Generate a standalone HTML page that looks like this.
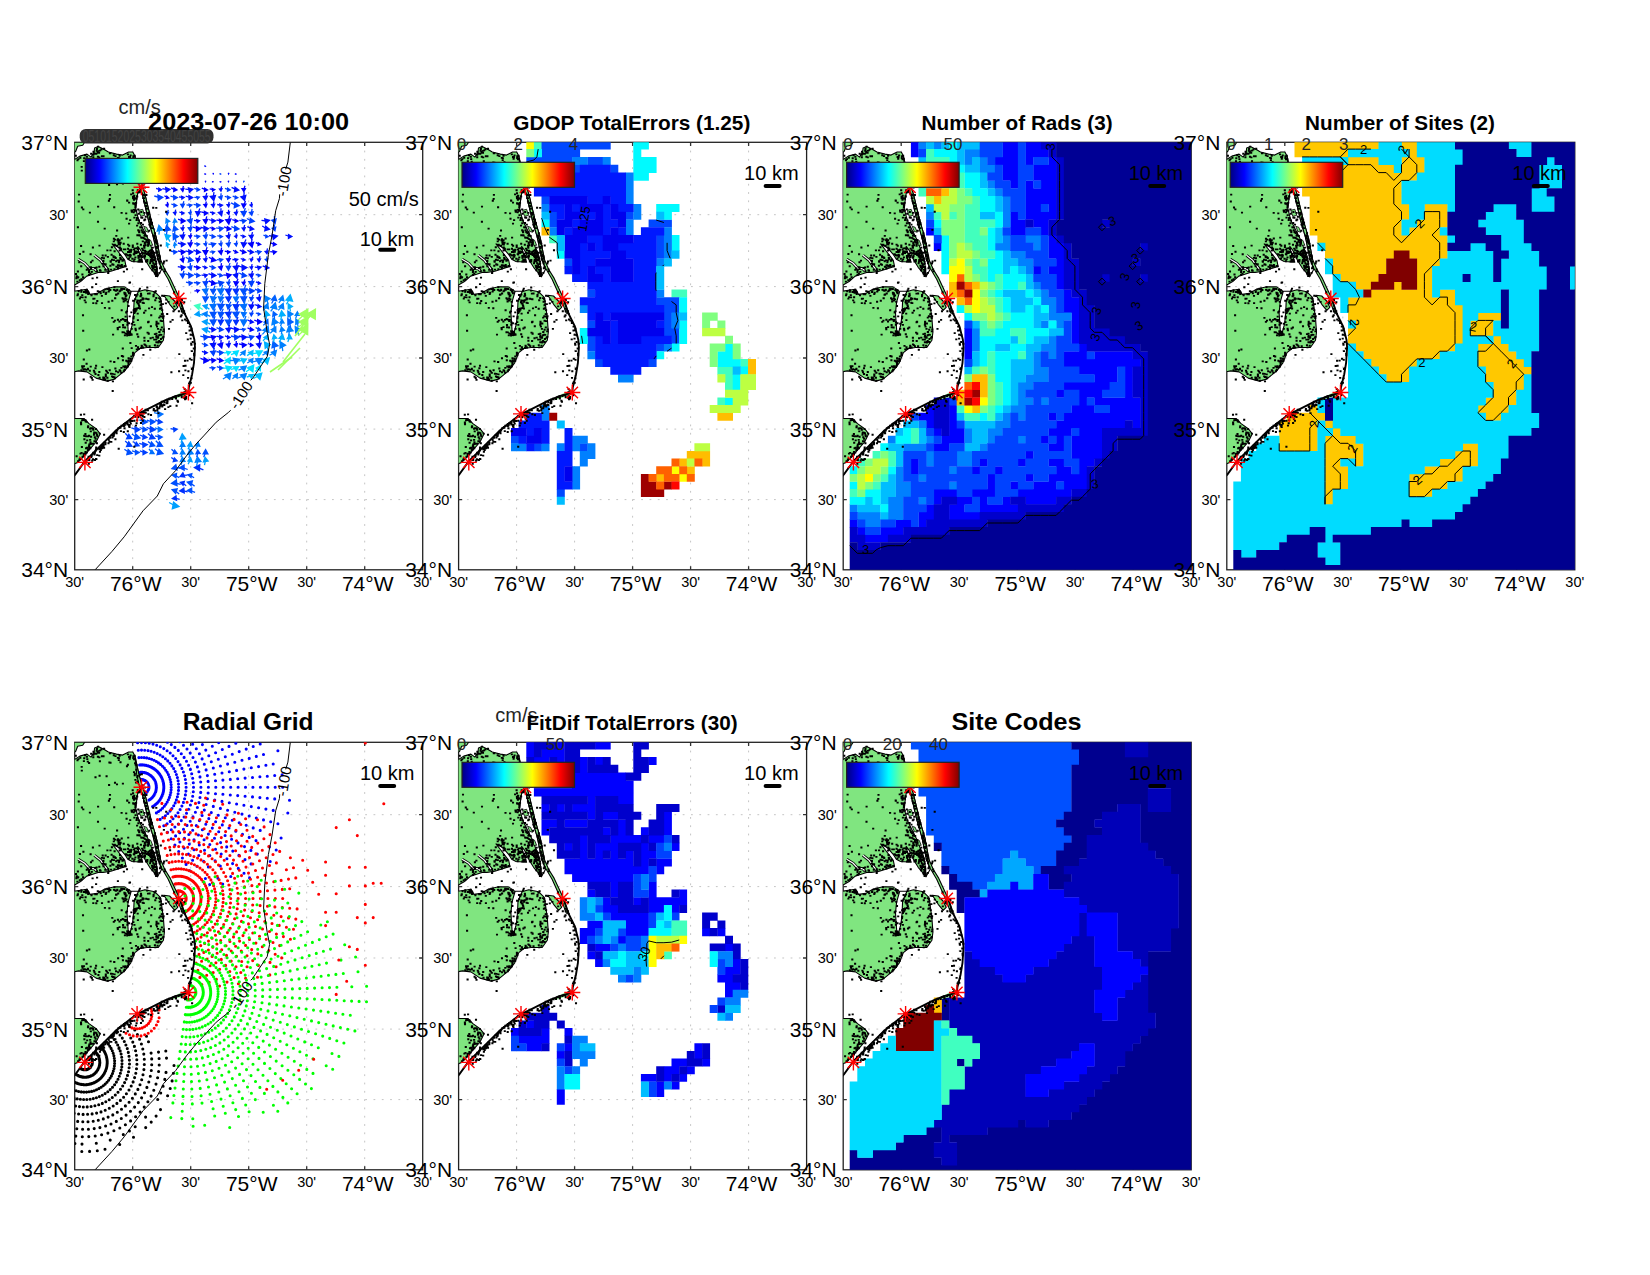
<!DOCTYPE html><html><head><meta charset="utf-8"><style>html,body{margin:0;padding:0;background:#fff;overflow:hidden}svg{display:block;font-family:"Liberation Sans",sans-serif}</style></head><body><svg width="1650" height="1275" viewBox="0 0 1650 1275"><defs><linearGradient id="jetg" x1="0" y1="0" x2="1" y2="0"><stop offset="0.0000" stop-color="#000080"/><stop offset="0.0625" stop-color="#0000bf"/><stop offset="0.1250" stop-color="#0000ff"/><stop offset="0.1875" stop-color="#0040ff"/><stop offset="0.2500" stop-color="#0080ff"/><stop offset="0.3125" stop-color="#00bfff"/><stop offset="0.3750" stop-color="#00ffff"/><stop offset="0.4375" stop-color="#40ffbf"/><stop offset="0.5000" stop-color="#80ff80"/><stop offset="0.5625" stop-color="#bfff40"/><stop offset="0.6250" stop-color="#ffff00"/><stop offset="0.6875" stop-color="#ffbf00"/><stop offset="0.7500" stop-color="#ff8000"/><stop offset="0.8125" stop-color="#ff4000"/><stop offset="0.8750" stop-color="#ff0000"/><stop offset="0.9375" stop-color="#bf0000"/><stop offset="1.0000" stop-color="#800000"/></linearGradient><clipPath id="clip"><rect x="0" y="0" width="348" height="427.5"/></clipPath><clipPath id="ocean"><path d="M58 -5L60.2 13.8L64.2 32.1L66.8 41.3L70.4 52.5L76.5 78L81.6 95.3L85.7 117L90 127L95.6 136.1L104.8 155.9L109.7 170.8L116.3 184.2L119.7 197.5L120.3 205.2L119.3 220.5L117.3 232.7L114.2 244.9L113.7 250.2L101 253.8L90.8 257.9L70.4 268.1L62.4 271.6L50 281.3L39.8 289.5L19.4 309.9L10.2 319L0.5 332.3L-3 336L-5 336L-5 440L360 440L360 -5Z"/></clipPath><g id="land"><g fill="#80e580" stroke="#000" stroke-width="1.1" stroke-linejoin="round"><path d="M-2 18.4L5.1 13.8L12.3 11.8L16.3 14.8L19.4 9.7L19.9 5.6L23.5 4.1L28.6 6.7L33.7 9.7L41.8 11.8L47.9 12.8L54 9.7L58.1 9.7L60.2 13.8L64.2 32.1L66.8 41.3L70.4 52.5L76.5 78L81.6 95.3L85.7 117L82.9 134.3L75 125L70.5 117.7L66 108L63 104L64.2 110L68 120L57.4 119.2L53.1 117L50 112L44.6 105.9L40 102.5L37.4 101.6L42.2 107.7L50.1 118L51.3 124.1L36.2 128.9L28.3 130.1L23.4 130.1L18 132L12 133.8L5.9 139.2L0.7 142.2L-2 142.2Z"/><path d="M-2 149.1L12.3 147L15.3 152.1L22.5 151.1L29.6 147L39.8 144.5L49.7 144.6L55.4 148.1L56.8 155.1L63.1 149.5L70.2 147.4L80.1 149.5L85.7 155.1L86.7 161.3L88.7 175.6L89.7 189.9L88.7 198L83.6 205.2L72.4 205.2L65.3 206.2L60.2 210.3L56.1 220.5L50 228.6L39.8 236.8L32.6 238.8L21.4 235.8L12.3 229.6L4.1 228.6L-2 229.6Z"/><path d="M-2 276.2L5.1 276.2L9.2 276.2L14.3 281.3L21.4 286.4L25.5 291.5L21.4 299.7L14.3 307.8L7.2 316L3.1 320.1L-2 322.1Z"/><path d="M89.2 153L94.9 153.7L99.8 158.7L103 165L100 168L95 162Z"/><path d="M-2 0L10 0L8 3L3 4L1 9L-2 11Z"/><path d="M63 51L62 58L61 66L63 74L65 80L69 88L72 94L75 100L77 106L79 110L81 116L82 124L82.9 134.3L87 127L83.3 117L78.8 95.3L73.8 78L67.8 52.5L66 49.5Z" fill="#fff"/><path d="M64 68L68 67L70 73L66 74Z" stroke-width="0.8"/><path d="M69 84L72 85L74 90L71 89Z" stroke-width="0.8"/><path d="M74 97L76 98L78 103L75 103Z" stroke-width="0.8"/><path d="M60.2 13.8L64.2 32.1L66.8 41.3L70.4 52.5L76.5 78L81.6 95.3L85.7 117L90 127L95.6 136.1L104.8 155.9L109.7 170.8L107.7 170.8L102.5 157L93.5 137L87 126L83.3 117L78.8 95.3L73.8 78L67.8 52.5L64 41.3L62 32.1Z"/><path d="M92 258L104 251.5L112 248L115 249L113 252.5L100 256.5Z" stroke="none"/></g><path d="M56.5 149L53.4 159.7L52.3 170.6L53.4 187.1L54.5 193.7L57.8 181.6L58.9 170.6L59.4 158.6L63.8 149Z" fill="#fff" stroke="#000" stroke-width="1.1"/><path d="M3.5 117L10 121L14.5 125.9L19.8 126.5L22 129" fill="none" stroke="#000" stroke-width="3"/><path d="M3.5 117L10 121L14.5 125.9L19.8 126.5L22 129" fill="none" stroke="#fff" stroke-width="1.2"/><path d="M19.7 113L26 118L29.5 123L33.5 128" fill="none" stroke="#000" stroke-width="3"/><path d="M19.7 113L26 118L29.5 123L33.5 128" fill="none" stroke="#fff" stroke-width="1.2"/><path d="M104.8 155.9L109.7 170.8L116.3 184.2L119.7 197.5L120.3 205.2L119.3 220.5L117.3 232.7L114.2 244.9L113.7 250.2L101 253.8L90.8 257.9L70.4 268.1L62.4 271.6L50 281.3L39.8 289.5L19.4 309.9L10.2 319L0.5 332.3L-3 336" fill="none" stroke="#000" stroke-width="1.9" stroke-linejoin="round"/><path stroke="#000" stroke-width="1.9" stroke-linecap="square" d="M1 13.5h0.2M5.5 15.5h0.2M3.6 16.8h0.2M7 28.3h0.2M2.7 17.9h0.2M13 19.3h0.2M10.3 12.9h0.2M14.3 20.7h0.2M9.1 18.8h0.2M9.4 16h0.2M12.5 16.8h0.2M16.4 11.5h0.2M6.9 24.6h0.2M12.1 14.4h0.2M18.5 15h0.2M19.8 11.6h0.2M18.5 12.4h0.2M24.5 15.1h0.2M23.1 14.5h0.2M19.6 11.2h0.2M25.1 18.9h0.2M34.6 20.2h0.2M18.7 9.4h0.2M24.3 10.6h0.2M23.3 10.6h0.2M23.3 4.3h0.2M21.9 8.5h0.2M22.2 6.5h0.2M24.5 8.6h0.2M25.5 8.1h0.2M22.9 9.5h0.2M26.7 6.9h0.2M29.3 6.5h0.2M28.7 14h0.2M27.2 14h0.2M39 12.9h0.2M35.7 20.4h0.2M40.7 13.8h0.2M35.5 11h0.2M35.1 11.1h0.2M44.8 13.6h0.2M45.7 19.9h0.2M44.1 15.8h0.2M43.1 15.6h0.2M54.3 14.7h0.2M53.1 22.4h0.2M53.1 12.1h0.2M54.9 16.4h0.2M55.2 14.9h0.2M55.8 13.1h0.2M60.8 22.2h0.2M61.5 27.5h0.2M59.9 16.9h0.2M59.8 13.5h0.2M58.6 13.8h0.2M60.9 21h0.2M58.5 15.7h0.2M60.3 16.6h0.2M52.2 23.9h0.2M59.2 29.8h0.2M60 31.4h0.2M67 32h0.2M59.2 17.1h0.2M60.3 20.8h0.2M61.7 22.5h0.2M65.2 32.4h0.2M59.9 33.1h0.2M62.3 39.8h0.2M62.5 35.1h0.2M62.9 39.2h0.2M62.9 33.7h0.2M60.6 37.6h0.2M64.6 49.1h0.2M68.6 43.1h0.2M57.9 47.9h0.2M70.2 45.3h0.2M65.3 45.7h0.2M69.7 53.2h0.2M71.7 63.7h0.2M75 74.8h0.2M69.8 60.5h0.2M75.4 76.7h0.2M78.4 65.4h0.2M60.5 62.3h0.2M74.5 77.2h0.2M76.2 77.7h0.2M73 71.2h0.2M69.5 78h0.2M91.4 69.4h0.2M71.8 66.4h0.2M77.2 85.8h0.2M79.4 96.1h0.2M79.1 94.9h0.2M80 96.2h0.2M80.1 93.3h0.2M80.1 91h0.2M76.5 79.9h0.2M79.4 93.5h0.2M76 81h0.2M79.1 93.9h0.2M76.2 114.8h0.2M81.7 99.8h0.2M78.6 114.7h0.2M81.6 99h0.2M81.2 97.4h0.2M86 103.2h0.2M78.1 113.2h0.2M83.7 117h0.2M76.9 108.5h0.2M84.6 113.4h0.2M83.7 112.2h0.2M83.1 104h0.2M80.3 99.5h0.2M81.1 97.7h0.2M82.5 104.8h0.2M71.7 99.3h0.2M79.1 124.3h0.2M78.8 125h0.2M81.4 129.7h0.2M89.3 119.2h0.2M81.9 130.4h0.2M78.5 121h0.2M84.9 120.9h0.2M77.9 117.4h0.2M81.7 128.8h0.2M78.6 124.8h0.2M90.2 129.1h0.2M80.8 130.4h0.2M82 126.7h0.2M48.5 117.5h0.2M71.2 119.2h0.2M81.8 125.1h0.2M69.8 115.3h0.2M91.8 118.3h0.2M79.4 124.8h0.2M81.4 121.3h0.2M67.4 127h0.2M88.7 121.2h0.2M82.3 131.7h0.2M80.5 130h0.2M78.2 125.7h0.2M89.8 127.1h0.2M78.6 125h0.2M75.3 121.1h0.2M75.7 119.2h0.2M77.2 123.3h0.2M72.5 119.2h0.2M84.8 114.5h0.2M77.7 118.9h0.2M71.8 118.7h0.2M77 116.3h0.2M65.2 112.5h0.2M73.9 112.7h0.2M63.7 115.5h0.2M64.4 114.6h0.2M77.6 110.7h0.2M67.5 110.4h0.2M66.9 113.3h0.2M72 111.7h0.2M64.6 117.6h0.2M70.1 111.5h0.2M69 110.9h0.2M77.4 113.5h0.2M74.8 111.7h0.2M61.7 110.7h0.2M70.2 113.7h0.2M67.3 106.3h0.2M52.8 113h0.2M70.1 100.2h0.2M74.1 100.6h0.2M69.6 105.5h0.2M55.3 112.5h0.2M44.4 118.2h0.2M63.1 106.8h0.2M61.1 109.3h0.2M62.7 109.5h0.2M69.5 104.9h0.2M78 105.3h0.2M68.3 108h0.2M60.3 106.1h0.2M56.6 107.5h0.2M70.2 108.4h0.2M58 104.7h0.2M59.8 110h0.2M65.1 113.4h0.2M75.4 114.1h0.2M66.6 117.7h0.2M71.3 118.1h0.2M63.7 119.2h0.2M67.3 114.9h0.2M74.8 109.1h0.2M64.5 119.3h0.2M76.1 111.7h0.2M63.7 109.7h0.2M72.6 117.6h0.2M66.4 118.2h0.2M73.9 109.3h0.2M57.6 116.4h0.2M59.8 117.1h0.2M58.9 119h0.2M60.6 115.1h0.2M61.8 109.1h0.2M64.8 117.4h0.2M60.3 109.2h0.2M63.6 113.6h0.2M65.6 111.4h0.2M66.1 119.1h0.2M49.9 123.7h0.2M62.5 101.5h0.2M52.2 126.9h0.2M59 111.8h0.2M54.1 116.2h0.2M62.2 105.9h0.2M61.2 110.7h0.2M53.7 113.2h0.2M54.6 109.7h0.2M48.4 118h0.2M51.7 112.2h0.2M51.1 111.9h0.2M59.5 112.2h0.2M55.9 109.6h0.2M49 107.1h0.2M35.6 123.5h0.2M45.1 105.2h0.2M46.1 106.4h0.2M69.8 90h0.2M54.4 103.4h0.2M53.3 102.3h0.2M46.1 107.5h0.2M53.3 106.5h0.2M36 119.4h0.2M50.5 107.1h0.2M43.7 99.9h0.2M41.2 103.3h0.2M43.3 96.8h0.2M44 102h0.2M43.9 100.2h0.2M44.9 105.1h0.2M42.8 97.9h0.2M45.8 100.4h0.2M46.9 96.2h0.2M45.4 100.3h0.2M41.5 93.6h0.2M39 99.1h0.2M40.3 97.3h0.2M42.3 88.2h0.2M36.8 112.5h0.2M45.1 102.2h0.2M39.9 102.4h0.2M48.9 101.4h0.2M32.6 108.1h0.2M39.4 103h0.2M39.8 108.9h0.2M37.1 104.9h0.2M35.7 108.1h0.2M42.3 103.5h0.2M29.1 115.9h0.2M44.8 97.9h0.2M45.5 115.5h0.2M55.9 113.1h0.2M58 103.2h0.2M53.3 109.7h0.2M44.8 108.2h0.2M33.1 114.6h0.2M46.1 116.9h0.2M45.2 112.7h0.2M54.7 107.8h0.2M59.2 107.2h0.2M56.1 109.4h0.2M46 106.3h0.2M44.1 120.1h0.2M41.6 124.3h0.2M38.9 114.9h0.2M41.4 119h0.2M38.7 114h0.2M37.2 117.5h0.2M45.7 115.9h0.2M28.1 121.3h0.2M44.9 123.5h0.2M39.7 126.8h0.2M43.3 125.2h0.2M43.2 122.8h0.2M47.7 118.4h0.2M42.7 118.1h0.2M49.1 129.3h0.2M36.3 127.3h0.2M40.2 114.8h0.2M47 122.7h0.2M30.8 113.2h0.2M50.7 124.1h0.2M41.7 124.4h0.2M39.1 117.8h0.2M38.6 122.5h0.2M40.9 115.7h0.2M43.1 126.3h0.2M45.8 124.4h0.2M37.6 122h0.2M47.5 124.5h0.2M27.9 113.2h0.2M30.5 127.4h0.2M28.7 124.1h0.2M29.5 122h0.2M33.4 127h0.2M30.8 122h0.2M33.4 130.7h0.2M25.2 128h0.2M27.1 115.6h0.2M24.5 124.4h0.2M22.3 135.3h0.2M25.7 128.4h0.2M21.8 125.2h0.2M16.1 125h0.2M17 129.6h0.2M21.3 141.8h0.2M16.3 125.9h0.2M17.7 118.3h0.2M22.1 129h0.2M20.4 125.7h0.2M15.6 131.3h0.2M14.2 130h0.2M15.6 131.4h0.2M14.3 128.2h0.2M12.9 126.2h0.2M15.6 125h0.2M14.2 132.7h0.2M17.8 136.1h0.2M12 127.6h0.2M1.9 134h0.2M7.6 132.2h0.2M3.1 129.2h0.2M6.7 136.9h0.2M8.3 134.9h0.2M3.4 134.9h0.2M1.2 131.7h0.2M2.6 139.3h0.2M3.1 151.9h0.2M10.8 148h0.2M9.9 158.1h0.2M10.9 160.1h0.2M1.6 136h0.2M6.5 149.5h0.2M11 149.9h0.2M11.4 150.4h0.2M3.9 148.9h0.2M2.7 153.1h0.2M9.2 149.7h0.2M6.6 148h0.2M2.9 135.3h0.2M13.3 150h0.2M12 147.4h0.2M7.8 155.1h0.2M7.5 152.8h0.2M12.9 148.9h0.2M17.4 145h0.2M10.8 155h0.2M5.9 154.8h0.2M13.4 151.7h0.2M13.7 150.2h0.2M21.5 160.9h0.2M18.5 160.8h0.2M17.5 144.9h0.2M21.6 151.8h0.2M22.5 158.7h0.2M19.6 156.3h0.2M21.9 152h0.2M20.5 151.9h0.2M18.6 156.4h0.2M16.7 152.9h0.2M25.9 150.9h0.2M28.9 149h0.2M34.6 165.9h0.2M27.1 153.6h0.2M24.8 149.3h0.2M33.8 159.4h0.2M23 148.8h0.2M28.8 149.7h0.2M31 151.7h0.2M33.1 146.8h0.2M34.5 148.1h0.2M34.2 146.2h0.2M33.3 146.4h0.2M30.6 147.1h0.2M41.3 152.5h0.2M40.4 156.1h0.2M32.7 146.3h0.2M39.6 144.9h0.2M33.9 149.3h0.2M35.5 147.7h0.2M39.2 147.6h0.2M34.6 148.1h0.2M31.4 150.5h0.2M42.5 148h0.2M43.1 138.8h0.2M45.6 148.2h0.2M46.5 146.5h0.2M42.5 147.3h0.2M44.9 149.1h0.2M47.8 146.6h0.2M47.8 155.9h0.2M43.4 151.2h0.2M40.3 156h0.2M41.1 148.4h0.2M40.3 148.1h0.2M41.8 152.2h0.2M47 147.6h0.2M53.1 147.9h0.2M49.5 146.7h0.2M54.7 140.5h0.2M55.2 140.1h0.2M52.5 147.7h0.2M49.6 150.4h0.2M72.5 145.2h0.2M54 147.8h0.2M50 151.9h0.2M50.5 150.9h0.2M64.4 148.2h0.2M54.2 151h0.2M51.7 153.1h0.2M52.1 147.7h0.2M67.8 157.2h0.2M62.3 160h0.2M63.8 160.8h0.2M53.7 149.8h0.2M65.7 153.9h0.2M66 157.8h0.2M69 160.8h0.2M66.2 151.4h0.2M65.1 146.3h0.2M67.8 155.9h0.2M71.4 156.5h0.2M68.8 156.4h0.2M78.8 152.7h0.2M74.8 151.2h0.2M79.7 150.5h0.2M72.4 148.3h0.2M73.2 151.3h0.2M73 156.8h0.2M78.7 154.1h0.2M80.9 149h0.2M87.4 153.4h0.2M84.9 159.4h0.2M84.4 155.8h0.2M85.5 156.7h0.2M81.5 155.7h0.2M86.1 158.9h0.2M105.8 158.1h0.2M88.4 174.3h0.2M74.3 166.1h0.2M87.8 171.7h0.2M86.4 162.2h0.2M88.8 174h0.2M92.4 171.7h0.2M87.4 167.8h0.2M77.2 164.8h0.2M87 174.2h0.2M88.4 175.7h0.2M85.6 174h0.2M85.8 163h0.2M76.4 173h0.2M86.2 165.8h0.2M87 171.8h0.2M85.2 166.4h0.2M84.5 189.8h0.2M85.9 178.5h0.2M95.7 179.4h0.2M87.3 178.8h0.2M73.3 179.9h0.2M81.8 180.6h0.2M88.8 189.1h0.2M81.6 182.5h0.2M76.1 183.9h0.2M84.7 189.6h0.2M82.2 184.3h0.2M81.8 179.5h0.2M87.1 185.1h0.2M73.8 179.4h0.2M85.9 187.5h0.2M83.2 186.6h0.2M83.6 181.2h0.2M94.2 186.6h0.2M88.5 189.1h0.2M89 187.1h0.2M88.6 194.6h0.2M86.2 196.7h0.2M87.9 195.5h0.2M80.1 191.8h0.2M86.5 192.6h0.2M81.6 191.5h0.2M85.5 192.3h0.2M84.4 193h0.2M83.3 195.4h0.2M81.6 200h0.2M73.9 191.4h0.2M80.1 202.8h0.2M81.8 193.7h0.2M84.4 198.6h0.2M81.5 197.2h0.2M82.8 203.5h0.2M83.6 200.2h0.2M86 199.7h0.2M83.8 199.6h0.2M81.5 194.5h0.2M83.1 194.8h0.2M73.9 191.2h0.2M74.8 203.9h0.2M79.5 197.3h0.2M73.4 198.7h0.2M80.5 205.1h0.2M78 195.3h0.2M75.8 195.9h0.2M72.8 190.3h0.2M75.5 207.4h0.2M67 203.9h0.2M66.9 203.4h0.2M69.7 198.5h0.2M70.6 202.8h0.2M68.3 205.2h0.2M71.6 203.8h0.2M69.7 202.1h0.2M66.4 205.7h0.2M68.6 212.6h0.2M69.6 195.4h0.2M63.2 205h0.2M62 207.1h0.2M56.9 205.8h0.2M61.2 203.6h0.2M58.2 212.6h0.2M56.6 214.1h0.2M58.2 210.4h0.2M55 218.9h0.2M58.3 211.4h0.2M56 216.4h0.2M56.5 218.5h0.2M53.8 215.8h0.2M58.6 213h0.2M48.3 214.2h0.2M47.1 213.7h0.2M54 217.8h0.2M51.9 225h0.2M43.3 216h0.2M50.1 225.1h0.2M48.6 224.2h0.2M53.1 223.7h0.2M48.1 217.9h0.2M53.8 219.7h0.2M52.6 224.8h0.2M53.7 221.7h0.2M50.7 223.8h0.2M52.7 219.2h0.2M39.5 219.7h0.2M49.8 227.4h0.2M46.4 230.4h0.2M36.5 231.4h0.2M44.9 227.8h0.2M39.4 219.6h0.2M39.8 232.1h0.2M39.6 235h0.2M49 229h0.2M34.9 228h0.2M40.6 226.2h0.2M41.3 228.9h0.2M43.4 230h0.2M45.5 228.6h0.2M46.6 225.6h0.2M35.8 219.1h0.2M38.1 239.1h0.2M37.9 248.7h0.2M38.1 234.7h0.2M31 233.9h0.2M33.1 230.6h0.2M36.2 231.3h0.2M33 238.5h0.2M37.3 234.1h0.2M37.7 231.6h0.2M32.6 235.5h0.2M27.6 224.8h0.2M28.7 237.2h0.2M24.8 235.4h0.2M31.4 228.3h0.2M28.5 235.2h0.2M30.4 237.1h0.2M32.1 229.3h0.2M31 232.1h0.2M29.5 235.6h0.2M19.7 229.9h0.2M19.1 228.3h0.2M15 228.4h0.2M17.8 237.6h0.2M15.9 234.5h0.2M20.7 225.9h0.2M15.9 224.3h0.2M24.5 229.7h0.2M21.3 223.4h0.2M20.7 231.7h0.2M23.6 232.7h0.2M17 235.7h0.2M11.8 221.4h0.2M6.6 228h0.2M10 226.8h0.2M13 227h0.2M9.1 224h0.2M8.9 237.2h0.2M8.9 227.5h0.2M13.1 226.5h0.2M7.7 225.5h0.2M7.4 223.8h0.2M11.5 227.6h0.2M12.1 208.2h0.2M6.2 280.2h0.2M9.4 272.1h0.2M8.4 277.2h0.2M6.1 272.5h0.2M17.3 277.4h0.2M8.9 277.8h0.2M9.2 277.5h0.2M10.7 278h0.2M7.4 277.9h0.2M11.6 279.4h0.2M10.8 278.9h0.2M11.6 279.5h0.2M17.3 285.8h0.2M15.4 286.5h0.2M18.2 286.3h0.2M16.1 285.9h0.2M21.2 286.8h0.2M13.4 283.9h0.2M16 289.1h0.2M13.2 285h0.2M9.6 297h0.2M19.5 290.2h0.2M22.1 292.6h0.2M20.7 290.3h0.2M15.7 300h0.2M19.2 292.4h0.2M12.4 298.1h0.2M10.4 293.8h0.2M20.8 298.9h0.2M20.8 296.4h0.2M11.5 293.9h0.2M22.1 300.9h0.2M20 295h0.2M22.6 294h0.2M29.3 292.4h0.2M24.9 291.3h0.2M19.3 291.3h0.2M13.5 294.1h0.2M14.2 304h0.2M19.7 299h0.2M15.8 301.3h0.2M21.4 305.2h0.2M14.5 302.2h0.2M15 305.2h0.2M13.1 307.8h0.2M14.3 293.5h0.2M12.3 305.5h0.2M10.9 300.4h0.2M16.7 301.4h0.2M15.4 297.6h0.2M15.5 305.9h0.2M14.5 305.9h0.2M10.6 291.7h0.2M15.6 301.8h0.2M9.4 293.4h0.2M18.3 301.4h0.2M8.9 311.9h0.2M11.3 305.9h0.2M13.8 314.3h0.2M7.8 314.5h0.2M10.7 309.7h0.2M11.9 310.2h0.2M13.6 307.4h0.2M6.8 310.6h0.2M9 313.6h0.2M9.3 311.3h0.2M7.1 304.7h0.2M10.6 312.2h0.2M11.4 310.3h0.2M5.7 311.3h0.2M4.6 317.4h0.2M3.2 319.8h0.2M3.3 318.9h0.2M4.7 317.1h0.2M5.6 316.6h0.2M60.4 56.2h0.2M58.3 56.1h0.2M61.6 56.5h0.2M59.4 53.3h0.2M58.3 50.9h0.2M59.1 55.2h0.2M58.2 54.3h0.2M56.4 52.1h0.2M60.7 55.8h0.2M60.6 61.2h0.2M59.2 57.5h0.2M69.3 58.9h0.2M52.4 58.1h0.2M71.1 60.8h0.2M58.7 61.4h0.2M54.3 60.3h0.2M52.5 58.5h0.2M60.8 62.3h0.2M71.2 60.5h0.2M60.8 63.2h0.2M61.3 60.6h0.2M59 67.6h0.2M57.1 68.4h0.2M66.5 69.7h0.2M56.8 68.2h0.2M59 70h0.2M51.4 71.1h0.2M60.2 68.4h0.2M63.9 71.5h0.2M61.4 68.5h0.2M60 67.4h0.2M57.1 69.6h0.2M63.5 67.1h0.2M64.1 78.2h0.2M62.4 75.6h0.2M70.3 77.2h0.2M67.5 75.4h0.2M62.2 76h0.2M59.6 75.3h0.2M61.8 77.8h0.2M54.3 81.3h0.2M63.8 88.3h0.2M65.5 85h0.2M66.9 87.8h0.2M64.4 89.9h0.2M64.5 89.2h0.2M63.5 88h0.2M62.3 83.3h0.2M63.6 81h0.2M68.1 82.3h0.2M70.3 92.5h0.2M62.6 93h0.2M67.9 89.9h0.2M76.6 85.8h0.2M68.5 95.6h0.2M67.1 95.5h0.2M64.5 92.9h0.2M68.8 90.9h0.2M66.5 95.2h0.2M71.9 93.7h0.2M69.2 103.3h0.2M71.7 97.6h0.2M79.3 93.1h0.2M74 99.3h0.2M70 101.3h0.2M69.4 96.1h0.2M74 98.5h0.2M72.4 98.1h0.2M79.2 95.2h0.2M70.5 96.8h0.2M66.1 102.5h0.2M73.3 102.4h0.2M73.3 103.6h0.2M81.9 101.3h0.2M77.9 109.1h0.2M76.5 107.8h0.2M76.8 107.5h0.2M73.2 110.9h0.2M77.3 109.3h0.2M70.6 109.2h0.2M78.3 114.6h0.2M80.5 116.1h0.2M78.1 110.8h0.2M77.9 117h0.2M79.5 114.5h0.2M79.8 116.8h0.2M76.4 113.8h0.2M78.5 112.4h0.2M79.5 123h0.2M80.5 121.8h0.2M84.9 115.5h0.2M79.4 117.2h0.2M76.4 118.4h0.2M76 119.1h0.2M79.8 124.5h0.2M77.1 123.3h0.2M77.5 124.7h0.2M79.9 117.9h0.2M76 117.4h0.2M81.9 127.5h0.2M81.6 129.5h0.2M80.2 127.6h0.2M80.1 130.9h0.2M81.3 133.7h0.2M80.6 131.9h0.2M84.6 130.6h0.2M81.3 124.7h0.2M66 117.8h0.2M85.2 126h0.2M77.7 127.9h0.2M85.9 124.6h0.2M81.2 119.3h0.2M83.3 116.8h0.2M83.8 118.1h0.2M85.2 119.1h0.2M78.7 126.1h0.2M81.7 124.8h0.2M82 105.9h0.2M82.7 113.3h0.2M74.8 111.8h0.2M75.2 108.4h0.2M82.6 101.4h0.2M82.8 109.8h0.2M84.6 116.3h0.2M77.8 117.8h0.2M68 99.1h0.2M80.4 98.8h0.2M71.1 109.5h0.2M77.7 110.6h0.2M80.8 105h0.2M82.2 110.3h0.2M76.3 117.5h0.2M76 113.4h0.2M81.9 108.8h0.2M83.3 113.7h0.2M72.5 100.3h0.2M80 110.4h0.2M76.2 110.6h0.2M77.7 113.3h0.2M83.5 112.1h0.2M81 104.7h0.2M83.2 113.9h0.2M81.3 100.2h0.2M95.3 107.9h0.2M73.6 98h0.2M76 110.7h0.2M79.9 93.8h0.2M77.1 80.6h0.2M75.7 84.8h0.2M69.7 93.6h0.2M64.9 93.3h0.2M75.6 83.4h0.2M79.6 95.4h0.2M79.8 94.1h0.2M89.1 87.6h0.2M76.1 82h0.2M66.3 80.7h0.2M74.4 88.4h0.2M74.6 82.3h0.2M75.6 79.6h0.2M77.1 81.9h0.2M75.2 75.7h0.2M81.5 65.6h0.2M74.3 70.3h0.2M69.8 60.5h0.2M68.5 55.8h0.2M69.7 70.6h0.2M73.3 70.7h0.2M60.8 72.8h0.2M68.4 52.8h0.2M71.6 52.7h0.2M71 74.4h0.2M73.5 72.5h0.2M71.1 63.7h0.2M72.7 66.3h0.2M60.6 65.1h0.2M62.4 54.3h0.2M73.5 71.9h0.2M71.2 61h0.2M71.5 66.1h0.2M74.4 71.3h0.2M69.3 56h0.2M66.5 75.2h0.2M62.2 53.8h0.2M68.9 52.5h0.2M64.3 49.9h0.2M67 51.1h0.2M63.3 49.9h0.2M63 48h0.2M64 49.1h0.2M64.7 48.1h0.2M50.8 158h0.2M50.4 158.2h0.2M53.3 148.8h0.2M48.9 159.2h0.2M51.7 157.1h0.2M48.7 156.9h0.2M50.6 155.8h0.2M51 153.7h0.2M60.3 167.9h0.2M52.2 169.1h0.2M58.9 167.9h0.2M30.1 165.6h0.2M53.7 163.7h0.2M51.4 169.8h0.2M65.2 166.2h0.2M61.7 166.2h0.2M43.1 177.5h0.2M52.6 182.4h0.2M62.9 171.3h0.2M48.3 182.7h0.2M37.5 175.6h0.2M50.3 185.2h0.2M50.9 177.8h0.2M44.8 184.8h0.2M54.2 180.9h0.2M66 185.2h0.2M50.8 174.3h0.2M44.7 179.2h0.2M47.9 176.7h0.2M42.9 185.7h0.2M64.7 186.2h0.2M50.7 191.1h0.2M49.1 190.1h0.2M54.2 192.8h0.2M54.8 192.8h0.2M50.1 193.1h0.2M52.4 193.2h0.2M52.5 188.8h0.2M48.4 184.9h0.2M52.6 192.1h0.2M59.6 182.6h0.2M53.3 190.8h0.2M52.9 189.9h0.2M52.7 179.9h0.2M56.7 192.6h0.2M56.8 192.2h0.2M55.3 190.3h0.2M53.4 189.2h0.2M47.8 189.9h0.2M56.9 186.6h0.2M54.3 189.3h0.2M62.5 192h0.2M52 191.4h0.2M43 186.9h0.2M56.1 191.8h0.2M50.5 178.7h0.2M58.7 176h0.2M56.6 170.1h0.2M57 181.4h0.2M46.3 177.6h0.2M51.2 177.6h0.2M54.9 174.1h0.2M58.6 179.8h0.2M59.6 170.8h0.2M58.9 174.3h0.2M49 177.3h0.2M59.9 169.7h0.2M64.2 158.4h0.2M53 159.6h0.2M61.8 167.3h0.2M63.1 161.3h0.2M69.3 170.4h0.2M64.2 163h0.2M70.7 168.3h0.2M65.5 159.5h0.2M63.8 165.7h0.2M51.4 170.3h0.2M60.9 168.4h0.2M60.5 169h0.2M64.6 164.1h0.2M60 166.7h0.2M60.4 157h0.2M60.3 152.7h0.2M62.7 158.1h0.2M66.4 153.2h0.2M59.3 158.6h0.2M58.4 158.4h0.2M50.7 151.9h0.2M62.6 152.3h0.2M61.6 154.1h0.2M102.7 258.4h0.2M103.8 253.7h0.2M106.7 253h0.2M107 255h0.2M114.1 251.2h0.2M110.3 257h0.2M101 254h0.2M111.3 254.7h0.2M109.9 253.3h0.2M109.8 255.7h0.2M109.4 255.2h0.2M104.9 252.8h0.2M114.3 252.6h0.2M113.4 251.1h0.2M110.7 255.9h0.2M117.3 260.9h0.2M114.5 253.1h0.2M111.3 256.2h0.2M98.6 254.8h0.2M95.5 263.8h0.2M103.2 259.4h0.2M92.5 258h0.2M94.8 257.1h0.2M100 254.5h0.2M94.3 256.5h0.2M92.4 257.3h0.2M92.7 259h0.2M101.8 263.5h0.2M92.4 258.5h0.2M101.2 255.3h0.2M97.4 256.7h0.2M92.5 260.7h0.2M101.1 256.3h0.2M82.8 266.2h0.2M86.2 260.8h0.2M76.2 272.7h0.2M91.8 260.9h0.2M73.1 268.1h0.2M81.9 264.7h0.2M86.1 262.7h0.2M90.3 266.8h0.2M85.5 263.2h0.2M93.6 264.8h0.2M82.5 268.2h0.2M70.7 268.1h0.2M82.1 264.7h0.2M83.6 270.8h0.2M73.6 271.9h0.2M70.9 270.5h0.2M89.5 262.7h0.2M89.6 259.7h0.2M87.5 264.2h0.2M92.4 259.6h0.2M84.5 266h0.2M80.3 268.5h0.2M85.4 261.2h0.2M87.7 262.9h0.2M88.9 262.1h0.2M81.8 263.8h0.2M79 266.6h0.2M70.9 267.5h0.2M78.9 268.1h0.2M85 264.3h0.2M87 259.4h0.2M65.9 272.7h0.2M66 271.2h0.2M65 271.8h0.2M64.8 273.8h0.2M67.8 269.7h0.2M68.5 270.8h0.2M69.6 274.7h0.2M67.9 273.2h0.2M67.8 273.9h0.2M68 278.4h0.2M67.4 273h0.2M69.6 270.2h0.2M59.5 278.6h0.2M54.3 284.1h0.2M52.8 280.3h0.2M59.2 273.8h0.2M66.2 280.7h0.2M67 276.5h0.2M62.5 271.8h0.2M62.4 277.8h0.2M61.1 283.3h0.2M56 281.3h0.2M52.7 282.2h0.2M55.2 277.4h0.2M57.3 278.7h0.2M63.6 274.9h0.2M63.8 273.5h0.2M51.2 281.1h0.2M55.4 279.5h0.2M59.6 278.5h0.2M54.8 284.8h0.2M61.8 281h0.2M60.6 274.5h0.2M54.8 282.7h0.2M49 289.7h0.2M45.6 285.4h0.2M53 288.9h0.2M41.2 288.4h0.2M46.1 288.8h0.2M59.5 304.4h0.2M50.3 281.2h0.2M49.7 285.9h0.2M49.2 281.7h0.2M43.6 285.9h0.2M46.7 283.4h0.2M49.9 283h0.2M41.4 289.6h0.2M49.1 283.7h0.2M49.5 283.1h0.2M45.5 284.7h0.2M44.8 285.5h0.2M42.4 288.2h0.2M25.2 309.6h0.2M37.8 295.2h0.2M29.9 300.2h0.2M21.3 307.4h0.2M28.4 302.5h0.2M27.9 304.7h0.2M27.3 302.7h0.2M38.4 291.7h0.2M24.2 306.1h0.2M26 307.8h0.2M26.6 305.3h0.2M28.5 303.7h0.2M26.6 304.1h0.2M39.3 291.2h0.2M26.1 305.5h0.2M21.4 306.9h0.2M25.1 306.2h0.2M34.7 299.5h0.2M40.6 297h0.2M33.7 300.9h0.2M24.5 313.3h0.2M36.5 299.6h0.2M39 292.7h0.2M30.7 300.4h0.2M35.4 295.4h0.2M26.9 303.1h0.2M28.8 303.1h0.2M24.6 307.1h0.2M22.4 312.8h0.2M37 292.9h0.2M38.8 293.8h0.2M43.9 306.4h0.2M27.3 305.9h0.2M30.6 300.3h0.2M29.3 305.5h0.2M30.6 301.9h0.2M20.8 308.5h0.2M40.3 290h0.2M33.9 297.5h0.2M41.8 290.9h0.2M14.8 315.6h0.2M21.2 316.6h0.2M14.5 317.7h0.2M14.1 317.4h0.2M18.5 311.3h0.2M18.1 316.8h0.2M19.8 317.7h0.2M19.7 312.3h0.2M11.9 318.2h0.2M16.4 314.8h0.2M18.4 310.8h0.2M18.6 310.5h0.2M20.1 310.5h0.2M16.9 313.5h0.2M21.6 316.8h0.2M17.4 318.4h0.2M14 321.6h0.2M20.2 317.7h0.2M107 168.9h0.2M91.1 161.1h0.2M103.7 161.6h0.2M102.1 160.5h0.2M109.3 168.9h0.2M106.7 166.6h0.2M102.1 159h0.2M102.9 160.9h0.2M110 171.3h0.2M113.2 180.8h0.2M110.3 177.2h0.2M111.7 178.3h0.2M113.2 178.9h0.2M97.8 177.6h0.2M107.5 178.1h0.2M106.8 173h0.2M114.9 184.3h0.2M115.9 192.4h0.2M115.9 188.1h0.2M111.4 190.8h0.2M115.8 196.3h0.2M116.7 186.5h0.2M114.8 188.2h0.2M113 197.1h0.2M118 193h0.2M117.9 199.7h0.2M116.4 201.3h0.2M116.6 202.5h0.2M120.1 201.4h0.2M115.1 216.5h0.2M104.5 211.8h0.2M110.2 218.4h0.2M117.1 208.8h0.2M119.3 211.4h0.2M116.8 217.6h0.2M119 206.2h0.2M112.7 218.3h0.2M119.4 213h0.2M110.7 223.4h0.2M113.6 229h0.2M117.7 226h0.2M108.8 223.7h0.2M117.1 226.7h0.2M110.6 228.1h0.2M104.3 229h0.2M108.5 232.8h0.2M115.1 239.8h0.2M113.3 235.6h0.2M116.7 236.1h0.2M96.6 229.9h0.2M114.3 241.1h0.2M116 240.6h0.2M109.9 246.8h0.2M111 248.2h0.2M109.8 249.8h0.2M89.2 153.8h0.2M91.5 157.3h0.2M99.3 150h0.2M109.4 159.9h0.2M107.1 157.7h0.2M106 174.2h0.2M104.1 169h0.2M99.5 164.1h0.2M98.7 169h0.2M93.7 159.6h0.2M88.1 161.8h0.2M8.2 173h0.2M1.8 313.9h0.2M63.4 194.5h0.2M70.8 103h0.2M5.1 156.3h0.2M4.3 52.3h0.2M8.4 188.4h0.2M58.4 60.8h0.2M23.2 79.5h0.2M4.5 120h0.2M3.1 85h0.2M6.3 281.9h0.2M84.5 175.3h0.2M37.5 158.4h0.2M40.1 178.3h0.2M55.6 200.7h0.2M24.7 103.3h0.2M46.9 167.9h0.2M35 56.6h0.2M16.2 120h0.2M63.1 177.8h0.2M51.5 218.5h0.2M35.8 119h0.2M80.5 157.9h0.2M27.2 160.8h0.2M18.5 287.5h0.2M67 45.5h0.2M61 188h0.2M38.3 192.3h0.2M5.1 111.7h0.2M67.5 89.4h0.2M80 166.4h0.2M51.8 76.4h0.2M61.2 40.3h0.2M55.5 114.4h0.2M8.6 109.4h0.2M14.5 207.2h0.2M55.4 77.8h0.2M60.7 186.4h0.2M81 98.6h0.2M82.5 195h0.2M6.3 103.7h0.2M8.5 67.1h0.2M40.2 236.1h0.2M33.9 129h0.2M5 137.9h0.2M21.5 11.5h0.2M24.8 33.5h0.2M9 217.2h0.2M28.6 118.7h0.2M73.5 109.7h0.2M48.1 41.3h0.2M15.1 70.3h0.2M7.1 65.2h0.2M31.8 33.9h0.2M44 17.8h0.2M21.7 290.8h0.2M48 206.2h0.2M39.1 96.5h0.2M16.3 294.4h0.2M42.2 42.1h0.2M68 160.5h0.2M40.2 40.5h0.2M34.3 42.7h0.2M15.8 111.9h0.2M34.1 58.4h0.2M3.9 59.2h0.2M65.9 45.1h0.2M53.4 95.3h0.2M29.9 86.3h0.2M6.4 124h0.2M35.2 52.6h0.2M46.8 70.6h0.2M63.9 206.6h0.2M43.8 122.9h0.2M66.8 85.2h0.2M39 179.6h0.2M18.1 105.2h0.2M73.7 156.9h0.2M23.3 64.3h0.2M20.7 34.9h0.2M39.4 65h0.2"/></g><path id="sites" d="M58.8 44.9L74.8 44.9M61.1 39.2L72.5 50.6M66.8 36.9L66.8 52.9M72.5 39.2L61.1 50.6M96 156.2L112 156.2M98.3 150.5L109.7 161.9M104 148.2L104 164.2M109.7 150.5L98.3 161.9M105.7 250.2L121.7 250.2M108 244.5L119.4 255.9M113.7 242.2L113.7 258.2M119.4 244.5L108 255.9M54.4 271.6L70.4 271.6M56.7 265.9L68.1 277.3M62.4 263.6L62.4 279.6M68.1 265.9L56.7 277.3M2.2 320.1L18.2 320.1M4.5 314.4L15.9 325.8M10.2 312.1L10.2 328.1M15.9 314.4L4.5 325.8" stroke="#ff0000" stroke-width="1.4" fill="none"/><g id="iso"><g fill="none" stroke="#000" stroke-width="1"><path d="M215.6 0L213.2 19.8L211 27"/><path d="M205 52L204.7 56.3L201 68.4L197.4 92.7L193.7 112.2L190.1 141.3L188.9 165.7L192.5 190L194.9 202.1L192.5 214.3L177.9 236.1L176 238"/><path d="M156 268L153.6 270.2L141.5 279.9L129 293.6L121.4 301.7L112.2 312.9L101 328.2L88.7 341.5L82.6 353.7L68.3 368.5L49.5 394.5L37.4 409L20.5 427.4"/></g><text x="0" y="5" font-size="15" text-anchor="middle" transform="translate(209.5,39) rotate(-80)">-100</text><text x="0" y="5" font-size="15" text-anchor="middle" transform="translate(166.5,253) rotate(-57)">-100</text></g></defs><rect width="1650" height="1275" fill="#fff"/><g transform="translate(74.7,142.3)"><g stroke="#c4c4c4" stroke-width="1" stroke-dasharray="1.8 6.5"><line x1="58" y1="0" x2="58" y2="427.5"/><line x1="116" y1="0" x2="116" y2="427.5"/><line x1="174" y1="0" x2="174" y2="427.5"/><line x1="232" y1="0" x2="232" y2="427.5"/><line x1="290" y1="0" x2="290" y2="427.5"/><line x1="0" y1="72.4" x2="348" y2="72.4"/><line x1="0" y1="144.3" x2="348" y2="144.3"/><line x1="0" y1="215.7" x2="348" y2="215.7"/><line x1="0" y1="286.8" x2="348" y2="286.8"/><line x1="0" y1="357.3" x2="348" y2="357.3"/></g><rect x="0" y="0" width="348" height="427.5" fill="none" stroke="#222" stroke-width="1.3"/><path d="M58 427.5v-3.6M58 0v3.6M0 72.4h3.6M348 72.4h-3.6M116 427.5v-3.6M116 0v3.6M0 144.3h3.6M348 144.3h-3.6M174 427.5v-3.6M174 0v3.6M0 215.7h3.6M348 215.7h-3.6M232 427.5v-3.6M232 0v3.6M0 286.8h3.6M348 286.8h-3.6M290 427.5v-3.6M290 0v3.6M0 357.3h3.6M348 357.3h-3.6" stroke="#333" stroke-width="1.3" fill="none"/><g clip-path="url(#clip)"><path fill="#0010ff" d="M131.9 23.9L130.3 24.9L130.2 23.1ZM153.7 32.9L152.9 31.2L154.7 31.3ZM161.5 40.7L160.4 39.2L162.2 39ZM88.1 47.5L83.3 50L83.5 44.8ZM96.6 46.9L91 51L90.2 44.3ZM119.4 46.6L114.3 51.1L112.9 44.6ZM146.4 50.2L143.6 46.3L148.3 45.8ZM165.4 48L158.9 50.5L159.8 43.8ZM110.8 54.9L106.7 57.9L106.1 53ZM119.3 55.1L113.8 58.5L113.5 52.2ZM131.1 59L127.5 53.6L133.8 53.1ZM139.3 59.6L134.4 53.8L141.7 52.4ZM170.2 59.5L164.9 54.1L172 52.2ZM138.9 66.2L135.6 61.8L140.9 61.1ZM149.1 62.7L144.9 65.7L144.3 60.7ZM154.2 66L151.1 62L155.9 61.2ZM177.5 65.7L174.1 62.4L178.4 61.1ZM100.6 73.7L97.7 69.7L102.4 69.2ZM110.7 70.8L106.5 73.2L106.4 68.5ZM122.9 75L119.9 68.6L126.7 69ZM141.2 70.7L137.2 73.2L137 68.6ZM147.3 74.6L142.4 70L148.6 68ZM161.7 74L158.6 69.6L163.8 69ZM126.3 78.1L122.1 81.5L121.2 76.4ZM142.2 78.5L136.7 81.8L136.5 75.6ZM196.1 77.7L190.7 82.5L189.2 75.7ZM108.3 89.5L105.1 85.2L110.2 84.6ZM135.1 86.3L128.8 90.1L128.6 82.9ZM169.4 89.6L166.3 85.2L171.5 84.6ZM180.3 86.9L174.5 89.2L175.3 83.2ZM196.1 87.3L189.2 89.5L190.6 82.6ZM108.2 98.2L104.4 92.5L111 92ZM154.6 97.7L150.4 93.2L156.2 91.8ZM162.1 96.8L158.8 93.6L163.2 92.3ZM171.8 94.3L167.6 96.5L167.7 91.9ZM177 97.9L173.4 92.7L179.6 92.1ZM204 93.4L198.2 98.3L196.7 91.1ZM218.5 94.3L213.1 97.2L213.2 91.2ZM111.8 101.7L106.2 105.4L105.7 98.9ZM168.7 106.3L165.6 99.6L172.8 100.2ZM119.4 109.5L113.8 113.2L113.3 106.7ZM127 110L121.1 112.9L121.4 106.5ZM180.1 110L174.8 112.6L175.1 106.8ZM192.4 112.8L189.2 108.6L194.3 108ZM131.3 120.8L127.8 116.3L133.3 115.5ZM164.3 116.8L160.6 120.4L159.3 115.5ZM171.8 117.8L167.5 119.7L167.9 115.2ZM176.4 120.3L174.5 115.9L179.2 116.4ZM184.5 120.7L181.7 116.2L186.8 115.9ZM111.8 124.8L106.4 128.9L105.5 122.3ZM133.5 125.5L129.4 127.5L129.6 123ZM162 129.7L157.5 123.6L164.8 122.7ZM173.5 125.2L166.9 129.1L166.7 121.7ZM177.1 128.1L174.2 124.3L178.8 123.6ZM187.7 124.5L183.3 128.5L182 123ZM195.5 125.7L189.9 128.1L190.5 122.2ZM133.9 132.1L130.1 136.2L128.5 131ZM142.5 133.2L136.4 136.4L136.5 129.7ZM162.6 137.1L157.5 132.1L164.1 130.1ZM177.1 136.9L173.3 131.5L179.6 130.9ZM187 141L182.9 143.1L183.1 138.5ZM185.2 159.9L180.9 155.3L186.9 153.9ZM176.6 168.3L173.2 162L180.2 162.1ZM187.7 164.4L182.4 166.8L182.9 161.1ZM180 180L174.7 182.1L175.4 176.6ZM142.2 187.1L136.7 190.5L136.4 184.2ZM154.2 191.3L150.2 185.6L156.9 184.9ZM165.6 186.9L159.6 191L159 183.9ZM149.6 194.8L144.5 198L144.2 192.2ZM156.7 195.1L152.2 197.4L152.4 192.5ZM173.2 194.6L167.2 198.7L166.6 191.7ZM139 207.2L134.5 200.9L141.9 200.1ZM154.3 206.3L150.5 201.4L156.5 200.4ZM185.1 206.7L180.6 201.3L187.3 200.1ZM133.9 210.5L129.2 213L129.3 207.8Z"/><path fill="#0000ff" d="M131.9 31.6L130.4 32.8L130.1 31ZM138.7 32.8L137.5 31.4L139.2 31.1ZM162.5 31.6L161 32.7L160.7 31ZM131.1 40.6L129.8 39.4L131.5 38.8ZM139.5 39.5L138 40.5L137.8 38.8ZM147.2 39.4L145.8 40.6L145.4 38.8ZM154 40.6L152.7 39.3L154.5 38.9ZM103.6 47.8L98.3 50.1L98.8 44.4ZM108.3 50.5L105.1 46.3L110.2 45.5ZM134.1 47.6L129.1 50.1L129.3 44.6ZM141.4 47.1L137.3 50L136.8 45.2ZM169.2 50.8L166.1 45.8L171.8 45.6ZM95.3 55.9L90.7 57.2L91.8 52.7ZM93.4 65.7L90 62.4L94.4 61ZM131.3 66.2L127.9 61.8L133.2 61.1ZM168.8 66.8L166 61L172.3 61.3ZM134.4 70.8L129.1 73.9L129 67.9ZM154.6 73.5L151.1 70.2L155.6 68.8ZM111.8 78.8L105.8 81.9L106 75.3ZM131.1 82.5L127.5 77L133.9 76.5ZM149.7 78.3L144.6 81.8L144 75.9ZM154.3 83.1L149.8 76.9L157.2 76ZM164.6 78.6L159.8 81.3L159.8 76ZM127.3 86.3L121.2 89.9L121 83.1ZM141.5 86.4L137 89L136.9 83.9ZM157.6 86.7L151.6 89.5L152.1 83.1ZM115.7 97.1L113.1 92.9L117.8 92.7ZM115.7 105.8L112.3 100.2L118.6 100ZM177.7 106.3L172.7 100.7L179.7 99.1ZM187.3 102.3L182.6 104.3L183.1 99.4ZM202.8 102.2L197.9 104.6L198.2 99.3ZM111.7 109.5L106.2 113.1L105.7 106.8ZM131 114L127.2 107.8L134.2 107.6ZM146.7 113.5L142.7 108.5L148.8 107.4ZM156.8 109.5L152.4 112.5L152 107.4ZM164.2 110.4L159.5 111.8L160.5 107.2ZM172.5 110.2L166.9 112.5L167.7 106.7ZM202.9 109.1L198.6 112.9L197.4 107.4ZM108.8 121.1L104.5 116.6L110.3 115ZM122.7 121.3L120.3 115.3L126.5 116.1ZM142.4 118.4L135.8 120.5L137.2 113.9ZM153.9 121L150.8 115.9L156.6 115.7ZM126.6 125.1L121.7 128.3L121.3 122.6ZM146.8 128.9L142.8 124.2L148.7 123ZM157.7 132.1L152.6 136.9L151 130.3ZM142.4 141.4L136 143.9L136.9 137.3ZM161.1 144.8L158.2 138.7L164.8 139.1ZM169.2 144L166.3 139.5L171.5 139.1ZM125.8 147.8L122.5 151.2L121.2 146.8ZM188.3 179.5L182.4 182.9L182.3 176.2ZM180.1 187.6L174.7 190L175.2 184.2ZM142.3 193.9L137.5 198.7L135.7 192.4ZM185.3 198.7L180.7 194L186.9 192.3ZM147.4 206.9L142 201.7L148.9 199.6ZM162.3 205.8L158.4 201.9L163.5 200.4ZM173 202.4L167.3 206.2L166.7 199.6ZM179.6 203L175 205.1L175.4 200.1ZM135.2 218.4L128.4 221.7L128.8 214.3ZM142.2 217.7L136.9 221.5L136.3 215.2ZM149.7 218.4L144.1 221L144.5 215Z"/><path fill="#0040ff" d="M147.2 31.8L145.6 32.7L145.6 30.9ZM169.1 40.7L168.1 39.1L169.9 39ZM126.2 47.5L121.6 49.9L121.7 44.8ZM156.8 47.6L152.1 49.9L152.4 44.8ZM89.4 55L83 59.1L82.5 51.7ZM104 55.1L98.5 58.5L98.2 52.2ZM125.9 54.4L122.5 57.9L121.1 53.4ZM147 58.5L142.9 54.4L148.4 52.8ZM156.9 55.1L152.3 57.9L152.1 52.7ZM164.4 55.4L159.7 57.6L160.1 52.7ZM103.4 63.1L98.6 65.7L98.7 60.4ZM108 66.5L104.9 61.4L110.7 61.2ZM118.5 62.4L114.6 65.8L113.5 61ZM126.7 62.7L121.7 66.2L121.1 60.3ZM165.8 63.5L158.8 66.5L159.6 59.1ZM92.7 73.6L90.2 69.6L94.8 69.4ZM116.1 73.6L113 70L117.5 69ZM169.2 75.2L165.3 68.8L172.6 68.5ZM177.3 74.3L173.5 69.7L179.3 68.6ZM116.7 82.8L111.5 77.5L118.4 75.6ZM172.6 77.9L167.9 82L166.6 76.1ZM180.9 79.3L174.1 81.8L175.1 74.9ZM200.8 82.4L195.9 77.7L202.2 75.8ZM116 90.1L112.3 85L118.3 84.3ZM149.9 85.8L144.7 89.9L143.7 83.6ZM165.6 86.7L159.1 89.8L159.5 82.8ZM200.6 89.8L196.3 85.6L201.9 83.9ZM126.3 93.7L122 97.2L121.1 91.9ZM131.3 97.8L127.6 92.8L133.6 92ZM141.8 94.4L136.7 97L136.9 91.4ZM149.1 94.1L144.8 96.8L144.5 91.9ZM194.8 94.4L190.4 96.5L190.7 91.8ZM126.1 101.7L122 104.6L121.5 99.8ZM131.6 105L128 101.2L132.9 99.9ZM142.1 100.9L137.6 105.7L135.7 99.6ZM146.9 105L143.2 101.2L148.2 99.9ZM154.2 105.6L150.5 100.6L156.5 99.8ZM161.8 104.9L158.7 100.9L163.6 100.2ZM103.7 109.5L98.7 112.8L98.3 107.1ZM141.1 109L137.8 112.4L136.5 108ZM187.6 108.9L183.4 112.9L182 107.5ZM119.6 118.4L112.8 120.6L114.2 113.8ZM149.3 116.7L145.3 120.7L143.8 115.4ZM192.7 120.3L189.3 116.8L193.9 115.6ZM116.7 129L111.9 124.5L118 122.6ZM141.8 125.4L136.7 128.1L136.9 122.5ZM153.8 129.2L150.5 123.5L156.9 123.4ZM108.1 137L104.5 131.3L111 131ZM119.6 132.9L113.6 136.6L113.3 129.8ZM126.6 133.2L121.3 135.9L121.6 130.2ZM149.2 133.4L144.3 135.5L144.8 130.4ZM173.2 133.7L166.5 136.3L167.4 129.4ZM187.1 132.9L183.1 135.5L182.7 130.9ZM119 140.5L114.1 143.9L113.5 138.1ZM126.3 140.3L122.1 143.7L121.1 138.6ZM130.9 145L127.4 138.9L134.2 138.7ZM150.2 139.7L145 144.9L143 138ZM154 144L151 139.5L156.3 139.1ZM176.9 145.2L173 138.8L180.2 138.5ZM181 148.4L174.7 152.3L174.3 145.1ZM187.9 148.8L182.4 151.5L182.7 145.5ZM176.4 159.8L174 154.4L179.7 154.9ZM176.5 175L174.2 170.1L179.4 170.4ZM187 171.8L183 174.1L182.9 169.6ZM149.9 187.5L144 190.3L144.4 184ZM171.8 186.5L168.3 190L167 185.4ZM187.5 187.9L182.2 189.6L183.3 184.3ZM135.1 194.5L129.1 198.8L128.2 191.7ZM165.6 194.7L159.6 198.7L159 191.7ZM180.3 193.8L175.8 198.6L173.9 192.5ZM134 202.9L129.1 205.3L129.3 200ZM138.9 214.5L134.8 208.7L141.7 208ZM149.8 210.2L144.5 213.6L144.1 207.5ZM141.4 225.2L137.5 228.6L136.4 223.7ZM149.5 225.8L144.4 228.7L144.4 223ZM88.9 279.9L82.6 282.7L83.3 276.1ZM66.5 287.1L59.9 291.1L59.6 283.5ZM82 287.4L74.8 291L75.1 283.2ZM103.8 286.8L98.8 290.5L98.1 284.4ZM58.3 296.8L50.8 297.2L54 290.7ZM73.6 295.3L67.3 297.9L68.1 291.4ZM81.4 296.6L73.9 297.5L76.6 290.6ZM58.4 304.4L50.8 304.9L53.9 298.2ZM65.6 304L59 304.8L61.4 298.8ZM74 302.3L67.7 306.3L67.3 299.1ZM73.6 310.2L67.7 313.4L67.7 306.9ZM103.7 318.9L97.6 320.2L99.4 314.4Z"/><path fill="#0080ff" d="M91 75.1L96.3 79.1L90.4 81.7ZM99.9 75.2L103.3 80.1L97.5 80.6ZM75.9 83L80.9 87L75.1 89.3ZM83.9 81.8L89.3 87.9L81.6 89.6ZM99.5 99.1L103.1 102.9L98.1 104.1ZM189.3 152.4L196.6 156.1L190 160.5ZM208.5 152.3L210 159.4L203.3 157.4ZM193.5 160L194.6 167.4L187.8 164.9ZM201 159.3L203 167.6L194.9 165.4ZM209 160L209.8 167.6L203 164.7ZM126.6 171.5L133.2 168.5L132.6 175.5ZM212.5 167.8L219.5 171.8L212.7 175.9ZM222.7 168.1L225.6 173.8L219.4 173.6ZM197.9 174.7L204.6 180.5L196.4 183.5ZM207.2 175.8L210.4 181.3L204.2 181.5ZM220.5 175.8L226.8 179.7L220.4 183.2ZM193.9 182.5L195 191.3L187 188.1ZM201.7 183.4L201.8 191L195.3 187.5ZM206.4 183.4L211 188.5L204.4 190ZM214 182.3L219.5 189L211.2 190.5ZM219.8 183.1L227.4 187.1L220.4 191.7ZM204.9 198.3L212.1 203L204.7 206.9ZM171.3 207.2L170.6 213.9L165.2 210.2ZM194.5 207.5L193.2 214L188.2 209.8ZM202.6 207.2L200.8 214.6L195.4 209.6ZM166.1 216.4L160.5 222.9L157.6 215.1ZM179.1 215.1L178 221.7L172.9 217.6ZM188.7 215.4L184.4 223.1L179.9 215.9ZM172.6 222.9L169.7 230.3L164.8 224.3ZM157.1 229.6L155.4 238.3L148.8 232.7ZM163.4 230.2L163.1 236.9L157.6 233.5ZM172.7 230.4L169.8 238.2L164.6 232.1ZM107.9 298.4L111.3 304.6L104.4 304.6ZM123.6 298.7L126.1 304.8L119.8 304ZM107.7 306.1L111.3 312.1L104.6 312.3ZM115 305.6L119.6 312L111.9 312.9ZM107.7 313.7L111.4 319.7L104.5 320ZM122.5 313.1L127.4 319.6L119.6 320.7Z"/><path fill="#0050ff" d="M91.6 81.8L96.9 88L89.2 89.6ZM98.9 82.3L104.3 87.5L97.4 89.6ZM97.7 90.2L104.9 94.2L98.1 98.4ZM138.5 153L134.8 146.4L142.1 146.4ZM169.1 153.8L164.7 146.1L173.3 146ZM130.6 160.9L127.1 153.9L134.8 154.3ZM169 161.2L165 153.9L173.1 154ZM145.8 169.2L142 161.3L150.5 161.8ZM153.1 168.3L150.6 161.5L157.6 162.5ZM138.4 176.6L134.5 169.4L142.5 169.5ZM145.6 176.5L142.4 169.1L150.3 169.9ZM161.6 176.8L157.1 169.5L165.5 169.1ZM138.6 184.4L134.4 177.2L142.5 177ZM153.7 184.4L149.7 177.1L157.8 177.1ZM74.1 279.7L67.3 283.2L67.6 275.8ZM81.7 279.5L75.2 283.2L75.1 276ZM73.8 287.5L67.4 290.5L67.8 283.7ZM66.6 296L58.8 298.2L60.6 290.5ZM88.8 294.6L83.3 298.2L82.8 291.8ZM81.3 304L74.1 305.1L76.5 298.5ZM89 304.5L81.3 304.9L84.6 298.2ZM58.8 311.4L51.2 313.3L53.1 305.9ZM65.8 310.1L60.1 313.4L60.1 307ZM89.5 311.8L81.4 313.2L84 305.6ZM103.7 311.7L97.2 312.3L99.8 306.5ZM122.9 306.4L126.5 311.8L120.2 312.3ZM130.9 306L134.3 312.3L127.3 312.2ZM95.9 326.6L101.5 321.3L103.3 328.5ZM103.5 325.5L110 321.8L110.1 329ZM96.3 332.6L102.6 330.1L101.8 336.6ZM111.9 332.3L118 330.4L116.7 336.5ZM95.5 341.2L102.2 336.5L103.1 344.4ZM111.3 339.5L118.6 337.8L116.7 344.8ZM96.1 346.9L103.4 345.6L101.2 352.4ZM111.4 348.3L117.6 344.8L117.6 351.8Z"/><path fill="#00b0ff" d="M89.3 91.1L96.9 93L91.7 98.6ZM91.1 99.2L95.7 102.2L91 104.7ZM215.8 151.2L218.8 159.7L210.2 158.2ZM212.9 160.4L219 164.2L212.9 167.6ZM190.9 167.4L196.2 173.1L188.8 175ZM206.7 167.1L211.5 173.7L203.6 174.7ZM193.9 191.4L194.1 198.4L188 195.3ZM198.9 191.2L203.2 196.3L196.8 197.5ZM208.1 190.6L210.5 197.9L203.2 196.5ZM215 191L218.2 197.1L211.5 196.9ZM189.1 198.6L196.8 202.3L190 207.2Z"/><path fill="#0070ff" d="M131.3 153.1L126.8 146.8L134.3 145.9ZM146.2 153.7L141.8 146.1L150.3 146ZM137.8 161L134.9 153.4L142.7 154.6ZM145.5 160.8L142.7 153.6L150.1 154.6ZM161.3 160.8L157.8 154.1L165.1 154.2ZM138.6 168.9L134.3 161.8L142.4 161.5ZM169.6 169.2L164.5 162L173 161.1ZM168.8 176L165.6 169.5L172.7 169.9ZM168.9 184.6L164.9 176.9L173.3 177.2ZM89.5 271.6L82.9 275.9L82.3 268.3ZM89 287.3L82.9 290.6L83 283.8ZM80.5 312L74.2 311.9L77.2 306.6Z"/><path fill="#0030ff" d="M154 153.5L149.6 146.4L157.6 145.9ZM161.5 153.2L157.5 146.4L165.2 146.3ZM153.9 160.8L150 154.3L157.4 154ZM161.2 168.9L157.5 161.6L165.4 161.9ZM154.1 176.5L149.7 169.7L157.5 169.2ZM145.9 183.9L142.5 177.2L149.8 177.5ZM161.3 183.8L157.9 177.4L165 177.5ZM118.4 325.3L125.7 321.5L125.4 329.5ZM104.2 334.6L108.4 329.2L111 335.4ZM104.4 339.6L110.6 338.3L108.7 344.2ZM103.7 348.7L109.7 344.7L110.3 351.6ZM96.3 356.4L101.8 352.4L102.6 359Z"/><path fill="#0060ff" d="M200.4 151.9L202.9 159.2L195.6 157.9ZM198.1 168.2L203.4 172.4L197.3 174.9ZM193.6 176L194.1 182.7L188.2 180ZM212.4 175.3L219.7 179.6L212.6 183.8ZM197.9 197.9L204.5 203.7L196.5 206.5Z"/><path fill="#40ffc0" d="M118.6 163L126.3 160.8L124.5 168.4Z"/><path fill="#00a0ff" d="M127.1 163L133.6 161.5L131.8 167.8ZM119 172.5L124.7 168L125.8 175ZM126.5 179.1L133.4 176.2L132.6 183.4ZM126.4 186.4L133.7 184.1L132.3 191.4ZM107.4 290.1L112.1 296.9L104.1 297.6ZM115.9 298.5L118.7 304.9L111.9 304.2ZM116 314L118.4 320.1L112.1 319.3ZM130.2 313.7L134.6 319.3L127.7 320.4ZM105.6 364.5L96.8 367.5L98.4 358.6Z"/><path fill="#a0ff60" d="M233.8 165.6L233.6 177.9L223.2 171.9ZM241.4 165.6L241.2 177.9L230.8 171.9ZM233.8 173.3L233.6 185.7L223.2 179.7ZM233.8 181L233.6 193.4L223.2 187.4Z"/><path fill="#00e0ff" d="M157.2 209.1L153.1 214L150.9 208.2ZM164.7 207.6L162.1 214.6L157.4 209ZM188.7 208L184.1 215.3L180.2 208ZM156.3 214.3L155.7 222.2L149.3 217.9ZM158.3 224.2L152.9 230.4L150.1 222.9ZM165 223.6L161.5 230L157.7 224ZM179.8 221.6L178.7 230.6L171.6 225.4ZM186.5 222.2L186.3 229.4L180.3 225.8Z"/><path fill="#00c0ff" d="M179.1 207.1L178.3 214.1L172.7 210.1ZM173 216.2L168.7 222.3L165.5 215.8ZM195.5 214.6L193.1 222.9L187.3 216.9ZM179.9 231.4L176.8 237.3L173.3 231.9ZM188 229.9L185.5 238.4L179.5 232.3Z"/><path stroke="#0010ff" stroke-width="1.3" d="M130.8 23.9L129.5 23.6M153.7 31.8L154.2 30.5M161.4 39.6L161.7 38.3M84.9 47.4L81.4 46M92.6 47.4L87.7 46.3M115.5 47.4L110.6 46.8M146.1 47.4L146.9 44M161.4 47.4L156.9 45.1M107.9 55.2L104.3 54.5M115.5 55.2L111 53.9M130.8 55.2L132.1 50.7M138.5 55.2L139.3 49.8M169 55.2L169.5 49.8M138.5 63.1L139.3 59.2M146.1 63.1L142.5 62.2M153.7 63.1L154.4 59.5M176.7 63.1L176.8 59.7M100.2 70.9L101 67.4M107.9 70.9L104.6 69.7M123.2 70.9L125.2 66.1M138.5 70.9L135.2 69.9M146.1 70.9L146.3 66M161.4 70.9L162.3 67M123.2 78.7L119.3 78M138.5 78.7L134 77.2M192 78.7L186.8 78M107.9 86.4L108.7 82.7M130.8 86.4L125.7 84.8M169 86.4L170 82.7M176.7 86.4L172.6 84.4M192 86.4L187.5 83.7M107.9 94.2L109.2 89.5M153.7 94.2L154.2 89.8M161.4 94.2L161.6 90.9M169 94.2L165.8 93M176.7 94.2L177.8 89.8M199.6 94.2L194.2 93.4M214.9 94.2L210.7 92.7M107.9 102L103.2 100.7M169 102L171.3 97.2M115.5 109.8L110.8 108.5M123.2 109.8L118.8 107.9M176.7 109.8L172.7 108.1M192 109.8L192.8 106.1M130.8 117.6L131.6 113.5M161.4 117.6L157.7 117.2M169 117.6L166 116.2M176.7 117.6L178.2 114.5M184.3 117.6L185.4 113.9M107.9 125.3L103.1 124.3M130.8 125.3L127.7 124.1M161.4 125.3L162.6 120M169 125.3L163.8 123.7M176.7 125.3L177.4 121.9M184.3 125.3L180.1 124.9M192 125.3L188 123.5M130.8 133.1L126.8 132.9M138.5 133.1L133.8 131.3M161.4 133.1L161.7 128M176.7 133.1L177.8 128.5M184.3 140.9L181.2 139.6M184.3 156.4L184.8 151.8M176.7 164.1L178.5 159.3M184.3 164.1L180.5 162.3M176.7 179.6L173 177.7M138.5 187.3L134 185.9M153.7 187.3L154.9 182.4M161.4 187.3L156.3 185.9M146.1 195L141.9 193.8M153.7 195L150.3 193.6M169 195L164 193.7M138.5 202.7L139.7 197.3M153.7 202.7L154.6 198.3M184.3 202.7L185.1 197.8M130.8 210.4L127.2 209"/><path stroke="#0000ff" stroke-width="1.3" d="M130.8 31.8L129.5 31.5M138.5 31.8L138.7 30.5M161.4 31.8L160.1 31.5M130.8 39.6L130.9 38.3M138.5 39.6L137.2 39.3M146.1 39.6L144.8 39.4M153.7 39.6L153.9 38.3M100.2 47.4L96.4 45.6M107.9 47.4L108.7 43.7M130.8 47.4L127.1 45.9M138.5 47.4L135 46.6M169 47.4L170.3 43.4M92.6 55.2L89.7 53.4M92.6 63.1L92.8 59.6M130.8 63.1L131.6 59.2M169 63.1L170.8 58.8M130.8 70.9L126.6 69.5M153.7 70.9L153.9 67.4M107.9 78.7L103.4 76.9M130.8 78.7L132.1 74.1M146.1 78.7L141.8 77.6M153.7 78.7L155 73.3M161.4 78.7L157.6 77.4M123.2 86.4L118.3 84.9M138.5 86.4L134.9 85.2M153.7 86.4L149.4 84.5M115.5 94.2L116.5 90.9M115.5 102L116.9 97.5M176.7 102L177.3 96.7M184.3 102L181.1 100.4M199.6 102L196 100.5M107.9 109.8L103.3 108.6M130.8 109.8L132.4 104.8M146.1 109.8L146.9 105.3M153.7 109.8L150.1 108.8M161.4 109.8L158.4 107.9M169 109.8L165.1 107.8M199.6 109.8L195.5 109.3M107.9 117.6L108.2 113.1M123.2 117.6L125.2 113.4M138.5 117.6L134.2 115M153.7 117.6L155.1 113.5M123.2 125.3L119.1 124.2M146.1 125.3L146.8 120.9M153.7 133.1L148.7 132.6M138.5 140.9L134 138.6M161.4 140.9L163.3 136.4M169 140.9L170.1 137.1M123.2 148.6L119.7 148.5M184.3 179.6L179.6 177.9M176.7 187.3L172.8 185.5M138.5 195L133.6 194.7M184.3 195L184.7 190.3M146.1 202.7L146.4 197.4M161.4 202.7L161.6 198.7M169 202.7L164.2 201.5M176.7 202.7L173.3 201.2M130.8 218.1L125.8 216M138.5 218.1L133.9 217M146.1 218.1L142 216.3"/><path stroke="#0040ff" stroke-width="1.3" d="M146.1 31.8L144.8 31.3M169 39.6L169.4 38.3M123.2 47.4L119.6 46.1M153.7 47.4L150.3 46M84.9 55.2L79.6 53.7M100.2 55.2L95.8 53.8M123.2 55.2L119.6 55.1M146.1 55.2L146.4 51M153.7 55.2L150.1 54.1M161.4 55.2L158 53.8M100.2 63.1L96.6 61.7M107.9 63.1L109.2 59M115.5 63.1L111.8 62.6M123.2 63.1L118.9 62M161.4 63.1L156.4 60.6M92.6 70.9L93.6 67.6M115.5 70.9L116 67.4M169 70.9L170.6 65.7M176.7 70.9L177.4 66.5M115.5 78.7L115.9 73.3M169 78.7L164.6 78M176.7 78.7L172.1 76.2M199.6 78.7L199.8 73.7M115.5 86.4L116.5 82.1M146.1 86.4L141.4 85.6M161.4 86.4L156.6 84.4M199.6 86.4L199.8 82.1M123.2 94.2L119.2 93.5M130.8 94.2L131.7 89.8M138.5 94.2L134.6 92.7M146.1 94.2L142.6 93.2M192 94.2L188.8 92.9M123.2 102L119.6 101.2M130.8 102L131.2 98.3M138.5 102L133.7 101.9M146.1 102L146.4 98.2M153.7 102L154.7 97.6M161.4 102L162.1 98.4M100.2 109.8L96.1 108.7M138.5 109.8L135 109.6M184.3 109.8L180.2 109.4M115.5 117.6L111.1 114.9M146.1 117.6L142 117.3M192 117.6L192.3 114.1M115.5 125.3L115.7 120.6M138.5 125.3L134.6 123.9M153.7 125.3L155.3 120.8M107.9 133.1L109.3 128.5M115.5 133.1L110.7 131.6M123.2 133.1L119.2 131.5M146.1 133.1L142.6 131.5M169 133.1L164.5 130.7M184.3 133.1L181 132.2M115.5 140.9L111.3 139.8M123.2 140.9L119.3 140.2M130.8 140.9L132.4 136M146.1 140.9L140.8 140.5M153.7 140.9L154.8 137M176.7 140.9L178.3 135.7M176.7 148.6L171.5 147.1M184.3 148.6L180.2 146.9M176.7 156.4L178.5 152.5M176.7 171.8L178.2 168.3M184.3 171.8L181.1 170.7M146.1 187.3L141.8 185.4M169 187.3L165.4 187.1M184.3 187.3L180.9 185.2M130.8 195L125.6 193.8M161.4 195L156.3 193.7M176.7 195L171.9 194.8M130.8 202.7L127.1 201.2M138.5 210.4L139.7 205.5M146.1 210.4L141.7 209.2M138.5 225.8L134.7 225.4M146.1 225.8L142.1 224.4M84.9 279.6L80.5 277.5M62 287.2L56.7 285.5M77.3 287.2L71.9 285.1M100.2 287.2L95.8 286.3M54.4 294.9L50.5 291M69.7 294.9L65.3 292.7M77.3 294.9L73.2 291.2M54.4 302.5L50.5 298.7M62 302.5L58.5 299.3M69.7 302.5L64.5 301M69.7 310.2L65.1 308.5M100.2 317.8L96.6 315.2"/><path stroke="#0080ff" stroke-width="1.3" d="M92.6 78.7L92.9 83.4M100.2 78.7L99.1 82.8M77.3 86.4L77.5 91.1M84.9 86.4L84.2 92.3M100.2 102L99.8 105.8M192 156.4L193.4 162M207.3 156.4L204.2 160.6M192 164.1L188.5 168.2M199.6 164.1L196 169.1M207.3 164.1L203.5 168.1M130.8 171.8L135.6 174M214.9 171.8L216 177.6M222.6 171.8L220.9 176.2M199.6 179.6L199.6 186M207.3 179.6L205.8 184M222.6 179.6L223.4 184.9M192 187.3L187.7 192.1M199.6 187.3L195.5 191M207.3 187.3L206.6 192.2M214.9 187.3L213.9 193.5M222.6 187.3L224 193.3M207.3 202.7L208.1 208.9M169 210.4L165.1 213.3M192 210.4L187.8 212.8M199.6 210.4L194.8 213M161.4 218.1L155.2 218.2M176.7 218.1L172.6 220.7M184.3 218.1L178.1 219.5M169 225.8L163.7 227.8M153.7 233.5L148.2 236.7M161.4 233.5L157.7 236.5M169 233.5L163.4 235.7M107.9 302.5L106.2 307.4M123.2 302.5L121.1 306.8M107.9 310.2L106.3 315M115.5 310.2L114.2 315.8M107.9 317.8L106.3 322.7M123.2 317.8L121.9 323.5"/><path stroke="#0050ff" stroke-width="1.3" d="M92.6 86.4L91.8 92.2M100.2 86.4L100 91.8M100.2 94.2L101.5 100.1M138.5 148.6L140.3 143.5M169 148.6L171.1 142.5M130.8 156.4L133 151.1M169 156.4L171.2 150.7M146.1 164.1L148.5 158.2M153.7 164.1L156.2 159.4M138.5 171.8L140.5 166.3M146.1 171.8L148.6 166.5M161.4 171.8L163.2 165.9M138.5 179.6L140.4 173.8M153.7 179.6L155.8 173.9M69.7 279.6L64.6 277.6M77.3 279.6L72.2 277.8M69.7 287.2L65 285.2M62 294.9L57.1 291.7M84.9 294.9L80.4 293.6M77.3 302.5L73.3 299.2M84.9 302.5L81.1 298.5M54.4 310.2L49.7 306.9M62 310.2L57.5 308.6M84.9 310.2L80.3 306.4M100.2 310.2L96.8 306.9M123.2 310.2L122 314.7M130.8 310.2L129 315M100.2 325.4L105.8 325.9M107.9 325.4L113 327.2M100.2 333.1L104.6 335.3M115.5 333.1L119.4 335.5M100.2 340.7L106 342.1M115.5 340.7L119.9 343.8M100.2 348.3L104.5 351.6M115.5 348.3L120.4 350"/><path stroke="#00b0ff" stroke-width="1.3" d="M92.6 94.2L95.2 99.3M92.6 102L93.2 105.9M214.9 156.4L211.7 162M214.9 164.1L215.8 169.2M192 171.8L191.4 177.5M207.3 171.8L206 177.6M192 195L188.3 198.5M199.6 195L198.9 199.8M207.3 195L204.5 199.8M214.9 195L213.1 199.6M192 202.7L193.7 208.7"/><path stroke="#0070ff" stroke-width="1.3" d="M130.8 148.6L132.1 143.2M146.1 148.6L148.1 142.6M138.5 156.4L141.2 151.2M146.1 156.4L148.7 151.4M161.4 156.4L163.3 151.2M138.5 164.1L140.3 158.4M169 164.1L170.5 157.9M169 171.8L171.1 167M169 179.6L171.3 173.7M84.9 271.9L79.4 270.4M84.9 287.2L80.2 285.5M77.3 310.2L74.3 306.7"/><path stroke="#0030ff" stroke-width="1.3" d="M153.7 148.6L155.4 142.8M161.4 148.6L163.2 143.2M153.7 156.4L155.4 151.1M161.4 164.1L163.6 158.6M153.7 171.8L155.3 166.2M146.1 179.6L148.1 174.5M161.4 179.6L163.3 174.7M123.2 325.4L128.7 327.6M107.9 333.1L112.8 332.8M107.9 340.7L111.5 343.4M107.9 348.3L112.9 349.6M100.2 355.9L105 357"/><path stroke="#0060ff" stroke-width="1.3" d="M199.6 156.4L196.9 161.2M199.6 171.8L199.8 176.7M192 179.6L188.6 183.1M214.9 179.6L216 185.6M199.6 202.7L199.6 209"/><path stroke="#40ffc0" stroke-width="1.3" d="M123.2 164.1L128 167.2"/><path stroke="#00a0ff" stroke-width="1.3" d="M130.8 164.1L134.7 166.9M123.2 171.8L128.3 172.8M130.8 179.6L135.6 181.9M130.8 187.3L135.6 190.1M107.9 294.9L106.4 300.6M115.5 302.5L113.3 307.1M115.5 317.8L113.4 322M130.8 317.8L129.8 322.9M100.2 363.5L94.4 360.2"/><path stroke="#a0ff60" stroke-width="1.3" d="M230.2 171.8L223.4 177.6M237.8 171.8L231 177.6M230.2 179.6L223.4 185.3M230.2 187.3L223.4 193.1"/><path stroke="#00e0ff" stroke-width="1.3" d="M153.7 210.4L149.2 210.5M161.4 210.4L156.3 212.3M184.3 210.4L178.2 211.4M153.7 218.1L149.2 221.5M153.7 225.8L147.8 225.9M161.4 225.8L156.3 227M176.7 225.8L171.3 229.5M184.3 225.8L180.3 229.1"/><path stroke="#00c0ff" stroke-width="1.3" d="M176.7 210.4L172.4 213.3M169 218.1L163.7 218.7M192 218.1L186.4 220.8M176.7 233.5L172 234.7M184.3 233.5L178.5 236.2"/><path d="M203.3 227.7L225.3 205.7" stroke="#a0ff60" stroke-width="1.6"/><path d="M208.3 219.7L230.3 191.7" stroke="#a0ff60" stroke-width="1.6"/><path d="M195.3 229.7L217.3 214.7" stroke="#a0ff60" stroke-width="1.6"/><path d="M220.3 193.7L237.3 170.7" stroke="#a0ff60" stroke-width="1.6"/><use href="#land"/><use href="#iso"/><use href="#sites"/></g><rect x="10.6" y="16.1" width="112.5" height="25" fill="url(#jetg)" stroke="#222" stroke-width="1.2"/><text x="285" y="103.5" font-size="20" >10 km</text><path d="M305.5 107.5h14" stroke="#000" stroke-width="4" stroke-linecap="round"/><text x="274" y="64" font-size="20">50 cm/s</text><rect x="5" y="-13.3" width="133.8" height="14.5" rx="6" fill="#303030"/><text x="8" y="-0.5" font-size="17" fill="#555" textLength="128" lengthAdjust="spacingAndGlyphs" opacity="0.5">0510152025303540455055</text><text x="43.8" y="-27.9" font-size="20" text-anchor="start" fill="#262626">cm/s</text></g><text x="68.2" y="149.8" font-size="21" text-anchor="end">37°N</text><text x="68.2" y="219.9" font-size="14.5" text-anchor="end">30'</text><text x="68.2" y="294.1" font-size="21" text-anchor="end">36°N</text><text x="68.2" y="363.2" font-size="14.5" text-anchor="end">30'</text><text x="68.2" y="436.6" font-size="21" text-anchor="end">35°N</text><text x="68.2" y="504.8" font-size="14.5" text-anchor="end">30'</text><text x="68.2" y="577.3" font-size="21" text-anchor="end">34°N</text><text x="74.7" y="586.8" font-size="14.5" text-anchor="middle">30'</text><text x="135.7" y="590.8" font-size="21" text-anchor="middle">76°W</text><text x="190.7" y="586.8" font-size="14.5" text-anchor="middle">30'</text><text x="251.7" y="590.8" font-size="21" text-anchor="middle">75°W</text><text x="306.7" y="586.8" font-size="14.5" text-anchor="middle">30'</text><text x="367.7" y="590.8" font-size="21" text-anchor="middle">74°W</text><text x="422.7" y="586.8" font-size="14.5" text-anchor="middle">30'</text><g transform="translate(458.6,142.3)"><g stroke="#c4c4c4" stroke-width="1" stroke-dasharray="1.8 6.5"><line x1="58" y1="0" x2="58" y2="427.5"/><line x1="116" y1="0" x2="116" y2="427.5"/><line x1="174" y1="0" x2="174" y2="427.5"/><line x1="232" y1="0" x2="232" y2="427.5"/><line x1="290" y1="0" x2="290" y2="427.5"/><line x1="0" y1="72.4" x2="348" y2="72.4"/><line x1="0" y1="144.3" x2="348" y2="144.3"/><line x1="0" y1="215.7" x2="348" y2="215.7"/><line x1="0" y1="286.8" x2="348" y2="286.8"/><line x1="0" y1="357.3" x2="348" y2="357.3"/></g><rect x="0" y="0" width="348" height="427.5" fill="none" stroke="#222" stroke-width="1.3"/><path d="M58 427.5v-3.6M58 0v3.6M0 72.4h3.6M348 72.4h-3.6M116 427.5v-3.6M116 0v3.6M0 144.3h3.6M348 144.3h-3.6M174 427.5v-3.6M174 0v3.6M0 215.7h3.6M348 215.7h-3.6M232 427.5v-3.6M232 0v3.6M0 286.8h3.6M348 286.8h-3.6M290 427.5v-3.6M290 0v3.6M0 357.3h3.6M348 357.3h-3.6" stroke="#333" stroke-width="1.3" fill="none"/><g clip-path="url(#clip)"><path fill="#ffff00" d="M67.7 -1.1H75.6V7.1H67.7ZM212.9 323.9H220.9V331.9H212.9ZM220.6 331.6H228.5V339.5H220.6Z"/><path fill="#42ffbd" d="M75.3 -1.1H83.3V7.1H75.3ZM90.6 92.7H98.6V100.9H90.6ZM212.9 147.1H228.5V155.2H212.9ZM281.7 216.6H289.7V224.7H281.7ZM258.8 224.3H274.4V232.4H258.8ZM266.4 232H274.4V240.1H266.4ZM266.4 239.7H274.4V247.7H266.4ZM258.8 255.1H266.8V263.1H258.8Z"/><path fill="#0048ff" d="M82.9 -1.1H152.1V7.1H82.9ZM82.9 6.8H121.5V15H82.9ZM67.7 14.6H113.9V22.8H67.7ZM128.8 14.6H144.5V22.8H128.8ZM75.3 22.4H121.5V30.6H75.3ZM151.7 22.4H159.7V30.6H151.7ZM75.3 30.3H113.9V38.5H75.3ZM82.9 53.7H90.9V61.9H82.9ZM90.6 69.4H98.6V77.5H90.6ZM167 69.4H175V77.5H167ZM90.6 77.2H98.6V85.3H90.6ZM190 77.2H213.3V85.3H190ZM197.6 92.7H205.6V100.9H197.6ZM197.6 100.5H205.6V108.6H197.6ZM197.6 108.3H205.6V116.4H197.6ZM105.9 116.1H113.9V124.2H105.9ZM128.8 147.1H136.8V155.2H128.8ZM197.6 154.9H220.9V162.9H197.6ZM205.3 162.6H220.9V170.7H205.3ZM205.3 170.3H213.3V178.4H205.3ZM128.8 178.1H136.8V186.1H128.8ZM205.3 178.1H213.3V186.1H205.3ZM205.3 185.8H220.9V193.9H205.3ZM128.8 193.5H136.8V201.6H128.8ZM212.9 193.5H220.9V201.6H212.9ZM128.8 201.2H136.8V209.3H128.8ZM197.6 201.2H205.6V209.3H197.6ZM136.5 216.6H144.5V224.7H136.5ZM190 216.6H198V224.7H190ZM52.4 293.4H60.4V301.4H52.4ZM75.3 301H83.3V309H75.3ZM121.2 301H129.2V309H121.2ZM98.2 346.8H106.2V354.8H98.2Z"/><path fill="#00faff" d="M174.7 -1.1H190.3V7.1H174.7ZM75.3 6.8H83.3V15H75.3ZM174.7 6.8H182.7V15H174.7ZM174.7 14.6H198V22.8H174.7ZM174.7 22.4H198V30.6H174.7ZM174.7 30.3H190.3V38.5H174.7ZM197.6 61.6H220.9V69.7H197.6ZM205.3 69.4H213.3V77.5H205.3ZM82.9 77.2H90.9V85.3H82.9ZM212.9 92.7H220.9V100.9H212.9ZM212.9 100.5H220.9V108.6H212.9ZM98.2 108.3H106.2V116.4H98.2ZM220.6 154.9H228.5V162.9H220.6ZM220.6 162.6H228.5V170.7H220.6ZM220.6 178.1H228.5V186.1H220.6ZM121.2 185.8H129.2V193.9H121.2ZM220.6 185.8H228.5V193.9H220.6ZM121.2 193.5H129.2V201.6H121.2ZM220.6 193.5H228.5V201.6H220.6ZM212.9 201.2H220.9V209.3H212.9ZM266.4 201.2H274.4V209.3H266.4ZM197.6 208.9H205.6V217H197.6ZM258.8 208.9H274.4V217H258.8ZM258.8 216.6H282.1V224.7H258.8ZM281.7 224.3H289.7V232.4H281.7ZM274.1 232H282.1V240.1H274.1ZM274.1 239.7H282.1V247.7H274.1ZM266.4 255.1H274.4V263.1H266.4Z"/><path fill="#80ff80" d="M67.7 6.8H75.6V15H67.7ZM243.5 170.3H259.1V178.4H243.5ZM243.5 178.1H251.5V186.1H243.5ZM258.8 178.1H266.8V186.1H258.8ZM266.4 193.5H274.4V201.6H266.4ZM251.1 201.2H266.8V209.3H251.1ZM274.1 201.2H282.1V209.3H274.1ZM251.1 208.9H259.1V217H251.1ZM274.1 208.9H282.1V217H274.1ZM251.1 216.6H259.1V224.7H251.1Z"/><path fill="#0080ff" d="M113.5 14.6H129.2V22.8H113.5ZM144.1 14.6H152.1V22.8H144.1ZM167 30.3H175V38.5H167ZM167 38.1H175V46.3H167ZM167 45.9H175V54.1H167ZM167 53.7H175V61.9H167ZM82.9 61.6H90.9V69.7H82.9ZM174.7 61.6H182.7V69.7H174.7ZM174.7 69.4H182.7V77.5H174.7ZM167 77.2H175V85.3H167ZM90.6 84.9H98.6V93.1H90.6ZM167 84.9H175V93.1H167ZM205.3 84.9H213.3V93.1H205.3ZM205.3 92.7H213.3V100.9H205.3ZM205.3 100.5H213.3V108.6H205.3ZM205.3 108.3H213.3V116.4H205.3ZM197.6 116.1H205.6V124.2H197.6ZM197.6 147.1H205.6V155.2H197.6ZM121.2 162.6H129.2V170.7H121.2ZM212.9 170.3H220.9V178.4H212.9ZM212.9 178.1H220.9V186.1H212.9ZM205.3 201.2H213.3V209.3H205.3ZM128.8 208.9H136.8V217H128.8ZM159.4 232H175V240.1H159.4ZM82.9 262.7H90.9V270.8H82.9ZM82.9 270.4H90.9V278.4H82.9ZM113.5 293.4H129.2V301.4H113.5ZM52.4 301H68V309H52.4ZM82.9 301H90.9V309H82.9ZM98.2 301H106.2V309H98.2ZM113.5 301H121.5V309H113.5ZM128.8 301H136.8V309H128.8ZM121.2 308.7H136.8V316.7H121.2ZM121.2 316.3H129.2V324.3H121.2ZM113.5 323.9H121.5V331.9H113.5ZM113.5 331.6H121.5V339.5H113.5ZM113.5 339.2H121.5V347.2H113.5Z"/><path fill="#0018ff" d="M121.2 22.4H152.1V30.6H121.2ZM113.5 30.3H167.4V38.5H113.5ZM75.3 38.1H167.4V46.3H75.3ZM75.3 45.9H167.4V54.1H75.3ZM128.8 53.7H144.5V61.9H128.8ZM151.7 53.7H167.4V61.9H151.7ZM90.6 61.6H106.2V69.7H90.6ZM113.5 61.6H121.5V69.7H113.5ZM144.1 61.6H152.1V69.7H144.1ZM159.4 61.6H175V69.7H159.4ZM98.2 69.4H106.2V77.5H98.2ZM121.2 69.4H136.8V77.5H121.2ZM144.1 69.4H152.1V77.5H144.1ZM113.5 77.2H121.5V85.3H113.5ZM144.1 77.2H159.7V85.3H144.1ZM105.9 84.9H113.9V93.1H105.9ZM144.1 84.9H152.1V93.1H144.1ZM159.4 84.9H167.4V93.1H159.4ZM182.3 84.9H205.6V93.1H182.3ZM128.8 92.7H144.5V100.9H128.8ZM174.7 92.7H198V100.9H174.7ZM121.2 100.5H129.2V108.6H121.2ZM136.5 100.5H144.5V108.6H136.5ZM159.4 100.5H198V108.6H159.4ZM121.2 108.3H152.1V116.4H121.2ZM167 108.3H198V116.4H167ZM121.2 116.1H136.8V124.2H121.2ZM174.7 116.1H198V124.2H174.7ZM105.9 123.8H113.9V132H105.9ZM121.2 123.8H129.2V132H121.2ZM136.5 123.8H152.1V132H136.5ZM174.7 123.8H198V132H174.7ZM113.5 131.6H129.2V139.7H113.5ZM144.1 131.6H152.1V139.7H144.1ZM174.7 131.6H198V139.7H174.7ZM128.8 139.4H198V147.5H128.8ZM136.5 147.1H198V155.2H136.5ZM121.2 154.9H198V162.9H121.2ZM128.8 162.6H205.6V170.7H128.8ZM128.8 170.3H136.8V178.4H128.8ZM144.1 170.3H152.1V178.4H144.1ZM151.7 178.1H159.7V186.1H151.7ZM197.6 178.1H205.6V186.1H197.6ZM151.7 185.8H159.7V193.9H151.7ZM136.5 193.5H144.5V201.6H136.5ZM151.7 193.5H159.7V201.6H151.7ZM182.3 193.5H213.3V201.6H182.3ZM136.5 201.2H198V209.3H136.5ZM136.5 208.9H198V217H136.5ZM144.1 216.6H190.3V224.7H144.1ZM151.7 224.3H182.7V232.4H151.7ZM67.7 270.4H83.3V278.4H67.7ZM60 278.1H90.9V286.1H60ZM67.7 285.7H75.6V293.7H67.7ZM82.9 285.7H90.9V293.7H82.9ZM105.9 285.7H113.9V293.7H105.9ZM60 293.4H68V301.4H60ZM82.9 293.4H90.9V301.4H82.9ZM105.9 293.4H113.9V301.4H105.9ZM67.7 301H75.6V309H67.7ZM105.9 301H113.9V309H105.9ZM98.2 308.7H113.9V316.7H98.2ZM98.2 316.3H113.9V324.3H98.2ZM98.2 323.9H106.2V331.9H98.2ZM98.2 331.6H106.2V339.5H98.2ZM98.2 339.2H113.9V347.2H98.2Z"/><path fill="#0000ee" d="M90.6 53.7H129.2V61.9H90.6ZM144.1 53.7H152.1V61.9H144.1ZM105.9 61.6H113.9V69.7H105.9ZM121.2 61.6H144.5V69.7H121.2ZM151.7 61.6H159.7V69.7H151.7ZM105.9 69.4H121.5V77.5H105.9ZM136.5 69.4H144.5V77.5H136.5ZM151.7 69.4H167.4V77.5H151.7ZM98.2 77.2H113.9V85.3H98.2ZM121.2 77.2H144.5V85.3H121.2ZM159.4 77.2H167.4V85.3H159.4ZM98.2 84.9H106.2V93.1H98.2ZM113.5 84.9H144.5V93.1H113.5ZM151.7 84.9H159.7V93.1H151.7ZM105.9 92.7H129.2V100.9H105.9ZM144.1 92.7H175V100.9H144.1ZM105.9 100.5H121.5V108.6H105.9ZM128.8 100.5H136.8V108.6H128.8ZM144.1 100.5H159.7V108.6H144.1ZM105.9 108.3H121.5V116.4H105.9ZM151.7 108.3H167.4V116.4H151.7ZM113.5 116.1H121.5V124.2H113.5ZM136.5 116.1H175V124.2H136.5ZM113.5 123.8H121.5V132H113.5ZM128.8 123.8H136.8V132H128.8ZM151.7 123.8H175V132H151.7ZM128.8 131.6H144.5V139.7H128.8ZM151.7 131.6H175V139.7H151.7ZM136.5 170.3H144.5V178.4H136.5ZM151.7 170.3H205.6V178.4H151.7ZM136.5 178.1H152.1V186.1H136.5ZM159.4 178.1H198V186.1H159.4ZM128.8 185.8H152.1V193.9H128.8ZM159.4 185.8H205.6V193.9H159.4ZM144.1 193.5H152.1V201.6H144.1ZM159.4 193.5H182.7V201.6H159.4ZM52.4 285.7H68V293.7H52.4ZM75.3 285.7H83.3V293.7H75.3ZM67.7 293.4H83.3V301.4H67.7ZM105.9 323.9H113.9V331.9H105.9ZM105.9 331.6H113.9V339.5H105.9Z"/><path fill="#00bdff" d="M82.9 69.4H90.9V77.5H82.9ZM197.6 69.4H205.6V77.5H197.6ZM98.2 92.7H106.2V100.9H98.2ZM98.2 100.5H106.2V108.6H98.2ZM212.9 108.3H220.9V116.4H212.9ZM205.3 116.1H213.3V124.2H205.3ZM197.6 123.8H205.6V132H197.6ZM197.6 131.6H205.6V139.7H197.6ZM197.6 139.4H205.6V147.5H197.6ZM220.6 170.3H228.5V178.4H220.6ZM274.1 224.3H282.1V232.4H274.1ZM98.2 278.1H106.2V286.1H98.2ZM98.2 354.4H106.2V362.4H98.2Z"/><path fill="#ffbd00" d="M82.9 84.9H90.9V93.1H82.9ZM289.4 216.6H297.4V224.7H289.4ZM289.4 224.3H297.4V232.4H289.4ZM258.8 270.4H274.4V278.4H258.8ZM228.2 308.7H251.5V316.7H228.2ZM220.6 316.3H228.5V324.3H220.6ZM243.5 316.3H251.5V324.3H243.5ZM228.2 323.9H236.2V331.9H228.2ZM197.6 331.6H205.6V339.5H197.6Z"/><path fill="#bdff42" d="M243.5 185.8H266.8V193.9H243.5ZM258.8 232H266.8V240.1H258.8ZM281.7 232H297.4V240.1H281.7ZM281.7 239.7H297.4V247.7H281.7ZM266.4 247.4H289.7V255.4H266.4ZM274.1 255.1H289.7V263.1H274.1ZM251.1 262.7H282.1V270.8H251.1ZM235.8 301H251.5V309H235.8ZM228.2 316.3H236.2V324.3H228.2Z"/><path fill="#9e0000" d="M90.6 270.4H98.6V278.4H90.6ZM182.3 331.6H190.3V339.5H182.3ZM182.3 339.2H198V347.2H182.3ZM205.3 339.2H213.3V347.2H205.3ZM182.3 346.8H205.6V354.8H182.3Z"/><path fill="#ff6100" d="M212.9 316.3H220.9V324.3H212.9ZM235.8 316.3H243.8V324.3H235.8ZM197.6 323.9H213.3V331.9H197.6ZM220.6 323.9H228.5V331.9H220.6ZM190 331.6H198V339.5H190ZM205.3 331.6H220.9V339.5H205.3ZM228.2 331.6H236.2V339.5H228.2ZM197.6 339.2H205.6V347.2H197.6Z"/><path fill="#ff0500" d="M212.9 339.2H220.9V347.2H212.9Z"/><use href="#land"/><path d="M79.6 6.8L78.3 14.6M67.7 19.7L75.3 17.7M75.3 17.7L78.3 14.6M82.9 75.9L83.6 77.2M83.6 77.2L85.9 84.9M197.6 77.8L205.3 80.2M85.9 84.9L89.7 92.7M90.6 94.8L98.2 100.2M98.2 100.2L98.6 100.5M98.6 100.5L98.6 108.3M208.5 100.5L208.5 108.3M98.6 108.3L100 116.1M208.5 108.3L211.6 116.1M204 123.8L205.3 122.5M197.2 131.6L197.6 130.3M197.2 131.6L197.2 139.4M197.2 139.4L197.2 147.1M197.2 147.1L197.6 148.4M212.9 159.2L217.6 162.6M217.6 162.6L217.6 170.3M217.6 170.3L219.3 178.1M219.3 178.1L216.1 185.8M216.1 185.8L217.6 193.5M123 193.5L124.1 201.2M217.6 193.5L217.6 201.2M208.5 208.9L212.9 205.9M195.4 216.6L197.6 213.6" stroke="#000" stroke-width="1" fill="none"/><text x="0" y="4.5" font-size="13" text-anchor="middle" transform="translate(125.4,76.6) rotate(-80)">1.25</text><use href="#sites"/></g><rect x="3.4" y="20" width="112.5" height="25" fill="url(#jetg)" stroke="#222" stroke-width="1.2"/><text x="285.5" y="37.5" font-size="20" >10 km</text><path d="M307 43.7h14" stroke="#000" stroke-width="4" stroke-linecap="round"/><text x="2.8" y="7.2" font-size="17" text-anchor="middle" fill="#262626">0</text><text x="59.6" y="7.2" font-size="17" text-anchor="middle" fill="#262626">2</text><text x="115" y="7.2" font-size="17" text-anchor="middle" fill="#262626">4</text></g><text x="452.1" y="149.8" font-size="21" text-anchor="end">37°N</text><text x="452.1" y="219.9" font-size="14.5" text-anchor="end">30'</text><text x="452.1" y="294.1" font-size="21" text-anchor="end">36°N</text><text x="452.1" y="363.2" font-size="14.5" text-anchor="end">30'</text><text x="452.1" y="436.6" font-size="21" text-anchor="end">35°N</text><text x="452.1" y="504.8" font-size="14.5" text-anchor="end">30'</text><text x="452.1" y="577.3" font-size="21" text-anchor="end">34°N</text><text x="458.6" y="586.8" font-size="14.5" text-anchor="middle">30'</text><text x="519.6" y="590.8" font-size="21" text-anchor="middle">76°W</text><text x="574.6" y="586.8" font-size="14.5" text-anchor="middle">30'</text><text x="635.6" y="590.8" font-size="21" text-anchor="middle">75°W</text><text x="690.6" y="586.8" font-size="14.5" text-anchor="middle">30'</text><text x="751.6" y="590.8" font-size="21" text-anchor="middle">74°W</text><text x="806.6" y="586.8" font-size="14.5" text-anchor="middle">30'</text><g transform="translate(843.2,142.3)"><g stroke="#c4c4c4" stroke-width="1" stroke-dasharray="1.8 6.5"><line x1="58" y1="0" x2="58" y2="427.5"/><line x1="116" y1="0" x2="116" y2="427.5"/><line x1="174" y1="0" x2="174" y2="427.5"/><line x1="232" y1="0" x2="232" y2="427.5"/><line x1="290" y1="0" x2="290" y2="427.5"/><line x1="0" y1="72.4" x2="348" y2="72.4"/><line x1="0" y1="144.3" x2="348" y2="144.3"/><line x1="0" y1="215.7" x2="348" y2="215.7"/><line x1="0" y1="286.8" x2="348" y2="286.8"/><line x1="0" y1="357.3" x2="348" y2="357.3"/></g><rect x="0" y="0" width="348" height="427.5" fill="none" stroke="#222" stroke-width="1.3"/><path d="M58 427.5v-3.6M58 0v3.6M0 72.4h3.6M348 72.4h-3.6M116 427.5v-3.6M116 0v3.6M0 144.3h3.6M348 144.3h-3.6M174 427.5v-3.6M174 0v3.6M0 215.7h3.6M348 215.7h-3.6M232 427.5v-3.6M232 0v3.6M0 286.8h3.6M348 286.8h-3.6M290 427.5v-3.6M290 0v3.6M0 357.3h3.6M348 357.3h-3.6" stroke="#333" stroke-width="1.3" fill="none"/><g clip-path="url(#clip)"><path fill="#0000ff" d="M67.7 -1.1H75.6V7.1H67.7ZM159.4 -1.1H175V7.1H159.4ZM182.3 -1.1H198V7.1H182.3ZM67.7 6.8H75.6V15H67.7ZM159.4 6.8H175V15H159.4ZM182.3 6.8H205.6V15H182.3ZM151.7 14.6H175V22.8H151.7ZM182.3 14.6H190.3V22.8H182.3ZM205.3 14.6H213.3V22.8H205.3ZM159.4 22.4H175V30.6H159.4ZM190 22.4H213.3V30.6H190ZM159.4 30.3H175V38.5H159.4ZM190 30.3H213.3V38.5H190ZM167 38.1H175V46.3H167ZM182.3 38.1H190.3V46.3H182.3ZM197.6 38.1H213.3V46.3H197.6ZM182.3 45.9H213.3V54.1H182.3ZM182.3 53.7H213.3V61.9H182.3ZM182.3 61.6H198V69.7H182.3ZM205.3 61.6H213.3V69.7H205.3ZM167 69.4H175V77.5H167ZM182.3 69.4H213.3V77.5H182.3ZM167 77.2H182.7V85.3H167ZM190 77.2H205.6V85.3H190ZM82.9 84.9H90.9V93.1H82.9ZM167 84.9H182.7V93.1H167ZM197.6 84.9H205.6V93.1H197.6ZM205.3 92.7H213.3V100.9H205.3ZM90.6 100.5H98.6V108.6H90.6ZM205.3 100.5H220.9V108.6H205.3ZM205.3 108.3H220.9V116.4H205.3ZM212.9 116.1H220.9V124.2H212.9ZM190 123.8H198V132H190ZM205.3 123.8H220.9V132H205.3ZM212.9 131.6H220.9V139.7H212.9ZM212.9 139.4H220.9V147.5H212.9ZM220.6 147.1H228.5V155.2H220.6ZM220.6 154.9H236.2V162.9H220.6ZM220.6 162.6H236.2V170.7H220.6ZM228.2 170.3H236.2V178.4H228.2ZM228.2 178.1H236.2V186.1H228.2ZM121.2 185.8H129.2V193.9H121.2ZM228.2 185.8H236.2V193.9H228.2ZM121.2 193.5H129.2V201.6H121.2ZM228.2 193.5H236.2V201.6H228.2ZM121.2 201.2H129.2V209.3H121.2ZM235.8 201.2H243.8V209.3H235.8ZM121.2 208.9H129.2V217H121.2ZM220.6 208.9H243.8V217H220.6ZM251.1 208.9H289.7V217H251.1ZM220.6 216.6H297.4V224.7H220.6ZM235.8 224.3H274.4V232.4H235.8ZM281.7 224.3H289.7V232.4H281.7ZM251.1 232H274.4V240.1H251.1ZM281.7 232H289.7V240.1H281.7ZM220.6 239.7H266.8V247.7H220.6ZM281.7 239.7H289.7V247.7H281.7ZM212.9 247.4H220.9V255.4H212.9ZM235.8 247.4H259.1V255.4H235.8ZM281.7 247.4H289.7V255.4H281.7ZM235.8 255.1H243.8V263.1H235.8ZM251.1 255.1H297.4V263.1H251.1ZM82.9 262.7H90.9V270.8H82.9ZM105.9 262.7H113.9V270.8H105.9ZM228.2 262.7H251.5V270.8H228.2ZM266.4 262.7H297.4V270.8H266.4ZM75.3 270.4H90.9V278.4H75.3ZM105.9 270.4H113.9V278.4H105.9ZM205.3 270.4H213.3V278.4H205.3ZM220.6 270.4H297.4V278.4H220.6ZM82.9 278.1H90.9V286.1H82.9ZM105.9 278.1H113.9V286.1H105.9ZM212.9 278.1H282.1V286.1H212.9ZM289.4 278.1H297.4V286.1H289.4ZM90.6 285.7H98.6V293.7H90.6ZM105.9 285.7H121.5V293.7H105.9ZM205.3 285.7H228.5V293.7H205.3ZM235.8 285.7H259.1V293.7H235.8ZM98.2 293.4H121.5V301.4H98.2ZM197.6 293.4H205.6V301.4H197.6ZM212.9 293.4H220.9V301.4H212.9ZM228.2 293.4H259.1V301.4H228.2ZM90.6 301H106.2V309H90.6ZM205.3 301H220.9V309H205.3ZM228.2 301H259.1V309H228.2ZM182.3 308.7H190.3V316.7H182.3ZM228.2 308.7H259.1V316.7H228.2ZM67.7 316.3H75.6V324.3H67.7ZM136.5 316.3H144.5V324.3H136.5ZM174.7 316.3H182.7V324.3H174.7ZM205.3 316.3H220.9V324.3H205.3ZM235.8 316.3H251.5V324.3H235.8ZM67.7 323.9H75.6V331.9H67.7ZM128.8 323.9H136.8V331.9H128.8ZM151.7 323.9H159.7V331.9H151.7ZM212.9 323.9H228.5V331.9H212.9ZM235.8 323.9H243.8V331.9H235.8ZM144.1 331.6H152.1V339.5H144.1ZM182.3 331.6H190.3V339.5H182.3ZM205.3 331.6H243.8V339.5H205.3ZM144.1 339.2H152.1V347.2H144.1ZM167 339.2H175V347.2H167ZM190 339.2H213.3V347.2H190ZM220.6 339.2H243.8V347.2H220.6ZM90.6 346.8H113.9V354.8H90.6ZM128.8 346.8H152.1V354.8H128.8ZM174.7 346.8H228.5V354.8H174.7ZM90.6 354.4H98.6V362.4H90.6ZM113.5 354.4H129.2V362.4H113.5ZM136.5 354.4H144.5V362.4H136.5ZM159.4 354.4H167.4V362.4H159.4ZM182.3 354.4H213.3V362.4H182.3ZM82.9 362H90.9V370H82.9ZM105.9 362H121.5V370H105.9ZM136.5 362H175V370H136.5ZM75.3 369.6H90.9V377.6H75.3ZM105.9 369.6H136.8V377.6H105.9ZM6.5 377.2H14.5V385.2H6.5ZM52.4 377.2H68V385.2H52.4ZM75.3 377.2H83.3V385.2H75.3ZM14.1 384.8H22.1V392.8H14.1ZM37.1 384.8H60.4V392.8H37.1ZM21.8 392.4H45.1V400.3H21.8Z"/><path fill="#0080ff" d="M75.3 -1.1H83.3V7.1H75.3ZM90.6 -1.1H98.6V7.1H90.6ZM121.2 6.8H136.8V15H121.2ZM121.2 14.6H129.2V22.8H121.2ZM136.5 14.6H144.5V22.8H136.5ZM136.5 22.4H152.1V30.6H136.5ZM144.1 38.1H152.1V46.3H144.1ZM151.7 45.9H159.7V54.1H151.7ZM159.4 53.7H167.4V61.9H159.4ZM159.4 61.6H167.4V69.7H159.4ZM82.9 69.4H90.9V77.5H82.9ZM159.4 69.4H167.4V77.5H159.4ZM159.4 77.2H167.4V85.3H159.4ZM159.4 92.7H167.4V100.9H159.4ZM182.3 92.7H198V100.9H182.3ZM151.7 100.5H167.4V108.6H151.7ZM190 100.5H198V108.6H190ZM167 108.3H182.7V116.4H167ZM174.7 116.1H190.3V124.2H174.7ZM182.3 123.8H190.3V132H182.3ZM190 139.4H198V147.5H190ZM197.6 147.1H205.6V155.2H197.6ZM197.6 154.9H213.3V162.9H197.6ZM205.3 162.6H213.3V170.7H205.3ZM205.3 170.3H228.5V178.4H205.3ZM197.6 178.1H205.6V186.1H197.6ZM212.9 178.1H220.9V186.1H212.9ZM128.8 185.8H136.8V193.9H128.8ZM128.8 193.5H136.8V201.6H128.8ZM205.3 193.5H213.3V201.6H205.3ZM128.8 201.2H136.8V209.3H128.8ZM197.6 201.2H213.3V209.3H197.6ZM190 208.9H198V217H190ZM205.3 208.9H213.3V217H205.3ZM190 216.6H198V224.7H190ZM190 224.3H205.6V232.4H190ZM182.3 232H205.6V240.1H182.3ZM174.7 239.7H190.3V247.7H174.7ZM174.7 247.4H182.7V255.4H174.7ZM174.7 255.1H190.3V263.1H174.7ZM197.6 255.1H205.6V263.1H197.6ZM167 262.7H182.7V270.8H167ZM159.4 270.4H167.4V278.4H159.4ZM174.7 270.4H182.7V278.4H174.7ZM75.3 278.1H83.3V286.1H75.3ZM151.7 278.1H167.4V286.1H151.7ZM121.2 285.7H129.2V293.7H121.2ZM144.1 285.7H159.7V293.7H144.1ZM44.7 293.4H52.7V301.4H44.7ZM82.9 293.4H90.9V301.4H82.9ZM121.2 293.4H129.2V301.4H121.2ZM144.1 293.4H152.1V301.4H144.1ZM174.7 293.4H182.7V301.4H174.7ZM60 301H83.3V309H60ZM136.5 301H144.5V309H136.5ZM82.9 308.7H90.9V316.7H82.9ZM113.5 308.7H129.2V316.7H113.5ZM82.9 316.3H90.9V324.3H82.9ZM113.5 316.3H129.2V324.3H113.5ZM52.4 323.9H60.4V331.9H52.4ZM105.9 323.9H113.9V331.9H105.9ZM52.4 331.6H60.4V339.5H52.4ZM75.3 331.6H83.3V339.5H75.3ZM52.4 339.2H68V347.2H52.4ZM105.9 339.2H113.9V347.2H105.9ZM52.4 346.8H68V354.8H52.4ZM44.7 354.4H60.4V362.4H44.7ZM75.3 354.4H83.3V362.4H75.3ZM6.5 362H14.5V370H6.5ZM44.7 362H60.4V370H44.7ZM14.1 369.6H37.4V377.6H14.1ZM44.7 369.6H60.4V377.6H44.7ZM21.8 377.2H37.4V385.2H21.8Z"/><path fill="#00bdff" d="M82.9 -1.1H90.9V7.1H82.9ZM98.2 -1.1H106.2V7.1H98.2ZM113.5 -1.1H136.8V7.1H113.5ZM113.5 6.8H121.5V15H113.5ZM75.3 14.6H83.3V22.8H75.3ZM113.5 14.6H121.5V22.8H113.5ZM128.8 14.6H136.8V22.8H128.8ZM121.2 22.4H136.8V30.6H121.2ZM136.5 30.3H144.5V38.5H136.5ZM136.5 38.1H144.5V46.3H136.5ZM144.1 45.9H152.1V54.1H144.1ZM151.7 53.7H159.7V61.9H151.7ZM82.9 61.6H90.9V69.7H82.9ZM151.7 61.6H159.7V69.7H151.7ZM136.5 69.4H152.1V77.5H136.5ZM90.6 84.9H98.6V93.1H90.6ZM151.7 84.9H159.7V93.1H151.7ZM151.7 92.7H159.7V100.9H151.7ZM159.4 108.3H167.4V116.4H159.4ZM159.4 116.1H175V124.2H159.4ZM159.4 123.8H167.4V132H159.4ZM174.7 123.8H182.7V132H174.7ZM182.3 131.6H190.3V139.7H182.3ZM182.3 139.4H190.3V147.5H182.3ZM159.4 147.1H182.7V155.2H159.4ZM190 147.1H198V155.2H190ZM167 154.9H190.3V162.9H167ZM167 162.6H182.7V170.7H167ZM190 162.6H198V170.7H190ZM190 170.3H205.6V178.4H190ZM128.8 178.1H136.8V186.1H128.8ZM190 178.1H198V186.1H190ZM205.3 185.8H220.9V193.9H205.3ZM167 193.5H175V201.6H167ZM190 193.5H205.6V201.6H190ZM151.7 201.2H167.4V209.3H151.7ZM182.3 201.2H198V209.3H182.3ZM128.8 208.9H136.8V217H128.8ZM182.3 208.9H190.3V217H182.3ZM128.8 216.6H136.8V224.7H128.8ZM167 216.6H190.3V224.7H167ZM121.2 224.3H129.2V232.4H121.2ZM167 224.3H190.3V232.4H167ZM167 232H182.7V240.1H167ZM167 239.7H175V247.7H167ZM167 247.4H175V255.4H167ZM167 255.1H175V263.1H167ZM159.4 262.7H167.4V270.8H159.4ZM113.5 270.4H121.5V278.4H113.5ZM151.7 270.4H159.7V278.4H151.7ZM60 278.1H75.6V286.1H60ZM121.2 278.1H152.1V286.1H121.2ZM52.4 285.7H60.4V293.7H52.4ZM75.3 285.7H83.3V293.7H75.3ZM128.8 285.7H144.5V293.7H128.8ZM75.3 293.4H83.3V301.4H75.3ZM128.8 293.4H144.5V301.4H128.8ZM44.7 301H60.4V309H44.7ZM121.2 301H136.8V309H121.2ZM52.4 308.7H60.4V316.7H52.4ZM52.4 316.3H60.4V324.3H52.4ZM44.7 331.6H52.7V339.5H44.7ZM37.1 339.2H52.7V347.2H37.1ZM37.1 346.8H52.7V354.8H37.1ZM21.8 354.4H29.8V362.4H21.8ZM37.1 354.4H45.1V362.4H37.1ZM14.1 362H37.4V370H14.1ZM37.1 369.6H45.1V377.6H37.1Z"/><path fill="#00faff" d="M105.9 -1.1H113.9V7.1H105.9ZM90.6 6.8H113.9V15H90.6ZM105.9 14.6H113.9V22.8H105.9ZM75.3 22.4H83.3V30.6H75.3ZM113.5 22.4H121.5V30.6H113.5ZM75.3 30.3H83.3V38.5H75.3ZM121.2 30.3H136.8V38.5H121.2ZM121.2 38.1H136.8V46.3H121.2ZM128.8 45.9H144.5V54.1H128.8ZM136.5 53.7H152.1V61.9H136.5ZM136.5 61.6H152.1V69.7H136.5ZM151.7 69.4H159.7V77.5H151.7ZM90.6 77.2H98.6V85.3H90.6ZM151.7 77.2H159.7V85.3H151.7ZM144.1 84.9H152.1V93.1H144.1ZM98.2 92.7H106.2V100.9H98.2ZM144.1 92.7H152.1V100.9H144.1ZM98.2 100.5H106.2V108.6H98.2ZM144.1 100.5H152.1V108.6H144.1ZM98.2 108.3H106.2V116.4H98.2ZM151.7 108.3H159.7V116.4H151.7ZM98.2 116.1H106.2V124.2H98.2ZM144.1 116.1H159.7V124.2H144.1ZM98.2 123.8H106.2V132H98.2ZM144.1 123.8H159.7V132H144.1ZM167 123.8H175V132H167ZM144.1 131.6H152.1V139.7H144.1ZM159.4 131.6H182.7V139.7H159.4ZM159.4 139.4H175V147.5H159.4ZM151.7 147.1H159.7V155.2H151.7ZM182.3 147.1H190.3V155.2H182.3ZM159.4 154.9H167.4V162.9H159.4ZM190 154.9H198V162.9H190ZM113.5 162.6H121.5V170.7H113.5ZM159.4 162.6H167.4V170.7H159.4ZM182.3 162.6H190.3V170.7H182.3ZM197.6 162.6H205.6V170.7H197.6ZM121.2 170.3H129.2V178.4H121.2ZM167 170.3H190.3V178.4H167ZM159.4 178.1H190.3V186.1H159.4ZM205.3 178.1H213.3V186.1H205.3ZM151.7 185.8H167.4V193.9H151.7ZM182.3 185.8H205.6V193.9H182.3ZM136.5 193.5H167.4V201.6H136.5ZM182.3 193.5H190.3V201.6H182.3ZM136.5 201.2H152.1V209.3H136.5ZM167 201.2H182.7V209.3H167ZM136.5 208.9H144.5V217H136.5ZM151.7 208.9H175V217H151.7ZM136.5 216.6H144.5V224.7H136.5ZM151.7 216.6H167.4V224.7H151.7ZM151.7 224.3H167.4V232.4H151.7ZM151.7 232H167.4V240.1H151.7ZM159.4 239.7H167.4V247.7H159.4ZM159.4 247.4H167.4V255.4H159.4ZM159.4 255.1H167.4V263.1H159.4ZM151.7 262.7H159.7V270.8H151.7ZM136.5 270.4H144.5V278.4H136.5ZM60 285.7H68V293.7H60ZM52.4 293.4H68V301.4H52.4ZM37.1 301H45.1V309H37.1ZM6.5 323.9H14.5V331.9H6.5ZM44.7 323.9H52.7V331.9H44.7ZM6.5 339.2H14.5V347.2H6.5ZM21.8 346.8H37.4V354.8H21.8ZM6.5 354.4H22.1V362.4H6.5ZM29.4 354.4H37.4V362.4H29.4ZM37.1 362H45.1V370H37.1Z"/><path fill="#0042ff" d="M136.5 -1.1H159.7V7.1H136.5ZM174.7 -1.1H182.7V7.1H174.7ZM75.3 6.8H83.3V15H75.3ZM136.5 6.8H159.7V15H136.5ZM174.7 6.8H182.7V15H174.7ZM144.1 14.6H152.1V22.8H144.1ZM174.7 14.6H182.7V22.8H174.7ZM190 14.6H205.6V22.8H190ZM151.7 22.4H159.7V30.6H151.7ZM174.7 22.4H190.3V30.6H174.7ZM144.1 30.3H159.7V38.5H144.1ZM174.7 30.3H190.3V38.5H174.7ZM151.7 38.1H167.4V46.3H151.7ZM174.7 38.1H182.7V46.3H174.7ZM190 38.1H198V46.3H190ZM159.4 45.9H182.7V54.1H159.4ZM167 53.7H182.7V61.9H167ZM167 61.6H182.7V69.7H167ZM197.6 61.6H205.6V69.7H197.6ZM174.7 69.4H182.7V77.5H174.7ZM82.9 77.2H90.9V85.3H82.9ZM159.4 84.9H167.4V93.1H159.4ZM182.3 84.9H198V93.1H182.3ZM90.6 92.7H98.6V100.9H90.6ZM167 92.7H182.7V100.9H167ZM197.6 92.7H205.6V100.9H197.6ZM167 100.5H190.3V108.6H167ZM197.6 100.5H205.6V108.6H197.6ZM182.3 108.3H205.6V116.4H182.3ZM190 116.1H213.3V124.2H190ZM197.6 123.8H205.6V132H197.6ZM190 131.6H213.3V139.7H190ZM197.6 139.4H213.3V147.5H197.6ZM205.3 147.1H220.9V155.2H205.3ZM212.9 154.9H220.9V162.9H212.9ZM212.9 162.6H220.9V170.7H212.9ZM121.2 178.1H129.2V186.1H121.2ZM220.6 178.1H228.5V186.1H220.6ZM220.6 185.8H228.5V193.9H220.6ZM212.9 193.5H228.5V201.6H212.9ZM212.9 201.2H236.2V209.3H212.9ZM197.6 208.9H205.6V217H197.6ZM212.9 208.9H220.9V217H212.9ZM243.5 208.9H251.5V217H243.5ZM121.2 216.6H129.2V224.7H121.2ZM197.6 216.6H220.9V224.7H197.6ZM205.3 224.3H236.2V232.4H205.3ZM274.1 224.3H282.1V232.4H274.1ZM205.3 232H251.5V240.1H205.3ZM274.1 232H282.1V240.1H274.1ZM190 239.7H220.9V247.7H190ZM266.4 239.7H282.1V247.7H266.4ZM182.3 247.4H213.3V255.4H182.3ZM220.6 247.4H236.2V255.4H220.6ZM258.8 247.4H282.1V255.4H258.8ZM105.9 255.1H113.9V263.1H105.9ZM190 255.1H198V263.1H190ZM205.3 255.1H236.2V263.1H205.3ZM243.5 255.1H251.5V263.1H243.5ZM182.3 262.7H228.5V270.8H182.3ZM251.1 262.7H266.8V270.8H251.1ZM67.7 270.4H75.6V278.4H67.7ZM167 270.4H175V278.4H167ZM182.3 270.4H205.6V278.4H182.3ZM212.9 270.4H220.9V278.4H212.9ZM113.5 278.1H121.5V286.1H113.5ZM167 278.1H213.3V286.1H167ZM82.9 285.7H90.9V293.7H82.9ZM159.4 285.7H205.6V293.7H159.4ZM228.2 285.7H236.2V293.7H228.2ZM90.6 293.4H98.6V301.4H90.6ZM151.7 293.4H175V301.4H151.7ZM182.3 293.4H198V301.4H182.3ZM205.3 293.4H213.3V301.4H205.3ZM220.6 293.4H228.5V301.4H220.6ZM82.9 301H90.9V309H82.9ZM105.9 301H121.5V309H105.9ZM144.1 301H205.6V309H144.1ZM220.6 301H228.5V309H220.6ZM60 308.7H83.3V316.7H60ZM90.6 308.7H113.9V316.7H90.6ZM128.8 308.7H182.7V316.7H128.8ZM190 308.7H228.5V316.7H190ZM60 316.3H68V324.3H60ZM75.3 316.3H83.3V324.3H75.3ZM90.6 316.3H113.9V324.3H90.6ZM128.8 316.3H136.8V324.3H128.8ZM144.1 316.3H175V324.3H144.1ZM182.3 316.3H205.6V324.3H182.3ZM220.6 316.3H236.2V324.3H220.6ZM60 323.9H68V331.9H60ZM75.3 323.9H106.2V331.9H75.3ZM113.5 323.9H129.2V331.9H113.5ZM136.5 323.9H152.1V331.9H136.5ZM159.4 323.9H213.3V331.9H159.4ZM228.2 323.9H236.2V331.9H228.2ZM60 331.6H75.6V339.5H60ZM82.9 331.6H144.5V339.5H82.9ZM151.7 331.6H182.7V339.5H151.7ZM190 331.6H205.6V339.5H190ZM67.7 339.2H106.2V347.2H67.7ZM113.5 339.2H144.5V347.2H113.5ZM151.7 339.2H167.4V347.2H151.7ZM174.7 339.2H190.3V347.2H174.7ZM212.9 339.2H220.9V347.2H212.9ZM67.7 346.8H90.9V354.8H67.7ZM113.5 346.8H129.2V354.8H113.5ZM151.7 346.8H175V354.8H151.7ZM60 354.4H75.6V362.4H60ZM82.9 354.4H90.9V362.4H82.9ZM128.8 354.4H136.8V362.4H128.8ZM144.1 354.4H159.7V362.4H144.1ZM60 362H83.3V370H60ZM121.2 362H136.8V370H121.2ZM6.5 369.6H14.5V377.6H6.5ZM60 369.6H75.6V377.6H60ZM14.1 377.2H22.1V385.2H14.1ZM37.1 377.2H52.7V385.2H37.1ZM67.7 377.2H75.6V385.2H67.7ZM21.8 384.8H37.4V392.8H21.8Z"/><path fill="#0000cc" d="M197.6 -1.1H213.3V7.1H197.6ZM205.3 6.8H213.3V15H205.3ZM212.9 14.6H220.9V22.8H212.9ZM212.9 22.4H220.9V30.6H212.9ZM212.9 30.3H220.9V38.5H212.9ZM212.9 38.1H220.9V46.3H212.9ZM212.9 45.9H220.9V54.1H212.9ZM212.9 53.7H220.9V61.9H212.9ZM212.9 61.6H220.9V69.7H212.9ZM212.9 69.4H220.9V77.5H212.9ZM182.3 77.2H190.3V85.3H182.3ZM205.3 77.2H213.3V85.3H205.3ZM258.8 77.2H266.8V85.3H258.8ZM205.3 84.9H213.3V93.1H205.3ZM212.9 92.7H220.9V100.9H212.9ZM220.6 100.5H228.5V108.6H220.6ZM297 100.5H305V108.6H297ZM220.6 108.3H228.5V116.4H220.6ZM220.6 116.1H236.2V124.2H220.6ZM289.4 116.1H297.4V124.2H289.4ZM220.6 123.8H236.2V132H220.6ZM220.6 131.6H236.2V139.7H220.6ZM258.8 131.6H266.8V139.7H258.8ZM297 131.6H305V139.7H297ZM220.6 139.4H236.2V147.5H220.6ZM228.2 147.1H243.8V155.2H228.2ZM235.8 154.9H243.8V162.9H235.8ZM235.8 162.6H251.5V170.7H235.8ZM235.8 170.3H251.5V178.4H235.8ZM235.8 178.1H251.5V186.1H235.8ZM235.8 185.8H266.8V193.9H235.8ZM235.8 193.5H282.1V201.6H235.8ZM243.5 201.2H297.4V209.3H243.5ZM289.4 208.9H305V217H289.4ZM297 216.6H305V224.7H297ZM289.4 224.3H305V232.4H289.4ZM289.4 232H305V240.1H289.4ZM289.4 239.7H305V247.7H289.4ZM289.4 247.4H305V255.4H289.4ZM90.6 255.1H106.2V263.1H90.6ZM297 255.1H305V263.1H297ZM90.6 262.7H106.2V270.8H90.6ZM297 262.7H305V270.8H297ZM90.6 270.4H106.2V278.4H90.6ZM297 270.4H305V278.4H297ZM90.6 278.1H106.2V286.1H90.6ZM281.7 278.1H289.7V286.1H281.7ZM297 278.1H305V286.1H297ZM98.2 285.7H106.2V293.7H98.2ZM258.8 285.7H305V293.7H258.8ZM258.8 293.4H274.4V301.4H258.8ZM258.8 301H274.4V309H258.8ZM258.8 308.7H266.8V316.7H258.8ZM251.1 316.3H259.1V324.3H251.1ZM243.5 323.9H251.5V331.9H243.5ZM243.5 331.6H251.5V339.5H243.5ZM243.5 339.2H251.5V347.2H243.5ZM228.2 346.8H243.8V354.8H228.2ZM98.2 354.4H113.9V362.4H98.2ZM167 354.4H182.7V362.4H167ZM212.9 354.4H228.5V362.4H212.9ZM90.6 362H106.2V370H90.6ZM174.7 362H220.9V370H174.7ZM90.6 369.6H106.2V377.6H90.6ZM136.5 369.6H182.7V377.6H136.5ZM82.9 377.2H144.5V385.2H82.9ZM6.5 384.8H14.5V392.8H6.5ZM60 384.8H106.2V392.8H60ZM6.5 392.4H22.1V400.3H6.5ZM44.7 392.4H68V400.3H44.7ZM14.1 400H37.4V407.9H14.1Z"/><path fill="#000094" d="M212.9 -1.1H350.9V7.1H212.9ZM212.9 6.8H350.9V15H212.9ZM220.6 14.6H350.9V22.8H220.6ZM220.6 22.4H350.9V30.6H220.6ZM220.6 30.3H350.9V38.5H220.6ZM220.6 38.1H350.9V46.3H220.6ZM220.6 45.9H350.9V54.1H220.6ZM220.6 53.7H350.9V61.9H220.6ZM220.6 61.6H350.9V69.7H220.6ZM220.6 69.4H350.9V77.5H220.6ZM212.9 77.2H259.1V85.3H212.9ZM266.4 77.2H350.9V85.3H266.4ZM212.9 84.9H350.9V93.1H212.9ZM220.6 92.7H350.9V100.9H220.6ZM228.2 100.5H297.4V108.6H228.2ZM304.6 100.5H350.9V108.6H304.6ZM228.2 108.3H350.9V116.4H228.2ZM235.8 116.1H289.7V124.2H235.8ZM297 116.1H350.9V124.2H297ZM235.8 123.8H350.9V132H235.8ZM235.8 131.6H259.1V139.7H235.8ZM266.4 131.6H297.4V139.7H266.4ZM304.6 131.6H350.9V139.7H304.6ZM235.8 139.4H350.9V147.5H235.8ZM243.5 147.1H350.9V155.2H243.5ZM243.5 154.9H350.9V162.9H243.5ZM251.1 162.6H350.9V170.7H251.1ZM251.1 170.3H350.9V178.4H251.1ZM251.1 178.1H350.9V186.1H251.1ZM266.4 185.8H350.9V193.9H266.4ZM281.7 193.5H350.9V201.6H281.7ZM297 201.2H350.9V209.3H297ZM304.6 208.9H350.9V217H304.6ZM304.6 216.6H350.9V224.7H304.6ZM304.6 224.3H350.9V232.4H304.6ZM304.6 232H350.9V240.1H304.6ZM304.6 239.7H350.9V247.7H304.6ZM304.6 247.4H350.9V255.4H304.6ZM304.6 255.1H350.9V263.1H304.6ZM304.6 262.7H350.9V270.8H304.6ZM304.6 270.4H350.9V278.4H304.6ZM304.6 278.1H350.9V286.1H304.6ZM304.6 285.7H350.9V293.7H304.6ZM274.1 293.4H350.9V301.4H274.1ZM274.1 301H350.9V309H274.1ZM266.4 308.7H350.9V316.7H266.4ZM258.8 316.3H350.9V324.3H258.8ZM251.1 323.9H350.9V331.9H251.1ZM251.1 331.6H350.9V339.5H251.1ZM251.1 339.2H350.9V347.2H251.1ZM243.5 346.8H350.9V354.8H243.5ZM228.2 354.4H350.9V362.4H228.2ZM220.6 362H350.9V370H220.6ZM182.3 369.6H350.9V377.6H182.3ZM144.1 377.2H350.9V385.2H144.1ZM105.9 384.8H350.9V392.8H105.9ZM67.7 392.4H350.9V400.3H67.7ZM6.5 400H14.5V407.9H6.5ZM37.1 400H350.9V407.9H37.1ZM6.5 407.6H350.9V415.5H6.5ZM6.5 415.2H350.9V423.1H6.5ZM6.5 422.7H350.9V430.6H6.5Z"/><path fill="#42ffbd" d="M82.9 6.8H90.9V15H82.9ZM82.9 14.6H106.2V22.8H82.9ZM82.9 22.4H113.9V30.6H82.9ZM82.9 30.3H98.6V38.5H82.9ZM113.5 30.3H121.5V38.5H113.5ZM75.3 38.1H83.3V46.3H75.3ZM113.5 38.1H121.5V46.3H113.5ZM75.3 45.9H83.3V54.1H75.3ZM121.2 45.9H129.2V54.1H121.2ZM128.8 53.7H136.8V61.9H128.8ZM121.2 61.6H136.8V69.7H121.2ZM90.6 69.4H98.6V77.5H90.6ZM105.9 69.4H113.9V77.5H105.9ZM121.2 69.4H136.8V77.5H121.2ZM121.2 77.2H152.1V85.3H121.2ZM121.2 84.9H136.8V93.1H121.2ZM121.2 92.7H144.5V100.9H121.2ZM128.8 100.5H144.5V108.6H128.8ZM136.5 108.3H152.1V116.4H136.5ZM128.8 116.1H136.8V124.2H128.8ZM128.8 123.8H144.5V132H128.8ZM136.5 131.6H144.5V139.7H136.5ZM151.7 131.6H159.7V139.7H151.7ZM151.7 139.4H159.7V147.5H151.7ZM174.7 139.4H182.7V147.5H174.7ZM144.1 147.1H152.1V155.2H144.1ZM151.7 154.9H159.7V162.9H151.7ZM151.7 162.6H159.7V170.7H151.7ZM159.4 170.3H167.4V178.4H159.4ZM136.5 178.1H144.5V186.1H136.5ZM151.7 178.1H159.7V186.1H151.7ZM136.5 185.8H152.1V193.9H136.5ZM167 185.8H182.7V193.9H167ZM174.7 193.5H182.7V201.6H174.7ZM144.1 208.9H152.1V217H144.1ZM174.7 208.9H182.7V217H174.7ZM144.1 216.6H152.1V224.7H144.1ZM128.8 224.3H136.8V232.4H128.8ZM144.1 224.3H152.1V232.4H144.1ZM151.7 239.7H159.7V247.7H151.7ZM151.7 247.4H159.7V255.4H151.7ZM151.7 255.1H159.7V263.1H151.7ZM113.5 262.7H121.5V270.8H113.5ZM144.1 262.7H152.1V270.8H144.1ZM121.2 270.4H136.8V278.4H121.2ZM144.1 270.4H152.1V278.4H144.1ZM67.7 285.7H75.6V293.7H67.7ZM67.7 293.4H75.6V301.4H67.7ZM29.4 308.7H37.4V316.7H29.4ZM44.7 308.7H52.7V316.7H44.7ZM14.1 316.3H22.1V324.3H14.1ZM44.7 316.3H52.7V324.3H44.7ZM37.1 331.6H45.1V339.5H37.1ZM29.4 339.2H37.4V347.2H29.4ZM6.5 346.8H14.5V354.8H6.5Z"/><path fill="#80ff80" d="M98.2 30.3H113.9V38.5H98.2ZM82.9 38.1H113.9V46.3H82.9ZM113.5 45.9H121.5V54.1H113.5ZM113.5 53.7H129.2V61.9H113.5ZM105.9 61.6H121.5V69.7H105.9ZM113.5 69.4H121.5V77.5H113.5ZM98.2 77.2H121.5V85.3H98.2ZM98.2 84.9H121.5V93.1H98.2ZM136.5 84.9H144.5V93.1H136.5ZM105.9 92.7H121.5V100.9H105.9ZM105.9 100.5H113.9V108.6H105.9ZM121.2 100.5H129.2V108.6H121.2ZM105.9 108.3H113.9V116.4H105.9ZM128.8 108.3H136.8V116.4H128.8ZM121.2 116.1H129.2V124.2H121.2ZM136.5 116.1H144.5V124.2H136.5ZM128.8 131.6H136.8V139.7H128.8ZM144.1 139.4H152.1V147.5H144.1ZM136.5 147.1H144.5V155.2H136.5ZM144.1 154.9H152.1V162.9H144.1ZM128.8 170.3H144.5V178.4H128.8ZM151.7 170.3H159.7V178.4H151.7ZM144.1 178.1H152.1V186.1H144.1ZM136.5 224.3H144.5V232.4H136.5ZM121.2 232H129.2V240.1H121.2ZM144.1 232H152.1V240.1H144.1ZM144.1 239.7H152.1V247.7H144.1ZM144.1 247.4H152.1V255.4H144.1ZM144.1 255.1H152.1V263.1H144.1ZM136.5 262.7H144.5V270.8H136.5ZM37.1 308.7H45.1V316.7H37.1ZM21.8 316.3H29.8V324.3H21.8ZM14.1 323.9H22.1V331.9H14.1ZM37.1 323.9H45.1V331.9H37.1ZM6.5 331.6H14.5V339.5H6.5ZM29.4 331.6H37.4V339.5H29.4ZM21.8 339.2H29.8V347.2H21.8ZM14.1 346.8H22.1V354.8H14.1Z"/><path fill="#ff6100" d="M82.9 45.9H98.6V54.1H82.9ZM113.5 131.6H121.5V139.7H113.5ZM121.2 139.4H129.2V147.5H121.2ZM113.5 147.1H121.5V155.2H113.5ZM121.2 154.9H129.2V162.9H121.2ZM121.2 239.7H129.2V247.7H121.2Z"/><path fill="#ffbd00" d="M98.2 45.9H106.2V54.1H98.2ZM90.6 53.7H98.6V61.9H90.6ZM105.9 139.4H113.9V147.5H105.9ZM128.8 139.4H136.8V147.5H128.8ZM105.9 147.1H113.9V155.2H105.9ZM113.5 154.9H121.5V162.9H113.5ZM128.8 232H144.5V240.1H128.8ZM136.5 239.7H144.5V247.7H136.5ZM113.5 247.4H121.5V255.4H113.5ZM136.5 247.4H144.5V255.4H136.5ZM113.5 255.1H121.5V263.1H113.5ZM128.8 262.7H136.8V270.8H128.8Z"/><path fill="#bdff42" d="M105.9 45.9H113.9V54.1H105.9ZM82.9 53.7H90.9V61.9H82.9ZM98.2 53.7H113.9V61.9H98.2ZM90.6 61.6H106.2V69.7H90.6ZM98.2 69.4H106.2V77.5H98.2ZM113.5 100.5H121.5V108.6H113.5ZM113.5 108.3H129.2V116.4H113.5ZM105.9 116.1H113.9V124.2H105.9ZM121.2 123.8H129.2V132H121.2ZM121.2 131.6H129.2V139.7H121.2ZM136.5 139.4H144.5V147.5H136.5ZM136.5 154.9H144.5V162.9H136.5ZM121.2 162.6H129.2V170.7H121.2ZM136.5 162.6H152.1V170.7H136.5ZM144.1 170.3H152.1V178.4H144.1ZM29.4 316.3H45.1V324.3H29.4ZM21.8 323.9H37.4V331.9H21.8ZM14.1 331.6H22.1V339.5H14.1ZM14.1 339.2H22.1V347.2H14.1Z"/><path fill="#ffff00" d="M113.5 116.1H121.5V124.2H113.5ZM105.9 123.8H121.5V132H105.9ZM105.9 131.6H113.9V139.7H105.9ZM128.8 147.1H136.8V155.2H128.8ZM128.8 154.9H136.8V162.9H128.8ZM128.8 162.6H136.8V170.7H128.8ZM136.5 255.1H144.5V263.1H136.5ZM121.2 262.7H129.2V270.8H121.2ZM21.8 331.6H29.8V339.5H21.8Z"/><path fill="#9e0000" d="M113.5 139.4H121.5V147.5H113.5ZM121.2 147.1H129.2V155.2H121.2ZM128.8 247.4H136.8V255.4H128.8ZM121.2 255.1H129.2V263.1H121.2Z"/><path fill="#ff0500" d="M128.8 239.7H136.8V247.7H128.8ZM121.2 247.4H129.2V255.4H121.2ZM128.8 255.1H136.8V263.1H128.8Z"/><use href="#land"/><path d="M208.7 6.8L208.7 14.6M208.7 14.6L212.9 18.9M212.9 18.9L216.4 22.4M216.4 22.4L216.4 30.3M216.4 30.3L216.4 38.1M216.4 38.1L216.4 45.9M216.4 45.9L216.4 53.7M216.4 53.7L216.4 61.6M216.4 61.6L216.4 69.4M216.4 69.4L216.4 77.2M208.7 84.9L212.9 80.7M212.9 80.7L216.4 77.2M255.3 84.9L258.8 81.4M258.8 81.4L262.3 84.9M208.7 84.9L208.7 92.7M255.3 84.9L258.8 88.5M258.8 88.5L262.3 84.9M208.7 92.7L212.9 97M212.9 97L216.4 100.5M216.4 100.5L220.6 104.8M220.6 104.8L224 108.3M293.5 108.3L297 104.8M297 104.8L300.5 108.3M224 108.3L224 116.1M293.5 108.3L297 111.8M297 111.8L300.5 108.3M224 116.1L228.2 120.3M228.2 120.3L231.7 123.8M285.9 123.8L289.4 120.3M289.4 120.3L292.8 123.8M231.7 123.8L231.7 131.6M285.9 123.8L289.4 127.4M289.4 127.4L292.8 123.8M231.7 131.6L231.7 139.4M255.3 139.4L258.8 135.8M258.8 135.8L262.3 139.4M293.5 139.4L297 135.8M297 135.8L300.5 139.4M231.7 139.4L231.7 147.1M255.3 139.4L258.8 142.9M258.8 142.9L262.3 139.4M293.5 139.4L297 142.9M297 142.9L300.5 139.4M231.7 147.1L235.8 151.3M235.8 151.3L239.3 154.9M239.3 154.9L239.3 162.6M239.3 162.6L243.5 166.8M243.5 166.8L247 170.3M247 170.3L247 178.1M247 178.1L247 185.8M247 185.8L251.1 190M251.1 190L258.8 190M258.8 190L262.3 193.5M262.3 193.5L266.4 197.7M266.4 197.7L274.1 197.7M274.1 197.7L277.5 201.2M277.5 201.2L281.7 205.4M281.7 205.4L289.4 205.4M289.4 205.4L292.8 208.9M292.8 208.9L297 213.1M297 213.1L300.5 216.6M300.5 216.6L300.5 224.3M300.5 224.3L300.5 232M300.5 232L300.5 239.7M300.5 239.7L300.5 247.4M300.5 247.4L300.5 255.1M300.5 255.1L300.5 262.7M300.5 262.7L300.5 270.4M300.5 270.4L300.5 278.1M300.5 278.1L300.5 285.7M300.5 285.7L300.5 293.4M269.9 301L274.1 296.9M274.1 296.9L281.7 296.9M281.7 296.9L289.4 296.9M289.4 296.9L297 296.9M297 296.9L300.5 293.4M269.9 301L269.9 308.7M262.3 316.3L266.4 312.1M266.4 312.1L269.9 308.7M254.6 323.9L258.8 319.8M258.8 319.8L262.3 316.3M247 331.6L251.1 327.4M251.1 327.4L254.6 323.9M247 331.6L247 339.2M247 339.2L247 346.8M239.3 354.4L243.5 350.3M243.5 350.3L247 346.8M224 362L228.2 357.9M228.2 357.9L235.8 357.9M235.8 357.9L239.3 354.4M216.4 369.6L220.6 365.5M220.6 365.5L224 362M178.2 377.2L182.3 373.1M182.3 373.1L190 373.1M190 373.1L197.6 373.1M197.6 373.1L205.3 373.1M205.3 373.1L212.9 373.1M212.9 373.1L216.4 369.6M139.9 384.8L144.1 380.7M144.1 380.7L151.7 380.7M151.7 380.7L159.4 380.7M159.4 380.7L167 380.7M167 380.7L174.7 380.7M174.7 380.7L178.2 377.2M101.7 392.4L105.9 388.3M105.9 388.3L113.5 388.3M113.5 388.3L121.2 388.3M121.2 388.3L128.8 388.3M128.8 388.3L136.5 388.3M136.5 388.3L139.9 384.8M63.5 400L67.7 395.9M67.7 395.9L75.3 395.9M75.3 395.9L82.9 395.9M82.9 395.9L90.6 395.9M90.6 395.9L98.2 395.9M98.2 395.9L101.7 392.4M6.5 403.4L10.7 407.6M32.9 407.6L37.1 405.4M37.1 405.4L44.7 403.4M44.7 403.4L52.4 403.4M52.4 403.4L60 403.4M60 403.4L63.5 400M10.7 407.6L14.1 411M14.1 411L21.8 411M21.8 411L29.4 411M29.4 411L32.9 407.6" stroke="#000" stroke-width="1" fill="none"/><text x="0" y="4.5" font-size="13" text-anchor="middle" transform="translate(207.3,4.5) rotate(-90)">3</text><text x="0" y="4.5" font-size="13" text-anchor="middle" transform="translate(268.8,78.8) rotate(-20)">3</text><text x="0" y="4.5" font-size="13" text-anchor="middle" transform="translate(292,116) rotate(-20)">3</text><text x="0" y="4.5" font-size="13" text-anchor="middle" transform="translate(281.6,134.5) rotate(-70)">3</text><text x="0" y="4.5" font-size="13" text-anchor="middle" transform="translate(253.2,168.6) rotate(-70)">3</text><text x="0" y="4.5" font-size="13" text-anchor="middle" transform="translate(252,195.1) rotate(-70)">3</text><text x="0" y="4.5" font-size="13" text-anchor="middle" transform="translate(292.4,162.8) rotate(-80)">3</text><text x="0" y="4.5" font-size="13" text-anchor="middle" transform="translate(295.8,183.6) rotate(-30)">3</text><text x="0" y="4.5" font-size="13" text-anchor="middle" transform="translate(251.6,341.7) rotate(-10)">3</text><text x="0" y="4.5" font-size="13" text-anchor="middle" transform="translate(22.3,406.8) rotate(0)">3</text><use href="#sites"/></g><rect x="3.4" y="20" width="112.5" height="25" fill="url(#jetg)" stroke="#222" stroke-width="1.2"/><text x="285.5" y="37.5" font-size="20" >10 km</text><path d="M307 43.7h14" stroke="#000" stroke-width="4" stroke-linecap="round"/><text x="4.7" y="7.2" font-size="17" text-anchor="middle" fill="#262626">0</text><text x="109.8" y="7.2" font-size="17" text-anchor="middle" fill="#262626">50</text></g><text x="836.7" y="149.8" font-size="21" text-anchor="end">37°N</text><text x="836.7" y="219.9" font-size="14.5" text-anchor="end">30'</text><text x="836.7" y="294.1" font-size="21" text-anchor="end">36°N</text><text x="836.7" y="363.2" font-size="14.5" text-anchor="end">30'</text><text x="836.7" y="436.6" font-size="21" text-anchor="end">35°N</text><text x="836.7" y="504.8" font-size="14.5" text-anchor="end">30'</text><text x="836.7" y="577.3" font-size="21" text-anchor="end">34°N</text><text x="843.2" y="586.8" font-size="14.5" text-anchor="middle">30'</text><text x="904.2" y="590.8" font-size="21" text-anchor="middle">76°W</text><text x="959.2" y="586.8" font-size="14.5" text-anchor="middle">30'</text><text x="1020.2" y="590.8" font-size="21" text-anchor="middle">75°W</text><text x="1075.2" y="586.8" font-size="14.5" text-anchor="middle">30'</text><text x="1136.2" y="590.8" font-size="21" text-anchor="middle">74°W</text><text x="1191.2" y="586.8" font-size="14.5" text-anchor="middle">30'</text><g transform="translate(1226.8,142.3)"><g stroke="#c4c4c4" stroke-width="1" stroke-dasharray="1.8 6.5"><line x1="58" y1="0" x2="58" y2="427.5"/><line x1="116" y1="0" x2="116" y2="427.5"/><line x1="174" y1="0" x2="174" y2="427.5"/><line x1="232" y1="0" x2="232" y2="427.5"/><line x1="290" y1="0" x2="290" y2="427.5"/><line x1="0" y1="72.4" x2="348" y2="72.4"/><line x1="0" y1="144.3" x2="348" y2="144.3"/><line x1="0" y1="215.7" x2="348" y2="215.7"/><line x1="0" y1="286.8" x2="348" y2="286.8"/><line x1="0" y1="357.3" x2="348" y2="357.3"/></g><rect x="0" y="0" width="348" height="427.5" fill="none" stroke="#222" stroke-width="1.3"/><path d="M58 427.5v-3.6M58 0v3.6M0 72.4h3.6M348 72.4h-3.6M116 427.5v-3.6M116 0v3.6M0 144.3h3.6M348 144.3h-3.6M174 427.5v-3.6M174 0v3.6M0 215.7h3.6M348 215.7h-3.6M232 427.5v-3.6M232 0v3.6M0 286.8h3.6M348 286.8h-3.6M290 427.5v-3.6M290 0v3.6M0 357.3h3.6M348 357.3h-3.6" stroke="#333" stroke-width="1.3" fill="none"/><g clip-path="url(#clip)"><path fill="#ffc800" d="M67.7 -1.1H152.1V7.1H67.7ZM174.7 -1.1H190.3V7.1H174.7ZM67.7 6.8H121.5V15H67.7ZM182.3 6.8H190.3V15H182.3ZM121.2 14.6H152.1V22.8H121.2ZM174.7 14.6H198V22.8H174.7ZM75.3 22.4H167.4V30.6H75.3ZM174.7 22.4H198V30.6H174.7ZM75.3 30.3H190.3V38.5H75.3ZM75.3 38.1H175V46.3H75.3ZM75.3 45.9H175V54.1H75.3ZM82.9 53.7H175V61.9H82.9ZM82.9 61.6H182.7V69.7H82.9ZM197.6 61.6H220.9V69.7H197.6ZM82.9 69.4H182.7V77.5H82.9ZM197.6 69.4H220.9V77.5H197.6ZM82.9 77.2H175V85.3H82.9ZM190 77.2H220.9V85.3H190ZM82.9 84.9H175V93.1H82.9ZM182.3 84.9H213.3V93.1H182.3ZM90.6 92.7H220.9V100.9H90.6ZM98.2 100.5H220.9V108.6H98.2ZM98.2 108.3H167.4V116.4H98.2ZM182.3 108.3H220.9V116.4H182.3ZM105.9 116.1H159.7V124.2H105.9ZM190 116.1H213.3V124.2H190ZM105.9 123.8H159.7V132H105.9ZM190 123.8H205.6V132H190ZM113.5 131.6H152.1V139.7H113.5ZM190 131.6H205.6V139.7H190ZM128.8 139.4H144.5V147.5H128.8ZM167 139.4H175V147.5H167ZM190 139.4H205.6V147.5H190ZM144.1 147.1H205.6V155.2H144.1ZM212.9 147.1H228.5V155.2H212.9ZM121.2 154.9H228.5V162.9H121.2ZM121.2 162.6H236.2V170.7H121.2ZM121.2 170.3H236.2V178.4H121.2ZM251.1 170.3H274.4V178.4H251.1ZM128.8 178.1H236.2V186.1H128.8ZM243.5 178.1H266.8V186.1H243.5ZM121.2 185.8H236.2V193.9H121.2ZM243.5 185.8H266.8V193.9H243.5ZM121.2 193.5H236.2V201.6H121.2ZM266.4 193.5H274.4V201.6H266.4ZM128.8 201.2H228.5V209.3H128.8ZM251.1 201.2H282.1V209.3H251.1ZM136.5 208.9H213.3V217H136.5ZM251.1 208.9H289.7V217H251.1ZM144.1 216.6H190.3V224.7H144.1ZM251.1 216.6H297.4V224.7H251.1ZM151.7 224.3H182.7V232.4H151.7ZM258.8 224.3H305V232.4H258.8ZM159.4 232H182.7V240.1H159.4ZM258.8 232H297.4V240.1H258.8ZM266.4 239.7H297.4V247.7H266.4ZM266.4 247.4H289.7V255.4H266.4ZM258.8 255.1H289.7V263.1H258.8ZM82.9 262.7H90.9V270.8H82.9ZM251.1 262.7H282.1V270.8H251.1ZM60 270.4H98.6V278.4H60ZM258.8 270.4H274.4V278.4H258.8ZM52.4 278.1H90.9V286.1H52.4ZM98.2 278.1H106.2V286.1H98.2ZM52.4 285.7H90.9V293.7H52.4ZM105.9 285.7H113.9V293.7H105.9ZM52.4 293.4H90.9V301.4H52.4ZM98.2 293.4H129.2V301.4H98.2ZM52.4 301H90.9V309H52.4ZM98.2 301H136.8V309H98.2ZM235.8 301H251.5V309H235.8ZM98.2 308.7H136.8V316.7H98.2ZM228.2 308.7H251.5V316.7H228.2ZM98.2 316.3H113.9V324.3H98.2ZM128.8 316.3H136.8V324.3H128.8ZM212.9 316.3H251.5V324.3H212.9ZM98.2 323.9H121.5V331.9H98.2ZM197.6 323.9H236.2V331.9H197.6ZM98.2 331.6H121.5V339.5H98.2ZM182.3 331.6H236.2V339.5H182.3ZM98.2 339.2H121.5V347.2H98.2ZM182.3 339.2H220.9V347.2H182.3ZM98.2 346.8H106.2V354.8H98.2ZM182.3 346.8H205.6V354.8H182.3ZM98.2 354.4H106.2V362.4H98.2Z"/><path fill="#00dcff" d="M151.7 -1.1H175V7.1H151.7ZM190 -1.1H228.5V7.1H190ZM281.7 -1.1H305V7.1H281.7ZM121.2 6.8H182.7V15H121.2ZM190 6.8H236.2V15H190ZM289.4 6.8H305V15H289.4ZM75.3 14.6H121.5V22.8H75.3ZM151.7 14.6H175V22.8H151.7ZM197.6 14.6H236.2V22.8H197.6ZM319.9 14.6H327.9V22.8H319.9ZM167 22.4H175V30.6H167ZM197.6 22.4H228.5V30.6H197.6ZM312.3 22.4H335.6V30.6H312.3ZM190 30.3H228.5V38.5H190ZM312.3 30.3H335.6V38.5H312.3ZM174.7 38.1H228.5V46.3H174.7ZM312.3 38.1H335.6V46.3H312.3ZM174.7 45.9H228.5V54.1H174.7ZM304.6 45.9H320.3V54.1H304.6ZM174.7 53.7H228.5V61.9H174.7ZM304.6 53.7H327.9V61.9H304.6ZM182.3 61.6H198V69.7H182.3ZM220.6 61.6H228.5V69.7H220.6ZM266.4 61.6H289.7V69.7H266.4ZM304.6 61.6H327.9V69.7H304.6ZM182.3 69.4H198V77.5H182.3ZM258.8 69.4H289.7V77.5H258.8ZM174.7 77.2H190.3V85.3H174.7ZM251.1 77.2H297.4V85.3H251.1ZM174.7 84.9H182.7V93.1H174.7ZM212.9 84.9H220.9V93.1H212.9ZM258.8 84.9H297.4V93.1H258.8ZM220.6 92.7H228.5V100.9H220.6ZM274.1 92.7H297.4V100.9H274.1ZM90.6 100.5H98.6V108.6H90.6ZM243.5 100.5H259.1V108.6H243.5ZM274.1 100.5H305V108.6H274.1ZM220.6 108.3H266.8V116.4H220.6ZM281.7 108.3H312.6V116.4H281.7ZM98.2 116.1H106.2V124.2H98.2ZM212.9 116.1H266.8V124.2H212.9ZM274.1 116.1H312.6V124.2H274.1ZM98.2 123.8H106.2V132H98.2ZM205.3 123.8H266.8V132H205.3ZM274.1 123.8H320.3V132H274.1ZM342.9 123.8H350.9V132H342.9ZM105.9 131.6H113.9V139.7H105.9ZM205.3 131.6H236.2V139.7H205.3ZM243.5 131.6H266.8V139.7H243.5ZM274.1 131.6H320.3V139.7H274.1ZM342.9 131.6H350.9V139.7H342.9ZM105.9 139.4H129.2V147.5H105.9ZM205.3 139.4H320.3V147.5H205.3ZM342.9 139.4H350.9V147.5H342.9ZM105.9 147.1H136.8V155.2H105.9ZM205.3 147.1H213.3V155.2H205.3ZM228.2 147.1H274.4V155.2H228.2ZM281.7 147.1H312.6V155.2H281.7ZM113.5 154.9H121.5V162.9H113.5ZM228.2 154.9H274.4V162.9H228.2ZM281.7 154.9H312.6V162.9H281.7ZM113.5 162.6H121.5V170.7H113.5ZM235.8 162.6H274.4V170.7H235.8ZM281.7 162.6H312.6V170.7H281.7ZM235.8 170.3H251.5V178.4H235.8ZM281.7 170.3H312.6V178.4H281.7ZM121.2 178.1H129.2V186.1H121.2ZM235.8 178.1H243.8V186.1H235.8ZM266.4 178.1H274.4V186.1H266.4ZM281.7 178.1H312.6V186.1H281.7ZM235.8 185.8H243.8V193.9H235.8ZM266.4 185.8H312.6V193.9H266.4ZM235.8 193.5H266.8V201.6H235.8ZM274.1 193.5H312.6V201.6H274.1ZM121.2 201.2H129.2V209.3H121.2ZM228.2 201.2H251.5V209.3H228.2ZM281.7 201.2H312.6V209.3H281.7ZM121.2 208.9H136.8V217H121.2ZM212.9 208.9H251.5V217H212.9ZM289.4 208.9H305V217H289.4ZM121.2 216.6H144.5V224.7H121.2ZM190 216.6H251.5V224.7H190ZM297 216.6H305V224.7H297ZM121.2 224.3H152.1V232.4H121.2ZM182.3 224.3H259.1V232.4H182.3ZM121.2 232H159.7V240.1H121.2ZM182.3 232H259.1V240.1H182.3ZM297 232H305V240.1H297ZM121.2 239.7H266.8V247.7H121.2ZM297 239.7H305V247.7H297ZM121.2 247.4H266.8V255.4H121.2ZM289.4 247.4H305V255.4H289.4ZM90.6 255.1H98.6V263.1H90.6ZM105.9 255.1H259.1V263.1H105.9ZM289.4 255.1H305V263.1H289.4ZM90.6 262.7H98.6V270.8H90.6ZM105.9 262.7H251.5V270.8H105.9ZM281.7 262.7H305V270.8H281.7ZM105.9 270.4H259.1V278.4H105.9ZM274.1 270.4H312.6V278.4H274.1ZM90.6 278.1H98.6V286.1H90.6ZM105.9 278.1H312.6V286.1H105.9ZM90.6 285.7H106.2V293.7H90.6ZM113.5 285.7H305V293.7H113.5ZM37.1 293.4H52.7V301.4H37.1ZM90.6 293.4H98.6V301.4H90.6ZM128.8 293.4H282.1V301.4H128.8ZM29.4 301H52.7V309H29.4ZM90.6 301H98.6V309H90.6ZM136.5 301H236.2V309H136.5ZM251.1 301H282.1V309H251.1ZM21.8 308.7H98.6V316.7H21.8ZM136.5 308.7H228.5V316.7H136.5ZM251.1 308.7H282.1V316.7H251.1ZM14.1 316.3H98.6V324.3H14.1ZM113.5 316.3H129.2V324.3H113.5ZM136.5 316.3H213.3V324.3H136.5ZM251.1 316.3H274.4V324.3H251.1ZM14.1 323.9H98.6V331.9H14.1ZM121.2 323.9H198V331.9H121.2ZM235.8 323.9H274.4V331.9H235.8ZM14.1 331.6H98.6V339.5H14.1ZM121.2 331.6H182.7V339.5H121.2ZM235.8 331.6H266.8V339.5H235.8ZM6.5 339.2H98.6V347.2H6.5ZM121.2 339.2H182.7V347.2H121.2ZM220.6 339.2H259.1V347.2H220.6ZM6.5 346.8H98.6V354.8H6.5ZM105.9 346.8H182.7V354.8H105.9ZM205.3 346.8H251.5V354.8H205.3ZM6.5 354.4H98.6V362.4H6.5ZM105.9 354.4H243.8V362.4H105.9ZM6.5 362H236.2V370H6.5ZM6.5 369.6H228.5V377.6H6.5ZM6.5 377.2H175V385.2H6.5ZM182.3 377.2H205.6V385.2H182.3ZM6.5 384.8H83.3V392.8H6.5ZM98.2 384.8H144.5V392.8H98.2ZM6.5 392.4H60.4V400.3H6.5ZM98.2 392.4H106.2V400.3H98.2ZM6.5 400H52.7V407.9H6.5ZM90.6 400H113.9V407.9H90.6ZM14.1 407.6H29.8V415.5H14.1ZM90.6 407.6H113.9V415.5H90.6ZM98.2 415.2H113.9V423.1H98.2Z"/><path fill="#00008f" d="M228.2 -1.1H282.1V7.1H228.2ZM304.6 -1.1H350.9V7.1H304.6ZM235.8 6.8H289.7V15H235.8ZM304.6 6.8H350.9V15H304.6ZM235.8 14.6H320.3V22.8H235.8ZM327.6 14.6H350.9V22.8H327.6ZM228.2 22.4H312.6V30.6H228.2ZM335.2 22.4H350.9V30.6H335.2ZM228.2 30.3H312.6V38.5H228.2ZM335.2 30.3H350.9V38.5H335.2ZM228.2 38.1H312.6V46.3H228.2ZM335.2 38.1H350.9V46.3H335.2ZM228.2 45.9H305V54.1H228.2ZM319.9 45.9H350.9V54.1H319.9ZM228.2 53.7H305V61.9H228.2ZM327.6 53.7H350.9V61.9H327.6ZM228.2 61.6H266.8V69.7H228.2ZM289.4 61.6H305V69.7H289.4ZM327.6 61.6H350.9V69.7H327.6ZM220.6 69.4H259.1V77.5H220.6ZM289.4 69.4H350.9V77.5H289.4ZM220.6 77.2H251.5V85.3H220.6ZM297 77.2H350.9V85.3H297ZM220.6 84.9H259.1V93.1H220.6ZM297 84.9H350.9V93.1H297ZM228.2 92.7H274.4V100.9H228.2ZM297 92.7H350.9V100.9H297ZM220.6 100.5H243.8V108.6H220.6ZM258.8 100.5H274.4V108.6H258.8ZM304.6 100.5H350.9V108.6H304.6ZM266.4 108.3H282.1V116.4H266.4ZM312.3 108.3H350.9V116.4H312.3ZM266.4 116.1H274.4V124.2H266.4ZM312.3 116.1H350.9V124.2H312.3ZM266.4 123.8H274.4V132H266.4ZM319.9 123.8H343.2V132H319.9ZM235.8 131.6H243.8V139.7H235.8ZM266.4 131.6H274.4V139.7H266.4ZM319.9 131.6H343.2V139.7H319.9ZM319.9 139.4H343.2V147.5H319.9ZM274.1 147.1H282.1V155.2H274.1ZM312.3 147.1H350.9V155.2H312.3ZM274.1 154.9H282.1V162.9H274.1ZM312.3 154.9H350.9V162.9H312.3ZM274.1 162.6H282.1V170.7H274.1ZM312.3 162.6H350.9V170.7H312.3ZM274.1 170.3H282.1V178.4H274.1ZM312.3 170.3H350.9V178.4H312.3ZM274.1 178.1H282.1V186.1H274.1ZM312.3 178.1H350.9V186.1H312.3ZM312.3 185.8H350.9V193.9H312.3ZM312.3 193.5H350.9V201.6H312.3ZM312.3 201.2H350.9V209.3H312.3ZM304.6 208.9H350.9V217H304.6ZM304.6 216.6H350.9V224.7H304.6ZM304.6 224.3H350.9V232.4H304.6ZM304.6 232H350.9V240.1H304.6ZM304.6 239.7H350.9V247.7H304.6ZM304.6 247.4H350.9V255.4H304.6ZM98.2 255.1H106.2V263.1H98.2ZM304.6 255.1H350.9V263.1H304.6ZM98.2 262.7H106.2V270.8H98.2ZM304.6 262.7H350.9V270.8H304.6ZM98.2 270.4H106.2V278.4H98.2ZM312.3 270.4H350.9V278.4H312.3ZM312.3 278.1H350.9V286.1H312.3ZM304.6 285.7H350.9V293.7H304.6ZM281.7 293.4H350.9V301.4H281.7ZM281.7 301H350.9V309H281.7ZM281.7 308.7H350.9V316.7H281.7ZM274.1 316.3H350.9V324.3H274.1ZM274.1 323.9H350.9V331.9H274.1ZM266.4 331.6H350.9V339.5H266.4ZM258.8 339.2H350.9V347.2H258.8ZM251.1 346.8H350.9V354.8H251.1ZM243.5 354.4H350.9V362.4H243.5ZM235.8 362H350.9V370H235.8ZM228.2 369.6H350.9V377.6H228.2ZM174.7 377.2H182.7V385.2H174.7ZM205.3 377.2H350.9V385.2H205.3ZM82.9 384.8H98.6V392.8H82.9ZM144.1 384.8H350.9V392.8H144.1ZM60 392.4H98.6V400.3H60ZM105.9 392.4H350.9V400.3H105.9ZM52.4 400H90.9V407.9H52.4ZM113.5 400H350.9V407.9H113.5ZM6.5 407.6H14.5V415.5H6.5ZM29.4 407.6H90.9V415.5H29.4ZM113.5 407.6H350.9V415.5H113.5ZM6.5 415.2H98.6V423.1H6.5ZM113.5 415.2H350.9V423.1H113.5ZM6.5 422.7H350.9V430.6H6.5Z"/><path fill="#800000" d="M167 108.3H182.7V116.4H167ZM159.4 116.1H190.3V124.2H159.4ZM159.4 123.8H190.3V132H159.4ZM151.7 131.6H190.3V139.7H151.7ZM144.1 139.4H167.4V147.5H144.1ZM174.7 139.4H190.3V147.5H174.7ZM136.5 147.1H144.5V155.2H136.5Z"/><use href="#land"/><path d="M113.5 14.6L121.2 6.8M121.2 6.8L128.8 6.8M128.8 6.8L136.5 6.8M136.5 6.8L144.1 6.8M144.1 6.8L144.1 6.8M174.7 6.8L174.7 6.8M174.7 6.8L182.3 14.6M182.3 6.8L182.3 14.6M75.3 14.6L82.9 14.6M82.9 14.6L90.6 14.6M90.6 14.6L98.2 14.6M98.2 14.6L105.9 14.6M105.9 14.6L113.5 14.6M113.5 14.6L121.2 22.4M113.5 14.6L121.2 22.4M121.2 22.4L128.8 22.4M128.8 22.4L136.5 22.4M136.5 22.4L144.1 22.4M144.1 22.4L144.1 22.4M174.7 22.4L174.7 22.4M174.7 22.4L182.3 14.6M182.3 14.6L190 22.4M190 22.4L190 22.4M75.3 30.3L82.9 30.3M82.9 30.3L90.6 30.3M90.6 30.3L98.2 30.3M98.2 30.3L105.9 30.3M105.9 30.3L113.5 30.3M113.5 30.3L121.2 22.4M144.1 22.4L151.7 30.3M151.7 30.3L159.4 30.3M159.4 30.3L159.4 30.3M174.7 22.4L174.7 30.3M190 22.4L190 30.3M159.4 30.3L167 38.1M167 38.1L174.7 30.3M182.3 38.1L190 30.3M190 30.3L190 30.3M167 45.9L174.7 38.1M174.7 38.1L182.3 38.1M182.3 38.1L182.3 38.1M167 45.9L167 53.7M167 53.7L167 61.6M167 61.6L174.7 69.3M174.7 69.3L174.7 69.4M197.6 69.4L197.6 69.3M197.6 69.3L205.3 69.3M205.3 69.3L212.9 69.3M212.9 69.3L212.9 69.4M174.7 69.4L174.7 77.2M197.6 69.4L197.6 77.2M212.9 69.4L212.9 77.2M167 84.9L174.7 77.2M174.7 77.2L174.7 77.2M190 84.9L190 84.9M190 84.9L197.6 77.2M212.9 77.2L212.9 84.9M167 84.9L167 92.7M182.3 92.7L182.3 92.7M182.3 92.7L190 84.9M205.3 92.7L212.9 85M212.9 85L212.9 84.9M167 92.7L174.7 100.5M174.7 100.5L182.3 92.7M205.3 92.7L212.9 100.5M212.9 100.5L212.9 100.5M90.6 100.5L98.2 108.3M212.9 100.5L212.9 108.3M212.9 108.3L212.9 116.1M98.2 116.1L105.9 123.8M205.3 123.8L212.9 116.1M212.9 116.1L212.9 116.1M105.9 123.8L105.9 131.6M197.6 131.6L205.3 123.8M205.3 123.8L205.3 123.8M105.9 131.6L113.5 139.4M197.6 131.6L197.6 139.4M113.5 139.4L113.5 139.4M113.5 139.4L121.2 139.4M121.2 139.4L128.8 147.1M197.6 139.4L197.6 147.1M128.8 147.1L128.8 147.1M128.8 147.1L132.6 154.9M197.6 147.1L197.6 154.9M212.9 154.9L212.9 154.8M212.9 154.8L220.6 154.8M220.6 154.8L220.6 154.9M121.2 162.6L121.2 162.6M121.2 162.6L128.8 162.6M128.8 162.6L132.6 154.9M197.6 154.9L205.3 162.6M205.3 162.6L212.9 154.9M220.6 154.9L220.6 162.6M121.2 162.6L121.2 170.3M220.6 162.6L228.2 170.3M228.2 170.3L228.2 170.3M228.2 170.3L228.2 178.1M251.1 178.1L251.1 178.1M251.1 178.1L258.8 178.1M258.8 178.1L266.4 178.1M266.4 178.1L266.4 178.1M121.2 178.1L128.8 185.8M228.2 178.1L228.2 185.8M243.5 185.8L243.5 185.8M243.5 185.8L251.1 178.1M258.8 185.8L266.4 178.1M266.4 178.1L266.4 178.1M121.2 193.5L128.8 185.8M228.2 185.8L228.2 193.5M243.5 185.8L243.5 193.5M258.8 185.8L258.8 193.5M228.2 193.5L228.2 201.2M243.5 193.5L243.5 193.5M243.5 193.5L251.1 193.5M251.1 193.5L258.8 193.5M258.8 193.5L266.4 201.2M258.8 193.5L266.4 201.2M266.4 201.2L266.4 201.2M121.2 201.2L128.8 208.9M220.6 208.9L228.2 201.2M228.2 201.2L228.2 201.2M251.1 208.9L251.1 208.9M251.1 208.9L258.8 208.9M258.8 208.9L266.4 201.2M266.4 201.2L274.1 208.9M274.1 208.9L274.1 208.9M128.8 208.9L128.8 208.9M128.8 208.9L136.5 216.6M205.3 216.6L212.9 208.9M212.9 208.9L220.6 208.9M220.6 208.9L220.6 208.9M251.1 208.9L251.1 216.6M274.1 208.9L281.7 216.6M281.7 216.6L281.7 216.6M136.5 216.6L136.5 216.6M136.5 216.6L144.1 224.3M182.3 224.3L190 216.6M190 216.6L197.6 216.6M197.6 216.6L205.3 216.6M205.3 216.6L205.3 216.6M251.1 216.6L251.1 224.3M281.7 216.6L289.4 224.3M289.4 224.3L289.4 224.3M144.1 224.3L144.1 224.3M144.1 224.3L151.7 232M174.7 232L182.3 224.3M182.3 224.3L182.3 224.3M251.1 224.3L251.1 224.3M251.1 224.3L258.8 232M289.4 224.3L297 232M297 232L297 232M151.7 232L151.7 232M151.7 232L159.4 239.7M174.7 232L174.7 239.7M258.8 232L258.8 239.7M289.4 239.7L297 232M297 232L297 232M159.4 239.7L159.4 239.7M159.4 239.7L167 239.7M167 239.7L174.7 239.7M174.7 239.7L174.7 239.7M258.8 239.7L258.8 239.7M258.8 239.7L266.4 247.4M289.4 239.7L289.4 247.4M266.4 247.4L266.4 255.1M281.7 255.1L289.4 247.4M289.4 247.4L289.4 247.4M258.8 262.7L258.8 262.7M258.8 262.7L266.4 255.1M281.7 255.1L281.7 262.7M251.1 270.4L251.1 270.4M251.1 270.4L258.8 262.7M274.1 270.4L281.7 262.8M281.7 262.8L281.7 262.7M83 270.4L90.6 278.1M90.6 278.1L90.6 278.1M251.1 270.4L251.1 270.4M251.1 270.4L258.8 278.1M266.4 278.1L274.1 270.4M274.1 270.4L274.1 270.4M83 285.7L90.6 278.1M90.6 278.1L98.2 285.7M90.6 278.1L98.2 285.7M98.2 285.7L98.2 285.7M258.8 278.1L258.8 278.1M258.8 278.1L266.4 278.1M266.4 278.1L266.4 278.1M83 285.7L83 293.4M98.2 285.7L98.2 285.7M98.2 285.7L105.9 293.4M98.2 285.7L105.9 293.4M105.9 293.4L105.9 293.4M83 293.4L83 301M98.2 301L98.2 301M98.2 301L105.9 293.4M105.9 293.4L113.5 301M113.5 301L121.2 301M121.2 301L121.2 301M52.4 301L52.4 308.7M83 301L83 308.7M98.2 301L98.2 308.7M121.2 301L128.8 308.7M128.8 308.7L128.8 308.7M235.8 308.7L235.8 308.7M235.8 308.7L243.5 308.7M243.5 308.7L243.5 308.7M52.4 308.7L52.4 308.7M52.4 308.7L60 308.7M60 308.7L67.7 308.7M67.7 308.7L75.3 308.7M75.3 308.7L82.9 308.7M82.9 308.7L83 308.7M98.2 308.7L98.2 316.3M128.8 308.7L128.8 316.3M228.2 316.3L228.2 316.3M228.2 316.3L235.8 308.7M243.5 308.7L243.5 316.3M98.2 316.3L98.2 323.9M105.9 323.9L113.5 316.3M113.5 316.3L121.2 316.3M121.2 316.3L128.8 323.9M128.8 316.3L128.8 323.9M212.9 323.9L212.9 323.9M212.9 323.9L220.6 323.9M220.6 323.9L228.2 316.3M243.5 316.3L243.5 323.9M98.2 323.9L98.2 331.6M105.9 323.9L113.5 331.6M113.5 331.6L113.5 331.6M128.8 323.9L128.8 324M128.8 324L128.8 323.9M197.6 331.6L197.6 331.6M197.6 331.6L205.3 331.6M205.3 331.6L212.9 323.9M228.2 331.6L235.8 324M235.8 324L243.5 324M243.5 324L243.5 323.9M98.2 331.6L98.2 339.2M113.5 331.6L113.5 339.2M182.3 339.2L182.3 339.2M182.3 339.2L190 339.2M190 339.2L197.6 331.6M228.2 331.6L228.2 339.2M98.2 339.2L98.2 346.8M113.5 339.2L113.5 346.8M182.3 339.2L182.3 346.8M212.9 346.8L220.6 339.2M220.6 339.2L228.2 339.2M228.2 339.2L228.2 339.2M98.2 346.8L98.2 354.4M98.2 354.4L105.9 346.8M105.9 346.8L113.5 346.8M113.5 346.8L113.5 346.8M182.3 346.8L182.3 354.4M197.6 354.4L205.3 346.8M205.3 346.8L212.9 346.8M212.9 346.8L212.9 346.8M98.2 354.4L98.2 362M98.2 354.4L98.2 362M182.3 354.4L182.3 354.4M182.3 354.4L190 354.4M190 354.4L197.6 354.4M197.6 354.4L197.6 354.4M98.2 362L98.2 362M98.2 362L98.2 362" stroke="#000" stroke-width="1" fill="none"/><text x="0" y="4.5" font-size="13" text-anchor="middle" transform="translate(136.7,7.3) rotate(0)">2</text><text x="0" y="4.5" font-size="13" text-anchor="middle" transform="translate(176,7.3) rotate(-60)">2</text><text x="0" y="4.5" font-size="13" text-anchor="middle" transform="translate(192.8,81.3) rotate(-45)">2</text><text x="0" y="4.5" font-size="13" text-anchor="middle" transform="translate(246.6,184.4) rotate(10)">2</text><text x="0" y="4.5" font-size="13" text-anchor="middle" transform="translate(127.8,180) rotate(90)">2</text><text x="0" y="4.5" font-size="13" text-anchor="middle" transform="translate(87.4,281.7) rotate(-80)">2</text><text x="0" y="4.5" font-size="13" text-anchor="middle" transform="translate(125.5,306.4) rotate(-60)">2</text><text x="0" y="4.5" font-size="13" text-anchor="middle" transform="translate(190.6,337.8) rotate(-40)">2</text><text x="0" y="4.5" font-size="13" text-anchor="middle" transform="translate(284.7,221.2) rotate(-50)">2</text><text x="0" y="4.5" font-size="13" text-anchor="middle" transform="translate(195,220) rotate(0)">2</text><use href="#sites"/></g><rect x="3.4" y="20" width="112.5" height="25" fill="url(#jetg)" stroke="#222" stroke-width="1.2"/><text x="285.5" y="37.5" font-size="20" >10 km</text><path d="M307 43.7h14" stroke="#000" stroke-width="4" stroke-linecap="round"/><text x="4.2" y="7.2" font-size="17" text-anchor="middle" fill="#262626">0</text><text x="41.9" y="7.2" font-size="17" text-anchor="middle" fill="#262626">1</text><text x="79.4" y="7.2" font-size="17" text-anchor="middle" fill="#262626">2</text><text x="116.9" y="7.2" font-size="17" text-anchor="middle" fill="#262626">3</text></g><text x="1220.3" y="149.8" font-size="21" text-anchor="end">37°N</text><text x="1220.3" y="219.9" font-size="14.5" text-anchor="end">30'</text><text x="1220.3" y="294.1" font-size="21" text-anchor="end">36°N</text><text x="1220.3" y="363.2" font-size="14.5" text-anchor="end">30'</text><text x="1220.3" y="436.6" font-size="21" text-anchor="end">35°N</text><text x="1220.3" y="504.8" font-size="14.5" text-anchor="end">30'</text><text x="1220.3" y="577.3" font-size="21" text-anchor="end">34°N</text><text x="1226.8" y="586.8" font-size="14.5" text-anchor="middle">30'</text><text x="1287.8" y="590.8" font-size="21" text-anchor="middle">76°W</text><text x="1342.8" y="586.8" font-size="14.5" text-anchor="middle">30'</text><text x="1403.8" y="590.8" font-size="21" text-anchor="middle">75°W</text><text x="1458.8" y="586.8" font-size="14.5" text-anchor="middle">30'</text><text x="1519.8" y="590.8" font-size="21" text-anchor="middle">74°W</text><text x="1574.8" y="586.8" font-size="14.5" text-anchor="middle">30'</text><g transform="translate(74.7,742.3)"><g stroke="#c4c4c4" stroke-width="1" stroke-dasharray="1.8 6.5"><line x1="58" y1="0" x2="58" y2="427.5"/><line x1="116" y1="0" x2="116" y2="427.5"/><line x1="174" y1="0" x2="174" y2="427.5"/><line x1="232" y1="0" x2="232" y2="427.5"/><line x1="290" y1="0" x2="290" y2="427.5"/><line x1="0" y1="72.4" x2="348" y2="72.4"/><line x1="0" y1="144.3" x2="348" y2="144.3"/><line x1="0" y1="215.7" x2="348" y2="215.7"/><line x1="0" y1="286.8" x2="348" y2="286.8"/><line x1="0" y1="357.3" x2="348" y2="357.3"/></g><rect x="0" y="0" width="348" height="427.5" fill="none" stroke="#222" stroke-width="1.3"/><path d="M58 427.5v-3.6M58 0v3.6M0 72.4h3.6M348 72.4h-3.6M116 427.5v-3.6M116 0v3.6M0 144.3h3.6M348 144.3h-3.6M174 427.5v-3.6M174 0v3.6M0 215.7h3.6M348 215.7h-3.6M232 427.5v-3.6M232 0v3.6M0 286.8h3.6M348 286.8h-3.6M290 427.5v-3.6M290 0v3.6M0 357.3h3.6M348 357.3h-3.6" stroke="#333" stroke-width="1.3" fill="none"/><g clip-path="url(#clip)"><g clip-path="url(#ocean)"><path stroke="#0000ff" stroke-width="3.1" stroke-linecap="round" d="M66.2 37.5h0M65.5 30.1h0M64.9 22.7h0M64.2 15.3h0M63.6 7.9h0M62.9 0.5h0M62.3 -6.9h0M61.6 -14.3h0M61 -21.7h0M60.3 -29.1h0M59.7 -36.5h0M59 -43.9h0M58.4 -51.3h0M57.7 -58.7h0M57.1 -66.1h0M56.4 -73.5h0M66.8 37.5h0M66.8 30h0M66.8 22.6h0M66.8 15.2h0M66.8 7.8h0M66.8 0.3h0M66.8 -7.1h0M66.8 -14.5h0M66.8 -22h0M66.8 -29.4h0M66.8 -36.8h0M66.8 -44.3h0M66.8 -51.7h0M66.8 -59.1h0M66.8 -66.5h0M66.8 -74h0M67.4 37.5h0M68.1 30.1h0M68.7 22.7h0M69.4 15.3h0M70 7.9h0M70.7 0.5h0M71.3 -6.9h0M72 -14.3h0M72.6 -21.7h0M73.3 -29.1h0M73.9 -36.5h0M74.6 -43.9h0M75.2 -51.3h0M75.9 -58.7h0M76.5 -66.1h0M77.8 -80.9h0M68.1 37.6h0M69.4 30.3h0M70.7 22.9h0M72 15.6h0M73.3 8.3h0M74.5 1h0M75.8 -6.3h0M77.1 -13.6h0M78.4 -21h0M79.7 -28.3h0M81 -35.6h0M82.3 -42.9h0M83.6 -50.2h0M84.9 -57.5h0M86.2 -64.9h0M87.4 -72.2h0M88.7 -79.5h0M68.7 37.7h0M70.6 30.5h0M72.6 23.4h0M74.5 16.2h0M76.4 9h0M78.3 1.8h0M80.3 -5.3h0M82.2 -12.5h0M84.1 -19.7h0M86 -26.9h0M88 -34h0M89.9 -41.2h0M91.8 -48.4h0M93.7 -55.6h0M95.6 -62.8h0M97.6 -69.9h0M101.4 -84.3h0M69.3 37.9h0M71.9 30.9h0M74.4 24h0M77 17h0M79.5 10h0M82 3h0M84.6 -4h0M87.1 -11h0M89.7 -17.9h0M92.2 -24.9h0M94.8 -31.9h0M97.3 -38.9h0M99.8 -45.9h0M102.4 -52.8h0M104.9 -59.8h0M107.5 -66.8h0M112.5 -80.8h0M115.1 -87.8h0M69.9 38.2h0M73.1 31.4h0M76.2 24.7h0M79.4 18h0M82.5 11.2h0M85.6 4.5h0M88.8 -2.2h0M91.9 -9h0M95.1 -15.7h0M98.2 -22.4h0M101.3 -29.2h0M104.5 -35.9h0M107.6 -42.6h0M110.8 -49.4h0M113.9 -56.1h0M117 -62.8h0M70.5 38.5h0M74.2 32h0M77.9 25.6h0M81.7 19.2h0M85.4 12.7h0M89.1 6.3h0M92.8 -0.1h0M96.5 -6.6h0M100.2 -13h0M104 -19.4h0M107.7 -25.9h0M111.4 -32.3h0M115.1 -38.7h0M118.8 -45.2h0M122.5 -51.6h0M126.2 -58.1h0M130 -64.5h0M133.7 -70.9h0M137.4 -77.4h0M71.1 38.8h0M75.3 32.7h0M79.6 26.6h0M83.8 20.6h0M88.1 14.5h0M92.4 8.4h0M96.6 2.3h0M100.9 -3.8h0M105.2 -9.9h0M109.4 -16h0M113.7 -22h0M117.9 -28.1h0M122.2 -34.2h0M126.5 -40.3h0M130.7 -46.4h0M135 -52.5h0M139.2 -58.6h0M143.5 -64.7h0M152 -76.8h0M71.6 39.2h0M76.4 33.5h0M81.1 27.8h0M85.9 22.1h0M90.7 16.4h0M95.5 10.7h0M100.2 5.1h0M105 -0.6h0M109.8 -6.3h0M114.6 -12h0M119.3 -17.7h0M124.1 -23.4h0M128.9 -29.1h0M133.7 -34.8h0M138.4 -40.5h0M143.2 -46.2h0M148 -51.9h0M162.3 -68.9h0M72.1 39.6h0M77.3 34.4h0M82.6 29.1h0M87.8 23.9h0M93.1 18.6h0M98.3 13.4h0M103.6 8.1h0M108.8 2.9h0M114.1 -2.4h0M119.3 -7.6h0M124.6 -12.9h0M129.8 -18.1h0M135.1 -23.4h0M140.4 -28.7h0M145.6 -33.9h0M150.9 -39.2h0M156.1 -44.4h0M171.9 -60.2h0M72.5 40.1h0M78.2 35.3h0M83.9 30.6h0M89.6 25.8h0M95.3 21h0M101 16.2h0M106.6 11.5h0M112.3 6.7h0M118 1.9h0M123.7 -2.9h0M129.4 -7.6h0M135.1 -12.4h0M140.8 -17.2h0M146.5 -22h0M152.2 -26.7h0M157.9 -31.5h0M163.6 -36.3h0M169.3 -41.1h0M180.6 -50.6h0M72.9 40.6h0M79 36.4h0M85.1 32.1h0M91.1 27.9h0M97.2 23.6h0M103.3 19.3h0M109.4 15.1h0M115.5 10.8h0M121.6 6.5h0M127.7 2.3h0M133.7 -2h0M139.8 -6.2h0M145.9 -10.5h0M152 -14.8h0M158.1 -19h0M164.2 -23.3h0M170.3 -27.5h0M176.4 -31.8h0M182.4 -36.1h0M73.2 41.2h0M79.7 37.5h0M86.1 33.8h0M92.5 30h0M99 26.3h0M105.4 22.6h0M111.8 18.9h0M118.3 15.2h0M124.7 11.5h0M131.1 7.8h0M137.6 4h0M144 0.3h0M150.4 -3.4h0M156.9 -7.1h0M163.3 -10.8h0M169.8 -14.5h0M176.2 -18.3h0M182.6 -22h0M189.1 -25.7h0M195.5 -29.4h0M73.5 41.8h0M80.3 38.6h0M87 35.5h0M93.7 32.3h0M100.5 29.2h0M107.2 26.1h0M113.9 22.9h0M120.7 19.8h0M127.4 16.6h0M134.1 13.5h0M140.9 10.4h0M147.6 7.2h0M154.3 4.1h0M161.1 0.9h0M167.8 -2.2h0M174.5 -5.3h0M181.3 -8.5h0M188 -11.6h0M201.5 -17.9h0M73.8 42.4h0M80.8 39.8h0M87.7 37.3h0M94.7 34.7h0M101.7 32.2h0M108.7 29.7h0M115.7 27.1h0M122.7 24.6h0M129.6 22h0M136.6 19.5h0M143.6 16.9h0M150.6 14.4h0M157.6 11.9h0M164.5 9.3h0M171.5 6.8h0M178.5 4.2h0M185.5 1.7h0M74 43h0M81.2 41.1h0M88.3 39.1h0M95.5 37.2h0M102.7 35.3h0M109.9 33.4h0M117 31.4h0M124.2 29.5h0M131.4 27.6h0M138.6 25.7h0M145.7 23.7h0M152.9 21.8h0M160.1 19.9h0M167.3 18h0M174.5 16.1h0M181.6 14.1h0M188.8 12.2h0M203.2 8.4h0M74.1 43.6h0M81.4 42.3h0M88.8 41h0M96.1 39.7h0M103.4 38.4h0M110.7 37.2h0M118 35.9h0M125.3 34.6h0M132.7 33.3h0M140 32h0M147.3 30.7h0M154.6 29.4h0M161.9 28.1h0M169.2 26.8h0M176.6 25.5h0M183.9 24.3h0M191.2 23h0M198.5 21.7h0M74.2 44.3h0M81.6 43.6h0M89 43h0M96.4 42.3h0M103.8 41.7h0M111.2 41h0M118.6 40.4h0M126 39.7h0M133.4 39.1h0M140.8 38.4h0M148.2 37.8h0M155.6 37.1h0M163 36.5h0M170.4 35.8h0M177.8 35.2h0M185.2 34.5h0M192.6 33.9h0M200 33.2h0M207.4 32.6h0M74.2 44.9h0M81.7 44.9h0M89.1 44.9h0M96.5 44.9h0M103.9 44.9h0M111.4 44.9h0M118.8 44.9h0M126.2 44.9h0M133.7 44.9h0M141.1 44.9h0M148.5 44.9h0M156 44.9h0M163.4 44.9h0M170.8 44.9h0M178.2 44.9h0M185.7 44.9h0M193.1 44.9h0M200.5 44.9h0M208 44.9h0M74.2 45.5h0M81.6 46.2h0M89 46.8h0M96.4 47.5h0M103.8 48.1h0M111.2 48.8h0M118.6 49.4h0M126 50.1h0M133.4 50.7h0M140.8 51.4h0M148.2 52h0M155.6 52.7h0M163 53.3h0M170.4 54h0M177.8 54.6h0M185.2 55.3h0M192.6 55.9h0M200 56.6h0M214.8 57.9h0M74.1 46.2h0M81.4 47.5h0M88.8 48.8h0M96.1 50.1h0M103.4 51.4h0M110.7 52.6h0M118 53.9h0M125.3 55.2h0M132.7 56.5h0M140 57.8h0M147.3 59.1h0M154.6 60.4h0M161.9 61.7h0M169.2 63h0M176.6 64.3h0M183.9 65.5h0M191.2 66.8h0M198.5 68.1h0M213.1 70.7h0M74 46.8h0M81.2 48.7h0M88.3 50.7h0M95.5 52.6h0M102.7 54.5h0M109.9 56.4h0M117 58.4h0M124.2 60.3h0M131.4 62.2h0M138.6 64.1h0M145.7 66.1h0M152.9 68h0M160.1 69.9h0M167.3 71.8h0M174.5 73.7h0M181.6 75.7h0M188.8 77.6h0M196 79.5h0M203.2 81.4h0M73.8 47.4h0M80.8 50h0M87.7 52.5h0M94.7 55.1h0M101.7 57.6h0M108.7 60.1h0M115.7 62.7h0M122.7 65.2h0M129.6 67.8h0M136.6 70.3h0M143.6 72.9h0M150.6 75.4h0M157.6 77.9h0M164.5 80.5h0M171.5 83h0M178.5 85.6h0M185.5 88.1h0M206.4 95.7h0M73.5 48h0M80.3 51.2h0M87 54.3h0M93.7 57.5h0M100.5 60.6h0M107.2 63.7h0M113.9 66.9h0M120.7 70h0M127.4 73.2h0M134.1 76.3h0M140.9 79.4h0M147.6 82.6h0M154.3 85.7h0M161.1 88.9h0M167.8 92h0M174.5 95.1h0M181.3 98.3h0M194.7 104.6h0M201.5 107.7h0M73.2 48.6h0M79.7 52.3h0M86.1 56h0M92.5 59.8h0M99 63.5h0M105.4 67.2h0M111.8 70.9h0M118.3 74.6h0M124.7 78.3h0M131.1 82h0M137.6 85.8h0M144 89.5h0M150.4 93.2h0M156.9 96.9h0M163.3 100.6h0M169.8 104.3h0M176.2 108.1h0M182.6 111.8h0M195.5 119.2h0M72.9 49.2h0M79 53.4h0M85.1 57.7h0M91.1 61.9h0M97.2 66.2h0M103.3 70.5h0M109.4 74.7h0M115.5 79h0M121.6 83.3h0M127.7 87.5h0M133.7 91.8h0M139.8 96h0M145.9 100.3h0M152 104.6h0M158.1 108.8h0M164.2 113.1h0M170.3 117.3h0M176.4 121.6h0M72.5 49.7h0M78.2 54.5h0M83.9 59.2h0M89.6 64h0M95.3 68.8h0M101 73.6h0M106.6 78.3h0M112.3 83.1h0M118 87.9h0M123.7 92.7h0M129.4 97.4h0M135.1 102.2h0M140.8 107h0M146.5 111.8h0M152.2 116.5h0M157.9 121.3h0M163.6 126.1h0M169.3 130.9h0M174.9 135.6h0M72.1 50.2h0M77.3 55.4h0M82.6 60.7h0M87.8 65.9h0M93.1 71.2h0M98.3 76.4h0M103.6 81.7h0M108.8 86.9h0M114.1 92.2h0M119.3 97.4h0M124.6 102.7h0M129.8 107.9h0M135.1 113.2h0M140.4 118.5h0M145.6 123.7h0M156.1 134.2h0M71.6 50.6h0M76.4 56.3h0M81.1 62h0M85.9 67.7h0M90.7 73.4h0M95.5 79.1h0M100.2 84.7h0M105 90.4h0M109.8 96.1h0M114.6 101.8h0M119.3 107.5h0M124.1 113.2h0M128.9 118.9h0M133.7 124.6h0M143.2 136h0M148 141.7h0M71.1 51h0M75.3 57.1h0M79.6 63.2h0M83.8 69.2h0M88.1 75.3h0M92.4 81.4h0M96.6 87.5h0M100.9 93.6h0M105.2 99.7h0M109.4 105.8h0M113.7 111.8h0M117.9 117.9h0M122.2 124h0M130.7 136.2h0M135 142.3h0M70.5 51.3h0M74.2 57.8h0M77.9 64.2h0M81.7 70.6h0M85.4 77.1h0M89.1 83.5h0M92.8 89.9h0M96.5 96.4h0M100.2 102.8h0M104 109.2h0M107.7 115.7h0M111.4 122.1h0M115.1 128.5h0M66.2 37.5h0M66.5 37.5h0M66.8 37.5h0M67.1 37.5h0M67.4 37.5h0M67.8 37.5h0M68.1 37.6h0M68.4 37.6h0M68.7 37.7h0M69 37.8h0M69.3 37.9h0M69.6 38h0M69.9 38.2h0M70.2 38.3h0M70.5 38.5h0M70.8 38.6h0M71.1 38.8h0M71.3 39h0M71.6 39.2h0M71.8 39.4h0M72.1 39.6h0M72.3 39.9h0M72.5 40.1h0M72.7 40.4h0M72.9 40.6h0M73.1 40.9h0M73.2 41.2h0M73.4 41.5h0M73.5 41.8h0M73.7 42.1h0M73.8 42.4h0M73.9 42.7h0M74 43h0M74.1 43.3h0M74.1 43.6h0M74.2 43.9h0M74.2 44.3h0M74.2 44.6h0M74.2 44.9h0M74.2 45.2h0M74.2 45.5h0M74.2 45.9h0M74.1 46.2h0M74.1 46.5h0M74 46.8h0M73.9 47.1h0M73.8 47.4h0M73.7 47.7h0M73.5 48h0M73.4 48.3h0M73.2 48.6h0M73.1 48.9h0M72.9 49.2h0M72.7 49.4h0M72.5 49.7h0M72.3 49.9h0M72.1 50.2h0M71.8 50.4h0M71.6 50.6h0M71.3 50.8h0M71.1 51h0M70.8 51.2h0M70.5 51.3h0M65.5 30.1h0M66.2 30.1h0M66.8 30h0M67.4 30.1h0M68.1 30.1h0M68.7 30.2h0M69.4 30.3h0M70 30.4h0M70.6 30.5h0M71.3 30.7h0M71.9 30.9h0M72.5 31.2h0M73.1 31.4h0M73.7 31.7h0M74.2 32h0M74.8 32.4h0M75.3 32.7h0M75.8 33.1h0M76.4 33.5h0M76.8 33.9h0M77.3 34.4h0M77.8 34.9h0M78.2 35.3h0M78.6 35.9h0M79 36.4h0M79.3 36.9h0M79.7 37.5h0M80 38h0M80.3 38.6h0M80.5 39.2h0M80.8 39.8h0M81 40.4h0M81.2 41.1h0M81.3 41.7h0M81.4 42.3h0M81.5 43h0M81.6 43.6h0M81.6 44.3h0M81.7 44.9h0M81.6 45.5h0M81.6 46.2h0M81.5 46.8h0M81.4 47.5h0M81.3 48.1h0M81.2 48.7h0M81 49.4h0M80.8 50h0M80.5 50.6h0M80.3 51.2h0M80 51.8h0M79.7 52.3h0M79.3 52.9h0M79 53.4h0M78.6 53.9h0M78.2 54.5h0M77.8 54.9h0M77.3 55.4h0M76.8 55.9h0M76.4 56.3h0M75.8 56.7h0M75.3 57.1h0M74.8 57.4h0M74.2 57.8h0M64.9 22.7h0M65.8 22.6h0M66.8 22.6h0M67.8 22.6h0M68.7 22.7h0M69.7 22.8h0M70.7 22.9h0M71.6 23.1h0M72.6 23.4h0M73.5 23.6h0M74.4 24h0M75.3 24.3h0M76.2 24.7h0M77.1 25.1h0M77.9 25.6h0M78.8 26.1h0M79.6 26.6h0M80.4 27.2h0M81.1 27.8h0M81.9 28.5h0M82.6 29.1h0M83.2 29.8h0M83.9 30.6h0M84.5 31.3h0M85.1 32.1h0M85.6 32.9h0M86.1 33.8h0M86.6 34.6h0M87 35.5h0M87.4 36.4h0M87.7 37.3h0M88.1 38.2h0M88.3 39.1h0M88.6 40.1h0M88.8 41h0M88.9 42h0M89 43h0M89.1 43.9h0M89.1 44.9h0M89.1 45.9h0M89 46.8h0M88.9 47.8h0M88.8 48.8h0M88.6 49.7h0M88.3 50.7h0M88.1 51.6h0M87.7 52.5h0M87.4 53.4h0M87 54.3h0M86.6 55.2h0M86.1 56h0M85.6 56.9h0M85.1 57.7h0M84.5 58.5h0M83.9 59.2h0M83.2 60h0M82.6 60.7h0M81.9 61.3h0M81.1 62h0M80.4 62.6h0M79.6 63.2h0M78.8 63.7h0M77.9 64.2h0"/><path stroke="#ff0000" stroke-width="3.1" stroke-linecap="round" d="M102.1 149h0M100.2 141.8h0M98.2 134.7h0M96.3 127.5h0M94.4 120.3h0M92.5 113.1h0M90.5 106h0M88.6 98.8h0M86.7 91.6h0M84.8 84.4h0M82.8 77.3h0M102.7 148.9h0M101.4 141.6h0M100.1 134.2h0M98.8 126.9h0M97.5 119.6h0M96.3 112.3h0M95 105h0M93.7 97.7h0M92.4 90.3h0M91.1 83h0M89.8 75.7h0M87.2 61.1h0M103.4 148.8h0M102.7 141.4h0M102.1 134h0M101.4 126.6h0M100.8 119.2h0M100.1 111.8h0M99.5 104.4h0M98.8 97h0M98.2 89.6h0M97.5 82.2h0M96.9 74.8h0M96.2 67.4h0M104 148.8h0M104 141.3h0M104 133.9h0M104 126.5h0M104 119h0M104 111.6h0M104 104.2h0M104 96.8h0M104 89.3h0M104 81.9h0M104 74.5h0M104 59.6h0M104.6 148.8h0M105.3 141.4h0M105.9 134h0M106.6 126.6h0M107.2 119.2h0M107.9 111.8h0M108.5 104.4h0M109.2 97h0M109.8 89.6h0M110.5 82.2h0M111.1 74.8h0M111.8 67.4h0M112.4 60h0M105.3 148.9h0M106.6 141.6h0M107.9 134.2h0M109.2 126.9h0M110.5 119.6h0M111.7 112.3h0M113 105h0M114.3 97.7h0M115.6 90.3h0M116.9 83h0M118.2 75.7h0M120.8 61.1h0M105.9 149h0M107.8 141.8h0M109.8 134.7h0M111.7 127.5h0M113.6 120.3h0M115.5 113.1h0M117.5 106h0M119.4 98.8h0M121.3 91.6h0M123.2 84.4h0M125.2 77.3h0M127.1 70.1h0M129 62.9h0M130.9 55.7h0M106.5 149.2h0M109.1 142.2h0M111.6 135.3h0M114.2 128.3h0M116.7 121.3h0M119.2 114.3h0M121.8 107.3h0M124.3 100.3h0M126.9 93.4h0M129.4 86.4h0M132 79.4h0M134.5 72.4h0M139.6 58.5h0M107.1 149.5h0M110.3 142.7h0M113.4 136h0M116.6 129.3h0M119.7 122.5h0M122.8 115.8h0M126 109.1h0M129.1 102.3h0M132.3 95.6h0M135.4 88.9h0M138.5 82.1h0M141.7 75.4h0M148 61.9h0M107.7 149.8h0M111.4 143.3h0M115.1 136.9h0M118.9 130.5h0M122.6 124h0M126.3 117.6h0M130 111.2h0M133.7 104.7h0M137.4 98.3h0M141.2 91.9h0M144.9 85.4h0M148.6 79h0M152.3 72.6h0M108.3 150.1h0M112.5 144h0M116.8 137.9h0M121 131.9h0M125.3 125.8h0M129.6 119.7h0M133.8 113.6h0M138.1 107.5h0M142.4 101.4h0M146.6 95.3h0M150.9 89.3h0M155.1 83.2h0M159.4 77.1h0M163.7 71h0M108.8 150.5h0M113.6 144.8h0M118.3 139.1h0M123.1 133.4h0M127.9 127.7h0M132.7 122h0M137.4 116.4h0M142.2 110.7h0M147 105h0M151.8 99.3h0M156.5 93.6h0M161.3 87.9h0M166.1 82.2h0M170.9 76.5h0M109.3 150.9h0M114.5 145.7h0M119.8 140.4h0M125 135.2h0M130.3 129.9h0M135.5 124.7h0M140.8 119.4h0M146 114.2h0M151.3 108.9h0M156.5 103.7h0M161.8 98.4h0M167 93.2h0M172.3 87.9h0M182.8 77.4h0M109.7 151.4h0M115.4 146.6h0M121.1 141.9h0M126.8 137.1h0M132.5 132.3h0M138.2 127.5h0M143.8 122.8h0M149.5 118h0M155.2 113.2h0M160.9 108.4h0M166.6 103.7h0M172.3 98.9h0M178 94.1h0M189.4 84.6h0M110.1 151.9h0M116.2 147.7h0M122.3 143.4h0M128.3 139.2h0M134.4 134.9h0M140.5 130.6h0M146.6 126.4h0M152.7 122.1h0M158.8 117.8h0M164.9 113.6h0M170.9 109.3h0M177 105.1h0M183.1 100.8h0M189.2 96.5h0M195.3 92.3h0M110.4 152.5h0M116.9 148.8h0M123.3 145.1h0M129.7 141.3h0M136.2 137.6h0M142.6 133.9h0M149 130.2h0M155.5 126.5h0M161.9 122.8h0M168.3 119h0M174.8 115.3h0M181.2 111.6h0M187.6 107.9h0M194.1 104.2h0M200.5 100.5h0M110.7 153.1h0M117.5 149.9h0M124.2 146.8h0M130.9 143.6h0M137.7 140.5h0M144.4 137.4h0M151.1 134.2h0M157.9 131.1h0M164.6 127.9h0M171.3 124.8h0M178.1 121.7h0M184.8 118.5h0M191.5 115.4h0M198.3 112.2h0M205 109.1h0M111 153.7h0M118 151.1h0M124.9 148.6h0M131.9 146h0M138.9 143.5h0M145.9 141h0M152.9 138.4h0M159.9 135.9h0M166.8 133.3h0M173.8 130.8h0M180.8 128.2h0M187.8 125.7h0M194.8 123.2h0M201.7 120.6h0M215.7 115.5h0M111.2 154.3h0M118.4 152.4h0M125.5 150.4h0M132.7 148.5h0M139.9 146.6h0M147.1 144.7h0M154.2 142.7h0M161.4 140.8h0M168.6 138.9h0M175.8 137h0M182.9 135h0M190.1 133.1h0M197.3 131.2h0M211.7 127.4h0M218.8 125.4h0M111.3 154.9h0M118.6 153.6h0M126 152.3h0M133.3 151h0M140.6 149.7h0M147.9 148.5h0M155.2 147.2h0M162.5 145.9h0M169.9 144.6h0M177.2 143.3h0M184.5 142h0M191.8 140.7h0M199.1 139.4h0M206.4 138.1h0M213.8 136.8h0M221.1 135.6h0M111.4 155.6h0M118.8 154.9h0M126.2 154.3h0M133.6 153.6h0M141 153h0M148.4 152.3h0M155.8 151.7h0M163.2 151h0M170.6 150.4h0M178 149.7h0M185.4 149.1h0M192.8 148.4h0M200.2 147.8h0M207.6 147.1h0M215 146.5h0M111.4 156.2h0M118.9 156.2h0M126.3 156.2h0M133.7 156.2h0M141.2 156.2h0M148.6 156.2h0M156 156.2h0M163.4 156.2h0M170.9 156.2h0M178.3 156.2h0M185.7 156.2h0M193.2 156.2h0M200.6 156.2h0M208 156.2h0M111.4 156.8h0M118.8 157.5h0M126.2 158.1h0M133.6 158.8h0M141 159.4h0M148.4 160.1h0M155.8 160.7h0M163.2 161.4h0M170.6 162h0M178 162.7h0M185.4 163.3h0M192.8 164h0M200.2 164.6h0M207.6 165.3h0M215 165.9h0M222.4 166.6h0M111.3 157.5h0M118.6 158.8h0M126 160.1h0M133.3 161.4h0M140.6 162.7h0M147.9 163.9h0M155.2 165.2h0M162.5 166.5h0M169.9 167.8h0M177.2 169.1h0M184.5 170.4h0M191.8 171.7h0M199.1 173h0M206.4 174.3h0M213.8 175.6h0M221.1 176.8h0M111.2 158.1h0M118.4 160h0M125.5 162h0M132.7 163.9h0M139.9 165.8h0M147.1 167.7h0M154.2 169.7h0M161.4 171.6h0M168.6 173.5h0M175.8 175.4h0M182.9 177.4h0M190.1 179.3h0M197.3 181.2h0M204.5 183.1h0M211.7 185h0M218.8 187h0M111 158.7h0M118 161.3h0M124.9 163.8h0M131.9 166.4h0M138.9 168.9h0M145.9 171.4h0M152.9 174h0M159.9 176.5h0M166.8 179.1h0M173.8 181.6h0M180.8 184.2h0M187.8 186.7h0M194.8 189.2h0M201.7 191.8h0M208.7 194.3h0M215.7 196.9h0M110.7 159.3h0M117.5 162.5h0M124.2 165.6h0M130.9 168.8h0M137.7 171.9h0M144.4 175h0M151.1 178.2h0M157.9 181.3h0M164.6 184.5h0M171.3 187.6h0M178.1 190.7h0M184.8 193.9h0M191.5 197h0M198.3 200.2h0M205 203.3h0M110.4 159.9h0M116.9 163.6h0M123.3 167.3h0M129.7 171.1h0M136.2 174.8h0M142.6 178.5h0M149 182.2h0M155.5 185.9h0M161.9 189.6h0M168.3 193.3h0M174.8 197.1h0M181.2 200.8h0M187.6 204.5h0M194.1 208.2h0M200.5 211.9h0M207 215.6h0M110.1 160.5h0M116.2 164.7h0M122.3 169h0M128.3 173.2h0M134.4 177.5h0M140.5 181.8h0M146.6 186h0M152.7 190.3h0M158.8 194.6h0M164.9 198.8h0M170.9 203.1h0M177 207.3h0M183.1 211.6h0M195.3 220.1h0M201.4 224.4h0M109.7 161h0M115.4 165.8h0M121.1 170.5h0M126.8 175.3h0M132.5 180.1h0M138.2 184.9h0M143.8 189.6h0M149.5 194.4h0M155.2 199.2h0M160.9 204h0M166.6 208.7h0M172.3 213.5h0M178 218.3h0M183.7 223.1h0M195.1 232.6h0M109.3 161.5h0M114.5 166.7h0M119.8 172h0M125 177.2h0M130.3 182.5h0M135.5 187.7h0M140.8 193h0M146 198.2h0M151.3 203.5h0M156.5 208.7h0M161.8 214h0M167 219.2h0M172.3 224.5h0M182.8 235h0M108.8 161.9h0M113.6 167.6h0M118.3 173.3h0M123.1 179h0M127.9 184.7h0M132.7 190.4h0M137.4 196h0M142.2 201.7h0M147 207.4h0M151.8 213.1h0M156.5 218.8h0M161.3 224.5h0M166.1 230.2h0M170.9 235.9h0M108.3 162.3h0M112.5 168.4h0M116.8 174.5h0M121 180.5h0M125.3 186.6h0M129.6 192.7h0M133.8 198.8h0M138.1 204.9h0M142.4 211h0M146.6 217.1h0M150.9 223.1h0M155.1 229.2h0M159.4 235.3h0M163.7 241.4h0M107.7 162.6h0M111.4 169.1h0M115.1 175.5h0M118.9 181.9h0M122.6 188.4h0M126.3 194.8h0M130 201.2h0M133.7 207.7h0M137.4 214.1h0M141.2 220.5h0M144.9 227h0M152.3 239.8h0M107.1 162.9h0M110.3 169.7h0M113.4 176.4h0M116.6 183.1h0M119.7 189.9h0M122.8 196.6h0M126 203.3h0M129.1 210.1h0M132.3 216.8h0M135.4 223.5h0M138.5 230.3h0M141.7 237h0M144.8 243.7h0M106.5 163.2h0M109.1 170.2h0M111.6 177.1h0M114.2 184.1h0M116.7 191.1h0M119.2 198.1h0M121.8 205.1h0M124.3 212.1h0M126.9 219h0M129.4 226h0M132 233h0M134.5 240h0M105.9 163.4h0M107.8 170.6h0M109.8 177.7h0M111.7 184.9h0M113.6 192.1h0M115.5 199.3h0M117.5 206.4h0M119.4 213.6h0M121.3 220.8h0M123.2 228h0M125.2 235.1h0M127.1 242.3h0M102.1 149h0M102.4 148.9h0M102.7 148.9h0M103 148.8h0M103.4 148.8h0M103.7 148.8h0M104 148.8h0M104.3 148.8h0M104.6 148.8h0M105 148.8h0M105.3 148.9h0M105.6 148.9h0M105.9 149h0M106.2 149.1h0M106.5 149.2h0M106.8 149.3h0M107.1 149.5h0M107.4 149.6h0M107.7 149.8h0M108 149.9h0M108.3 150.1h0M108.5 150.3h0M108.8 150.5h0M109 150.7h0M109.3 150.9h0M109.5 151.2h0M109.7 151.4h0M109.9 151.7h0M110.1 151.9h0M110.3 152.2h0M110.4 152.5h0M110.6 152.8h0M110.7 153.1h0M110.9 153.4h0M111 153.7h0M111.1 154h0M111.2 154.3h0M111.3 154.6h0M111.3 154.9h0M111.4 155.2h0M111.4 155.6h0M111.4 155.9h0M111.4 156.2h0M111.4 156.5h0M111.4 156.8h0M111.4 157.2h0M111.3 157.5h0M111.3 157.8h0M111.2 158.1h0M111.1 158.4h0M111 158.7h0M110.9 159h0M110.7 159.3h0M110.6 159.6h0M110.4 159.9h0M110.3 160.2h0M110.1 160.5h0M109.9 160.7h0M109.7 161h0M109.5 161.2h0M109.3 161.5h0M109 161.7h0M108.8 161.9h0M108.5 162.1h0M108.3 162.3h0M108 162.5h0M107.7 162.6h0M107.4 162.8h0M107.1 162.9h0M106.8 163.1h0M106.5 163.2h0M106.2 163.3h0M105.9 163.4h0M100.2 141.8h0M100.8 141.7h0M101.4 141.6h0M102.1 141.5h0M102.7 141.4h0M103.4 141.4h0M104 141.3h0M104.6 141.4h0M105.3 141.4h0M105.9 141.5h0M106.6 141.6h0M107.2 141.7h0M107.8 141.8h0M108.5 142h0M109.1 142.2h0M109.7 142.5h0M110.3 142.7h0M110.9 143h0M111.4 143.3h0M112 143.7h0M112.5 144h0M113 144.4h0M113.6 144.8h0M114 145.2h0M114.5 145.7h0M115 146.2h0M115.4 146.6h0M115.8 147.2h0M116.2 147.7h0M116.5 148.2h0M116.9 148.8h0M117.2 149.3h0M117.5 149.9h0M117.7 150.5h0M118 151.1h0M118.2 151.7h0M118.4 152.4h0M118.5 153h0M118.6 153.6h0M118.7 154.3h0M118.8 154.9h0M118.8 155.6h0M118.9 156.2h0M118.8 156.8h0M118.8 157.5h0M118.7 158.1h0M118.6 158.8h0M118.5 159.4h0M118.4 160h0M118.2 160.7h0M118 161.3h0M117.7 161.9h0M117.5 162.5h0M117.2 163.1h0M116.9 163.6h0M116.5 164.2h0M116.2 164.7h0M115.8 165.2h0M115.4 165.8h0M115 166.2h0M114.5 166.7h0M114 167.2h0M113.6 167.6h0M113 168h0M112.5 168.4h0M112 168.7h0M111.4 169.1h0M110.9 169.4h0M110.3 169.7h0M109.7 169.9h0M109.1 170.2h0M108.5 170.4h0M107.8 170.6h0M98.2 134.7h0M99.2 134.4h0M100.1 134.2h0M101.1 134.1h0M102.1 134h0M103 133.9h0M104 133.9h0M105 133.9h0M105.9 134h0M106.9 134.1h0M107.9 134.2h0M108.8 134.4h0M109.8 134.7h0M110.7 134.9h0M111.6 135.3h0M112.5 135.6h0M113.4 136h0M114.3 136.4h0M115.1 136.9h0M116 137.4h0M116.8 137.9h0M117.6 138.5h0M118.3 139.1h0M119.1 139.8h0M119.8 140.4h0M120.4 141.1h0M121.1 141.9h0M121.7 142.6h0M122.3 143.4h0M122.8 144.2h0M123.3 145.1h0M123.8 145.9h0M124.2 146.8h0M124.6 147.7h0M124.9 148.6h0M125.3 149.5h0M125.5 150.4h0M125.8 151.4h0M126 152.3h0M126.1 153.3h0M126.2 154.3h0M126.3 155.2h0M126.3 156.2h0M126.3 157.2h0M126.2 158.1h0M126.1 159.1h0M126 160.1h0M125.8 161h0M125.5 162h0M125.3 162.9h0M124.9 163.8h0M124.6 164.7h0M124.2 165.6h0M123.8 166.5h0M123.3 167.3h0M122.8 168.2h0M122.3 169h0M121.7 169.8h0M121.1 170.5h0M120.4 171.3h0M119.8 172h0M119.1 172.6h0M118.3 173.3h0M117.6 173.9h0M116.8 174.5h0M116 175h0M115.1 175.5h0M114.3 176h0M113.4 176.4h0M112.5 176.8h0M111.6 177.1h0M110.7 177.5h0M109.8 177.7h0"/><path stroke="#00ff00" stroke-width="3.1" stroke-linecap="round" d="M113.4 242.8h0M113.2 235.3h0M112.9 227.9h0M112.7 220.5h0M112.4 213.1h0M112.1 205.6h0M111.9 198.2h0M111.6 190.8h0M111.4 183.4h0M111.1 175.9h0M110.8 168.5h0M110.6 161.1h0M110.3 153.7h0M110.1 146.2h0M114.1 242.8h0M114.5 235.4h0M114.9 227.9h0M115.3 220.5h0M115.6 213.1h0M116 205.7h0M116.4 198.3h0M116.8 190.8h0M117.2 183.4h0M117.6 176h0M118 168.6h0M118.4 161.2h0M118.8 153.7h0M119.1 146.3h0M114.7 242.8h0M115.8 235.5h0M116.8 228.1h0M117.8 220.8h0M118.9 213.4h0M119.9 206.1h0M120.9 198.7h0M122 191.3h0M123 184h0M124 176.6h0M125.1 169.3h0M126.1 161.9h0M127.1 154.6h0M128.2 147.2h0M129.2 139.8h0M115.4 243h0M117 235.7h0M118.7 228.5h0M120.4 221.2h0M122.1 214h0M123.7 206.8h0M125.4 199.5h0M127.1 192.3h0M128.7 185h0M130.4 177.8h0M132.1 170.6h0M133.8 163.3h0M135.4 156.1h0M137.1 148.8h0M138.8 141.6h0M140.4 134.4h0M116 243.1h0M118.3 236.1h0M120.6 229h0M122.9 221.9h0M125.2 214.9h0M127.5 207.8h0M129.8 200.7h0M132.1 193.7h0M134.4 186.6h0M136.7 179.5h0M139 172.5h0M141.3 165.4h0M143.5 158.3h0M145.8 151.3h0M148.1 144.2h0M116.6 243.4h0M119.5 236.5h0M122.4 229.7h0M125.3 222.8h0M128.2 216h0M131.1 209.2h0M134 202.3h0M136.9 195.5h0M139.8 188.6h0M142.7 181.8h0M145.6 175h0M148.5 168.1h0M151.4 161.3h0M154.3 154.4h0M157.2 147.6h0M160.2 140.8h0M163.1 133.9h0M117.2 243.6h0M120.7 237.1h0M124.2 230.5h0M127.7 224h0M131.1 217.4h0M134.6 210.8h0M138.1 204.3h0M141.6 197.7h0M145.1 191.2h0M148.6 184.6h0M152.1 178h0M155.6 171.5h0M159 164.9h0M162.5 158.4h0M166 151.8h0M169.5 145.2h0M173 138.7h0M117.7 244h0M121.8 237.7h0M125.8 231.5h0M129.9 225.3h0M133.9 219h0M138 212.8h0M142 206.6h0M146.1 200.3h0M150.1 194.1h0M154.2 187.9h0M158.2 181.7h0M162.3 175.4h0M166.3 169.2h0M170.4 163h0M174.4 156.7h0M178.4 150.5h0M182.5 144.3h0M186.5 138h0M118.3 244.3h0M122.8 238.5h0M127.4 232.6h0M132 226.8h0M136.6 220.9h0M141.1 215.1h0M145.7 209.2h0M150.3 203.4h0M154.9 197.5h0M159.4 191.7h0M164 185.8h0M168.6 179.9h0M173.2 174.1h0M177.7 168.2h0M182.3 162.4h0M186.9 156.5h0M200.6 139h0M118.8 244.8h0M123.8 239.3h0M128.9 233.9h0M134 228.5h0M139 223h0M144.1 217.6h0M149.2 212.2h0M154.2 206.7h0M159.3 201.3h0M164.4 195.9h0M169.4 190.4h0M174.5 185h0M179.6 179.6h0M184.6 174.1h0M189.7 168.7h0M194.8 163.3h0M199.8 157.8h0M210 147h0M119.2 245.2h0M124.7 240.3h0M130.3 235.3h0M135.8 230.3h0M141.3 225.3h0M146.8 220.4h0M152.4 215.4h0M157.9 210.4h0M163.4 205.5h0M168.9 200.5h0M174.4 195.5h0M180 190.5h0M185.5 185.6h0M191 180.6h0M196.5 175.6h0M202 170.7h0M207.6 165.7h0M213.1 160.7h0M224.1 150.8h0M119.6 245.7h0M125.6 241.3h0M131.5 236.8h0M137.4 232.3h0M143.4 227.8h0M149.3 223.4h0M155.2 218.9h0M161.2 214.4h0M167.1 210h0M173 205.5h0M179 201h0M184.9 196.5h0M190.8 192.1h0M196.8 187.6h0M202.7 183.1h0M208.6 178.7h0M214.6 174.2h0M120 246.3h0M126.3 242.3h0M132.6 238.4h0M138.9 234.5h0M145.2 230.5h0M151.5 226.6h0M157.8 222.6h0M164.1 218.7h0M170.4 214.8h0M176.7 210.8h0M183 206.9h0M189.3 203h0M195.6 199h0M201.9 195.1h0M208.2 191.1h0M214.5 187.2h0M220.8 183.3h0M227.1 179.3h0M120.3 246.8h0M126.9 243.5h0M133.6 240.1h0M140.2 236.7h0M146.8 233.3h0M153.4 230h0M160 226.6h0M166.7 223.2h0M173.3 219.8h0M179.9 216.5h0M186.5 213.1h0M193.1 209.7h0M199.8 206.3h0M206.4 203h0M213 199.6h0M219.6 196.2h0M226.2 192.9h0M232.9 189.5h0M246.1 182.7h0M252.7 179.4h0M120.6 247.4h0M127.5 244.6h0M134.4 241.9h0M141.3 239.1h0M148.1 236.3h0M155 233.5h0M161.9 230.7h0M168.8 227.9h0M175.7 225.2h0M182.6 222.4h0M189.5 219.6h0M196.4 216.8h0M203.3 214h0M210.1 211.2h0M217 208.5h0M223.9 205.7h0M230.8 202.9h0M237.7 200.1h0M244.6 197.3h0M251.5 194.5h0M258.4 191.8h0M120.8 248h0M127.9 245.9h0M135 243.7h0M142.1 241.5h0M149.2 239.3h0M156.3 237.2h0M163.4 235h0M170.5 232.8h0M177.6 230.6h0M184.8 228.5h0M191.9 226.3h0M199 224.1h0M206.1 222h0M213.2 219.8h0M220.3 217.6h0M227.4 215.4h0M234.5 213.3h0M241.6 211.1h0M248.7 208.9h0M255.8 206.8h0M270 202.4h0M121 248.7h0M128.2 247.1h0M135.5 245.6h0M142.8 244h0M150 242.5h0M157.3 240.9h0M164.6 239.4h0M171.8 237.8h0M179.1 236.3h0M186.4 234.8h0M193.6 233.2h0M200.9 231.7h0M208.2 230.1h0M215.4 228.6h0M222.7 227h0M230 225.5h0M237.2 223.9h0M244.5 222.4h0M251.8 220.8h0M266.3 217.8h0M280.9 214.7h0M121.1 249.3h0M128.4 248.4h0M135.8 247.5h0M143.2 246.6h0M150.6 245.7h0M157.9 244.8h0M165.3 243.9h0M172.7 243h0M180.1 242.1h0M187.4 241.1h0M194.8 240.2h0M202.2 239.3h0M209.6 238.4h0M216.9 237.5h0M224.3 236.6h0M231.7 235.7h0M239.1 234.8h0M246.4 233.9h0M253.8 233h0M261.2 232.1h0M268.6 231.2h0M283.3 229.4h0M121.1 249.9h0M128.6 249.7h0M136 249.4h0M143.4 249.2h0M150.8 248.9h0M158.3 248.6h0M165.7 248.4h0M173.1 248.1h0M180.5 247.9h0M188 247.6h0M195.4 247.3h0M202.8 247.1h0M210.2 246.8h0M217.7 246.6h0M225.1 246.3h0M232.5 246.1h0M239.9 245.8h0M247.4 245.5h0M254.8 245.3h0M262.2 245h0M277.1 244.5h0M291.9 244h0M121.1 250.6h0M128.5 251h0M136 251.4h0M143.4 251.8h0M150.8 252.1h0M158.2 252.5h0M165.6 252.9h0M173.1 253.3h0M180.5 253.7h0M187.9 254.1h0M195.3 254.5h0M202.7 254.9h0M210.2 255.3h0M217.6 255.6h0M225 256h0M232.4 256.4h0M239.8 256.8h0M247.3 257.2h0M254.7 257.6h0M262.1 258h0M269.5 258.4h0M276.9 258.8h0M284.4 259.1h0M291.8 259.5h0M121.1 251.2h0M128.4 252.3h0M135.8 253.3h0M143.1 254.3h0M150.5 255.4h0M157.8 256.4h0M165.2 257.4h0M172.6 258.5h0M179.9 259.5h0M187.3 260.5h0M194.6 261.6h0M202 262.6h0M209.3 263.6h0M216.7 264.7h0M224.1 265.7h0M231.4 266.7h0M238.8 267.8h0M246.1 268.8h0M253.5 269.8h0M260.9 270.9h0M268.2 271.9h0M275.6 272.9h0M120.9 251.9h0M128.2 253.5h0M135.4 255.2h0M142.7 256.9h0M149.9 258.6h0M157.1 260.2h0M164.4 261.9h0M171.6 263.6h0M178.9 265.2h0M186.1 266.9h0M193.3 268.6h0M200.6 270.3h0M207.8 271.9h0M215.1 273.6h0M222.3 275.3h0M229.5 276.9h0M236.8 278.6h0M244 280.3h0M251.3 282h0M258.5 283.6h0M265.7 285.3h0M273 287h0M280.2 288.6h0M120.8 252.5h0M127.8 254.8h0M134.9 257.1h0M142 259.4h0M149 261.7h0M156.1 264h0M163.2 266.3h0M170.2 268.6h0M177.3 270.9h0M184.4 273.2h0M191.4 275.5h0M198.5 277.8h0M205.6 280h0M212.6 282.3h0M219.7 284.6h0M226.8 286.9h0M233.8 289.2h0M240.9 291.5h0M248 293.8h0M255 296.1h0M262.1 298.4h0M269.2 300.7h0M120.5 253.1h0M127.4 256h0M134.2 258.9h0M141.1 261.8h0M147.9 264.7h0M154.7 267.6h0M161.6 270.5h0M168.4 273.4h0M175.3 276.3h0M182.1 279.2h0M188.9 282.1h0M195.8 285h0M202.6 287.9h0M209.5 290.8h0M216.3 293.7h0M223.1 296.7h0M230 299.6h0M236.8 302.5h0M243.6 305.4h0M257.3 311.2h0M264.2 314.1h0M120.3 253.7h0M126.8 257.2h0M133.4 260.7h0M139.9 264.2h0M146.5 267.6h0M153.1 271.1h0M159.6 274.6h0M166.2 278.1h0M172.7 281.6h0M179.3 285.1h0M185.9 288.6h0M192.4 292.1h0M199 295.5h0M205.5 299h0M212.1 302.5h0M218.7 306h0M225.2 309.5h0M231.8 313h0M238.3 316.5h0M251.5 323.5h0M258 326.9h0M119.9 254.2h0M126.2 258.3h0M132.4 262.3h0M138.6 266.4h0M144.9 270.4h0M151.1 274.5h0M157.3 278.5h0M163.6 282.6h0M169.8 286.6h0M176 290.7h0M182.2 294.7h0M188.5 298.8h0M194.7 302.8h0M200.9 306.9h0M207.2 310.9h0M213.4 314.9h0M219.6 319h0M225.9 323h0M232.1 327.1h0M238.3 331.1h0M119.6 254.8h0M125.4 259.3h0M131.3 263.9h0M137.1 268.5h0M143 273.1h0M148.8 277.6h0M154.7 282.2h0M160.5 286.8h0M166.4 291.4h0M172.2 295.9h0M178.1 300.5h0M184 305.1h0M189.8 309.7h0M195.7 314.2h0M201.5 318.8h0M207.4 323.4h0M213.2 328h0M219.1 332.5h0M224.9 337.1h0M230.8 341.7h0M236.7 346.3h0M119.1 255.3h0M124.6 260.3h0M130 265.4h0M135.4 270.5h0M140.9 275.5h0M146.3 280.6h0M151.7 285.7h0M157.2 290.7h0M162.6 295.8h0M168 300.9h0M173.5 305.9h0M178.9 311h0M184.3 316.1h0M189.8 321.1h0M195.2 326.2h0M200.6 331.3h0M206.1 336.3h0M211.5 341.4h0M216.9 346.5h0M222.4 351.5h0M118.7 255.7h0M123.6 261.2h0M128.6 266.8h0M133.6 272.3h0M138.6 277.8h0M143.5 283.3h0M148.5 288.9h0M153.5 294.4h0M158.4 299.9h0M163.4 305.4h0M168.4 310.9h0M173.4 316.5h0M178.3 322h0M183.3 327.5h0M188.3 333h0M193.2 338.5h0M198.2 344.1h0M203.2 349.6h0M208.2 355.1h0M213.1 360.6h0M118.2 256.1h0M122.6 262.1h0M127.1 268h0M131.6 273.9h0M136.1 279.9h0M140.5 285.8h0M145 291.7h0M149.5 297.7h0M153.9 303.6h0M158.4 309.5h0M162.9 315.5h0M167.4 321.4h0M171.8 327.3h0M176.3 333.3h0M180.8 339.2h0M185.2 345.1h0M189.7 351.1h0M198.7 362.9h0M203.1 368.9h0M117.6 256.5h0M121.6 262.8h0M125.5 269.1h0M129.4 275.4h0M133.4 281.7h0M137.3 288h0M141.3 294.3h0M145.2 300.6h0M149.1 306.9h0M153.1 313.2h0M157 319.5h0M160.9 325.8h0M164.9 332.1h0M168.8 338.4h0M172.8 344.7h0M176.7 351h0M180.6 357.3h0M188.5 369.9h0M117.1 256.8h0M120.4 263.4h0M123.8 270.1h0M127.2 276.7h0M130.6 283.3h0M133.9 289.9h0M137.3 296.5h0M140.7 303.2h0M144.1 309.8h0M147.4 316.4h0M150.8 323h0M154.2 329.6h0M157.6 336.3h0M160.9 342.9h0M164.3 349.5h0M167.7 356.1h0M171 362.7h0M174.4 369.4h0M116.5 257.1h0M119.3 264h0M122 270.9h0M124.8 277.8h0M127.6 284.6h0M130.4 291.5h0M133.2 298.4h0M136 305.3h0M138.7 312.2h0M141.5 319.1h0M144.3 326h0M147.1 332.9h0M149.9 339.8h0M152.7 346.6h0M155.4 353.5h0M158.2 360.4h0M161 367.3h0M163.8 374.2h0M115.9 257.3h0M118 264.4h0M120.2 271.5h0M122.4 278.6h0M124.6 285.7h0M126.7 292.8h0M128.9 299.9h0M131.1 307h0M133.3 314.1h0M135.4 321.3h0M137.6 328.4h0M139.8 335.5h0M141.9 342.6h0M144.1 349.7h0M146.3 356.8h0M148.5 363.9h0M150.6 371h0M155 385.2h0M115.2 257.5h0M116.8 264.7h0M118.3 272h0M119.9 279.3h0M121.4 286.5h0M123 293.8h0M124.5 301.1h0M126.1 308.3h0M127.6 315.6h0M129.1 322.9h0M130.7 330.1h0M132.2 337.4h0M133.8 344.7h0M135.3 351.9h0M136.9 359.2h0M138.4 366.5h0M140 373.7h0M114.6 257.6h0M115.5 264.9h0M116.4 272.3h0M117.3 279.7h0M118.2 287.1h0M119.1 294.4h0M120 301.8h0M120.9 309.2h0M121.8 316.6h0M122.8 323.9h0M123.7 331.3h0M124.6 338.7h0M125.5 346.1h0M126.4 353.4h0M127.3 360.8h0M130 382.9h0M114 257.6h0M114.2 265.1h0M114.5 272.5h0M114.7 279.9h0M115 287.3h0M115.3 294.8h0M115.5 302.2h0M115.8 309.6h0M116 317h0M116.3 324.5h0M116.6 331.9h0M116.8 339.3h0M117.1 346.7h0M117.3 354.2h0M117.6 361.6h0M118.1 376.4h0M118.4 383.9h0M113.3 257.6h0M112.9 265h0M112.5 272.5h0M112.1 279.9h0M111.8 287.3h0M111.4 294.7h0M111 302.1h0M110.6 309.6h0M110.2 317h0M109.8 324.4h0M109.4 331.8h0M109 339.2h0M108.6 346.7h0M108.3 354.1h0M107.9 361.5h0M107.5 368.9h0M107.1 376.3h0M112.7 257.6h0M111.6 264.9h0M110.6 272.3h0M109.6 279.6h0M108.5 287h0M107.5 294.3h0M106.5 301.7h0M105.4 309.1h0M104.4 316.4h0M103.4 323.8h0M102.3 331.1h0M101.3 338.5h0M100.3 345.8h0M99.2 353.2h0M98.2 360.6h0M96.1 375.3h0M113.4 242.8h0M113.8 242.8h0M114.1 242.8h0M114.4 242.8h0M114.7 242.8h0M115.1 242.9h0M115.4 243h0M115.7 243h0M116 243.1h0M116.3 243.2h0M116.6 243.4h0M116.9 243.5h0M117.2 243.6h0M117.5 243.8h0M117.7 244h0M118 244.2h0M118.3 244.3h0M118.5 244.6h0M118.8 244.8h0M119 245h0M119.2 245.2h0M119.4 245.5h0M119.6 245.7h0M119.8 246h0M120 246.3h0M120.2 246.5h0M120.3 246.8h0M120.5 247.1h0M120.6 247.4h0M120.7 247.7h0M120.8 248h0M120.9 248.3h0M121 248.7h0M121 249h0M121.1 249.3h0M121.1 249.6h0M121.1 249.9h0M121.1 250.3h0M121.1 250.6h0M121.1 250.9h0M121.1 251.2h0M121 251.6h0M120.9 251.9h0M120.9 252.2h0M120.8 252.5h0M120.7 252.8h0M120.5 253.1h0M120.4 253.4h0M120.3 253.7h0M120.1 254h0M119.9 254.2h0M119.7 254.5h0M119.6 254.8h0M119.3 255h0M119.1 255.3h0M118.9 255.5h0M118.7 255.7h0M118.4 255.9h0M118.2 256.1h0M117.9 256.3h0M117.6 256.5h0M117.4 256.7h0M117.1 256.8h0M116.8 257h0M116.5 257.1h0M116.2 257.2h0M115.9 257.3h0M115.6 257.4h0M115.2 257.5h0M114.9 257.5h0M114.6 257.6h0M114.3 257.6h0M114 257.6h0M113.6 257.6h0M113.3 257.6h0M113 257.6h0M112.7 257.6h0M113.2 235.3h0M113.8 235.3h0M114.5 235.4h0M115.1 235.4h0M115.8 235.5h0M116.4 235.6h0M117 235.7h0M117.7 235.9h0M118.3 236.1h0M118.9 236.3h0M119.5 236.5h0M120.1 236.8h0M120.7 237.1h0M121.2 237.4h0M121.8 237.7h0M122.3 238.1h0M122.8 238.5h0M123.4 238.9h0M123.8 239.3h0M124.3 239.8h0M124.7 240.3h0M125.2 240.7h0M125.6 241.3h0M125.9 241.8h0M126.3 242.3h0M126.6 242.9h0M126.9 243.5h0M127.2 244h0M127.5 244.6h0M127.7 245.2h0M127.9 245.9h0M128.1 246.5h0M128.2 247.1h0M128.4 247.7h0M128.4 248.4h0M128.5 249h0M128.6 249.7h0M128.6 250.3h0M128.5 251h0M128.5 251.6h0M128.4 252.3h0M128.3 252.9h0M128.2 253.5h0M128 254.2h0M127.8 254.8h0M127.6 255.4h0M127.4 256h0M127.1 256.6h0M126.8 257.2h0M126.5 257.7h0M126.2 258.3h0M125.8 258.8h0M125.4 259.3h0M125 259.9h0M124.6 260.3h0M124.1 260.8h0M123.6 261.2h0M123.2 261.7h0M122.6 262.1h0M122.1 262.4h0M121.6 262.8h0M121 263.1h0M120.4 263.4h0M119.9 263.7h0M119.3 264h0M118.7 264.2h0M118 264.4h0M117.4 264.6h0M116.8 264.7h0M116.2 264.9h0M115.5 264.9h0M114.9 265h0M114.2 265.1h0M113.6 265.1h0M112.9 265h0M112.3 265h0M111.6 264.9h0M112.9 227.9h0M113.9 227.9h0M114.9 227.9h0M115.8 228h0M116.8 228.1h0M117.8 228.3h0M118.7 228.5h0M119.7 228.7h0M120.6 229h0M121.5 229.3h0M122.4 229.7h0M123.3 230.1h0M124.2 230.5h0M125 231h0M125.8 231.5h0M126.6 232.1h0M127.4 232.6h0M128.2 233.3h0M128.9 233.9h0M129.6 234.6h0M130.3 235.3h0M130.9 236h0M131.5 236.8h0M132.1 237.6h0M132.6 238.4h0M133.1 239.2h0M133.6 240.1h0M134 241h0M134.4 241.9h0M134.7 242.8h0M135 243.7h0M135.3 244.6h0M135.5 245.6h0M135.7 246.5h0M135.8 247.5h0M135.9 248.5h0M136 249.4h0M136 250.4h0M136 251.4h0M135.9 252.3h0M135.8 253.3h0M135.6 254.3h0M135.4 255.2h0M135.2 256.2h0M134.9 257.1h0M134.6 258h0M134.2 258.9h0M133.8 259.8h0M133.4 260.7h0M132.9 261.5h0M132.4 262.3h0M131.8 263.1h0M131.3 263.9h0M130.6 264.7h0M130 265.4h0M129.3 266.1h0M128.6 266.8h0M127.9 267.4h0M127.1 268h0M126.3 268.6h0M125.5 269.1h0M124.7 269.6h0M123.8 270.1h0M122.9 270.5h0M122 270.9h0M121.1 271.2h0M120.2 271.5h0M119.3 271.8h0M118.3 272h0M117.4 272.2h0M116.4 272.3h0M115.4 272.4h0M114.5 272.5h0M113.5 272.5h0M112.5 272.5h0M111.6 272.4h0M110.6 272.3h0"/><path stroke="#000000" stroke-width="3.1" stroke-linecap="round" d="M15.2 314.6h0M20.1 309.1h0M25.1 303.5h0M30.1 298h0M35.1 292.5h0M15.6 315h0M21.1 310h0M26.5 304.9h0M31.9 299.8h0M37.4 294.8h0M42.8 289.7h0M16.1 315.5h0M21.9 311h0M27.8 306.4h0M33.6 301.8h0M39.5 297.2h0M45.3 292.7h0M16.4 316.1h0M22.7 312h0M28.9 308h0M35.1 303.9h0M41.4 299.9h0M47.6 295.8h0M60.1 287.7h0M16.8 316.6h0M23.3 313.1h0M29.9 309.6h0M36.4 306.1h0M43 302.7h0M49.6 299.2h0M56.1 295.7h0M62.7 292.2h0M17 317.2h0M23.9 314.3h0M30.7 311.4h0M37.6 308.5h0M44.4 305.6h0M51.2 302.7h0M58.1 299.8h0M64.9 296.9h0M71.8 294h0M17.3 317.8h0M24.3 315.5h0M31.4 313.2h0M38.5 310.9h0M45.5 308.6h0M52.6 306.3h0M59.7 304h0M66.7 301.7h0M73.8 299.4h0M17.4 318.4h0M24.7 316.8h0M31.9 315.1h0M39.2 313.4h0M46.4 311.7h0M53.6 310.1h0M60.9 308.4h0M68.1 306.7h0M17.6 319.1h0M24.9 318h0M32.3 317h0M39.6 316h0M47 314.9h0M54.3 313.9h0M61.7 312.9h0M69.1 311.8h0M76.4 310.8h0M83.8 309.8h0M91.1 308.7h0M17.6 319.7h0M25 319.3h0M32.5 318.9h0M39.9 318.5h0M47.3 318.2h0M54.7 317.8h0M62.1 317.4h0M69.6 317h0M77 316.6h0M84.4 316.2h0M91.8 315.8h0M17.6 320.4h0M25.1 320.6h0M32.5 320.9h0M39.9 321.1h0M47.3 321.4h0M54.8 321.7h0M62.2 321.9h0M69.6 322.2h0M77 322.4h0M84.5 322.7h0M99.3 323.2h0M17.6 321h0M24.9 321.9h0M32.3 322.8h0M39.7 323.7h0M47.1 324.6h0M54.4 325.5h0M61.8 326.4h0M69.2 327.3h0M76.6 328.2h0M83.9 329.2h0M91.3 330.1h0M98.7 331h0M17.5 321.6h0M24.7 323.2h0M32 324.7h0M39.3 326.3h0M46.5 327.8h0M53.8 329.4h0M61.1 330.9h0M68.3 332.5h0M75.6 334h0M82.9 335.5h0M90.1 337.1h0M97.4 338.6h0M17.3 322.3h0M24.4 324.4h0M31.5 326.6h0M38.6 328.8h0M45.7 331h0M52.8 333.1h0M59.9 335.3h0M67 337.5h0M74.1 339.7h0M81.3 341.8h0M88.4 344h0M95.5 346.2h0M17.1 322.9h0M24 325.7h0M30.9 328.4h0M37.8 331.2h0M44.6 334h0M51.5 336.8h0M58.4 339.6h0M65.3 342.4h0M72.2 345.1h0M79.1 347.9h0M86 350.7h0M92.9 353.5h0M16.8 323.5h0M23.4 326.8h0M30.1 330.2h0M36.7 333.6h0M43.3 337h0M49.9 340.3h0M56.5 343.7h0M63.2 347.1h0M69.8 350.5h0M76.4 353.8h0M83 357.2h0M16.5 324h0M22.8 328h0M29.1 331.9h0M35.4 335.8h0M41.7 339.8h0M48 343.7h0M54.3 347.7h0M60.6 351.6h0M66.9 355.5h0M73.2 359.5h0M85.8 367.3h0M16.1 324.6h0M22.1 329h0M28 333.5h0M33.9 338h0M39.9 342.5h0M45.8 346.9h0M51.7 351.4h0M57.7 355.9h0M63.6 360.3h0M69.5 364.8h0M81.4 373.8h0M15.7 325.1h0M21.2 330h0M26.8 335h0M32.3 340h0M37.8 345h0M43.3 349.9h0M48.9 354.9h0M54.4 359.9h0M59.9 364.8h0M65.4 369.8h0M70.9 374.8h0M76.5 379.8h0M15.3 325.5h0M20.3 331h0M25.4 336.4h0M30.5 341.8h0M35.5 347.3h0M40.6 352.7h0M45.7 358.1h0M50.7 363.6h0M55.8 369h0M60.9 374.4h0M71 385.3h0M14.8 326h0M19.3 331.8h0M23.9 337.7h0M28.5 343.5h0M33.1 349.4h0M37.6 355.2h0M42.2 361.1h0M46.8 366.9h0M51.4 372.8h0M55.9 378.6h0M60.5 384.5h0M14.2 326.3h0M18.3 332.6h0M22.3 338.8h0M26.4 345h0M30.4 351.3h0M34.5 357.5h0M38.5 363.7h0M42.6 370h0M46.6 376.2h0M50.7 382.4h0M54.7 388.6h0M58.8 394.9h0M13.7 326.7h0M17.2 333.2h0M20.7 339.8h0M24.2 346.3h0M27.6 352.9h0M31.1 359.5h0M34.6 366h0M38.1 372.6h0M41.6 379.1h0M45.1 385.7h0M48.6 392.3h0M13.1 326.9h0M16 333.8h0M18.9 340.6h0M21.8 347.5h0M24.7 354.3h0M27.6 361.1h0M30.5 368h0M33.4 374.8h0M36.3 381.7h0M39.2 388.5h0M45 402.2h0M12.5 327.2h0M14.8 334.2h0M17.1 341.3h0M19.4 348.4h0M21.7 355.4h0M24 362.5h0M26.3 369.6h0M28.6 376.6h0M30.9 383.7h0M33.2 390.8h0M35.5 397.8h0M11.9 327.3h0M13.5 334.6h0M15.2 341.8h0M16.9 349.1h0M18.6 356.3h0M20.2 363.5h0M21.9 370.8h0M23.6 378h0M25.2 385.3h0M26.9 392.5h0M30.3 407h0M11.2 327.5h0M12.3 334.8h0M13.3 342.2h0M14.3 349.5h0M15.4 356.9h0M16.4 364.2h0M17.4 371.6h0M18.5 379h0M19.5 386.3h0M20.5 393.7h0M21.6 401h0M22.6 408.4h0M10.6 327.5h0M11 334.9h0M11.4 342.4h0M11.8 349.8h0M12.1 357.2h0M12.5 364.6h0M12.9 372h0M13.3 379.5h0M13.7 386.9h0M14.1 394.3h0M14.9 409.1h0M9.9 327.5h0M9.7 335h0M9.4 342.4h0M9.2 349.8h0M8.9 357.2h0M8.6 364.7h0M8.4 372.1h0M8.1 379.5h0M7.9 386.9h0M7.6 394.4h0M7.3 401.8h0M7.1 409.2h0M9.3 327.5h0M8.4 334.8h0M7.5 342.2h0M6.6 349.6h0M5.7 357h0M4.8 364.3h0M3.9 371.7h0M3 379.1h0M2.1 386.5h0M1.1 393.8h0M0.2 401.2h0M8.7 327.4h0M7.1 334.6h0M5.6 341.9h0M4 349.2h0M2.5 356.4h0M0.9 363.7h0M-0.6 371h0M-2.2 378.2h0M-3.7 385.5h0M-5.2 392.8h0M-6.8 400h0M8 327.2h0M5.9 334.3h0M3.7 341.4h0M1.5 348.5h0M-0.7 355.6h0M-2.8 362.7h0M-5 369.8h0M-7.2 376.9h0M-9.4 384h0M-11.5 391.2h0M-13.7 398.3h0M-15.9 405.4h0M7.4 327h0M4.6 333.9h0M1.9 340.8h0M-0.9 347.7h0M-3.7 354.5h0M-6.5 361.4h0M-9.3 368.3h0M-12.1 375.2h0M-14.8 382.1h0M-17.6 389h0M-20.4 395.9h0M6.8 326.7h0M3.5 333.3h0M0.1 340h0M-3.3 346.6h0M-6.7 353.2h0M-10 359.8h0M-13.4 366.4h0M-16.8 373.1h0M-20.2 379.7h0M-23.5 386.3h0M-30.3 399.5h0M6.3 326.4h0M2.3 332.7h0M-1.6 339h0M-5.5 345.3h0M-9.5 351.6h0M-13.4 357.9h0M-17.4 364.2h0M-21.3 370.5h0M-25.2 376.8h0M-29.2 383.1h0M-37 395.7h0M5.7 326h0M1.3 332h0M-3.2 337.9h0M-7.7 343.8h0M-12.2 349.8h0M-16.6 355.7h0M-21.1 361.6h0M-25.6 367.6h0M-30 373.5h0M-34.5 379.4h0M-39 385.4h0M5.2 325.6h0M0.3 331.1h0M-4.7 336.7h0M-9.7 342.2h0M-14.7 347.7h0M-19.6 353.2h0M-24.6 358.8h0M-29.6 364.3h0M-34.5 369.8h0M-39.5 375.3h0M-44.5 380.8h0M4.8 325.2h0M-0.7 330.2h0M-6.1 335.3h0M-11.5 340.4h0M-17 345.4h0M-22.4 350.5h0M-27.8 355.6h0M-33.3 360.6h0M-38.7 365.7h0M-44.1 370.8h0M-55 380.9h0M4.3 324.7h0M-1.5 329.2h0M-7.4 333.8h0M-13.2 338.4h0M-19.1 343h0M-24.9 347.5h0M-30.8 352.1h0M-36.6 356.7h0M-42.5 361.3h0M-48.3 365.8h0M4 324.1h0M-2.3 328.2h0M-8.5 332.2h0M-14.7 336.3h0M-21 340.3h0M-27.2 344.4h0M-33.4 348.4h0M-39.7 352.5h0M-45.9 356.5h0M-52.1 360.6h0M-58.3 364.6h0M-64.6 368.7h0M3.6 323.6h0M-2.9 327.1h0M-9.5 330.6h0M-16 334.1h0M-22.6 337.5h0M-29.2 341h0M-35.7 344.5h0M-42.3 348h0M-48.8 351.5h0M-55.4 355h0M-62 358.5h0M3.4 323h0M-3.5 325.9h0M-10.3 328.8h0M-17.2 331.7h0M-24 334.6h0M-30.8 337.5h0M-37.7 340.4h0M-44.5 343.3h0M-51.4 346.2h0M-58.2 349.1h0M-65 352h0M3.1 322.4h0M-3.9 324.7h0M-11 327h0M-18.1 329.3h0M-25.1 331.6h0M-32.2 333.9h0M-39.3 336.2h0M-46.3 338.5h0M-53.4 340.8h0M-60.5 343.1h0M-67.5 345.4h0M-74.6 347.7h0M3 321.8h0M-4.3 323.4h0M-11.5 325.1h0M-18.8 326.8h0M-26 328.5h0M-33.2 330.1h0M-40.5 331.8h0M-47.7 333.5h0M-55 335.1h0M-62.2 336.8h0M-69.4 338.5h0M-76.7 340.2h0M2.8 321.1h0M-4.5 322.2h0M-11.9 323.2h0M-19.2 324.2h0M-26.6 325.3h0M-33.9 326.3h0M-41.3 327.3h0M-48.7 328.4h0M-56 329.4h0M-63.4 330.4h0M-78.1 332.5h0M2.8 320.5h0M-4.6 320.9h0M-12.1 321.3h0M-19.5 321.7h0M-26.9 322h0M-34.3 322.4h0M-41.7 322.8h0M-49.2 323.2h0M-56.6 323.6h0M-64 324h0M-78.8 324.8h0M2.8 319.8h0M-4.7 319.6h0M-12.1 319.3h0M-19.5 319.1h0M-26.9 318.8h0M-34.4 318.5h0M-41.8 318.3h0M-49.2 318h0M-56.6 317.8h0M-64.1 317.5h0M-71.5 317.2h0M-78.9 317h0M15.2 314.6h0M15.4 314.8h0M15.6 315h0M15.8 315.3h0M16.1 315.5h0M16.2 315.8h0M16.4 316.1h0M16.6 316.3h0M16.8 316.6h0M16.9 316.9h0M17 317.2h0M17.2 317.5h0M17.3 317.8h0M17.4 318.1h0M17.4 318.4h0M17.5 318.7h0M17.6 319.1h0M17.6 319.4h0M17.6 319.7h0M17.6 320h0M17.6 320.4h0M17.6 320.7h0M17.6 321h0M17.5 321.3h0M17.5 321.6h0M17.4 322h0M17.3 322.3h0M17.2 322.6h0M17.1 322.9h0M17 323.2h0M16.8 323.5h0M16.7 323.8h0M16.5 324h0M16.3 324.3h0M16.1 324.6h0M15.9 324.8h0M15.7 325.1h0M15.5 325.3h0M15.3 325.5h0M15 325.7h0M14.8 326h0M14.5 326.1h0M14.2 326.3h0M14 326.5h0M13.7 326.7h0M13.4 326.8h0M13.1 326.9h0M12.8 327.1h0M12.5 327.2h0M12.2 327.3h0M11.9 327.3h0M11.6 327.4h0M11.2 327.5h0M10.9 327.5h0M10.6 327.5h0M10.3 327.5h0M9.9 327.5h0M9.6 327.5h0M9.3 327.5h0M9 327.4h0M8.7 327.4h0M8.3 327.3h0M8 327.2h0M7.7 327.1h0M7.4 327h0M7.1 326.9h0M6.8 326.7h0M6.5 326.6h0M6.3 326.4h0M6 326.2h0M5.7 326h0M5.5 325.8h0M5.2 325.6h0M5 325.4h0M4.8 325.2h0M4.6 324.9h0M4.3 324.7h0M4.2 324.4h0M4 324.1h0M3.8 323.9h0M3.6 323.6h0M3.5 323.3h0M3.4 323h0M3.2 322.7h0M3.1 322.4h0M3 322.1h0M3 321.8h0M2.9 321.5h0M2.8 321.1h0M2.8 320.8h0M2.8 320.5h0M2.8 320.2h0M2.8 319.8h0M2.8 319.5h0M20.1 309.1h0M20.6 309.5h0M21.1 310h0M21.5 310.4h0M21.9 311h0M22.3 311.5h0M22.7 312h0M23 312.6h0M23.3 313.1h0M23.6 313.7h0M23.9 314.3h0M24.1 314.9h0M24.3 315.5h0M24.5 316.1h0M24.7 316.8h0M24.8 317.4h0M24.9 318h0M25 318.7h0M25 319.3h0M25.1 320h0M25.1 320.6h0M25 321.3h0M24.9 321.9h0M24.9 322.6h0M24.7 323.2h0M24.6 323.8h0M24.4 324.4h0M24.2 325.1h0M24 325.7h0M23.7 326.3h0M23.4 326.8h0M23.1 327.4h0M22.8 328h0M22.4 328.5h0M22.1 329h0M21.7 329.6h0M21.2 330h0M20.8 330.5h0M20.3 331h0M19.9 331.4h0M19.3 331.8h0M18.8 332.2h0M18.3 332.6h0M17.7 332.9h0M17.2 333.2h0M16.6 333.5h0M16 333.8h0M15.4 334h0M14.8 334.2h0M14.2 334.4h0M13.5 334.6h0M12.9 334.7h0M12.3 334.8h0M11.6 334.9h0M11 334.9h0M10.3 335h0M9.7 335h0M9 334.9h0M8.4 334.8h0M7.7 334.8h0M7.1 334.6h0M6.5 334.5h0M5.9 334.3h0M5.2 334.1h0M4.6 333.9h0M4 333.6h0M3.5 333.3h0M2.9 333h0M2.3 332.7h0M1.8 332.3h0M1.3 332h0M0.7 331.6h0M0.3 331.1h0M-0.2 330.7h0M-0.7 330.2h0M-1.1 329.8h0M-1.5 329.2h0M-1.9 328.7h0M-2.3 328.2h0M-2.6 327.6h0M-2.9 327.1h0M-3.2 326.5h0M-3.5 325.9h0M-3.7 325.3h0M-3.9 324.7h0M-4.1 324.1h0M-4.3 323.4h0M-4.4 322.8h0M-4.5 322.2h0M-4.6 321.5h0M-4.6 320.9h0M-4.7 320.2h0M-4.7 319.6h0M-4.6 318.9h0M25.1 303.5h0M25.8 304.2h0M26.5 304.9h0M27.1 305.6h0M27.8 306.4h0M28.3 307.2h0M28.9 308h0M29.4 308.8h0M29.9 309.6h0M30.3 310.5h0M30.7 311.4h0M31.1 312.3h0M31.4 313.2h0M31.7 314.1h0M31.9 315.1h0M32.1 316h0M32.3 317h0M32.4 318h0M32.5 318.9h0M32.5 319.9h0M32.5 320.9h0M32.4 321.8h0M32.3 322.8h0M32.2 323.8h0M32 324.7h0M31.8 325.7h0M31.5 326.6h0M31.2 327.5h0M30.9 328.4h0M30.5 329.3h0M30.1 330.2h0M29.6 331.1h0M29.1 331.9h0M28.6 332.7h0M28 333.5h0M27.4 334.3h0M26.8 335h0M26.1 335.7h0M25.4 336.4h0M24.7 337h0M23.9 337.7h0M23.1 338.2h0M22.3 338.8h0M21.5 339.3h0M20.7 339.8h0M19.8 340.2h0M18.9 340.6h0M18 341h0M17.1 341.3h0M16.2 341.6h0M15.2 341.8h0M14.3 342h0M13.3 342.2h0M12.3 342.3h0M11.4 342.4h0M10.4 342.4h0M9.4 342.4h0M8.5 342.3h0M7.5 342.2h0M6.5 342.1h0M5.6 341.9h0M4.6 341.7h0M3.7 341.4h0M2.8 341.1h0M1.9 340.8h0M1 340.4h0M0.1 340h0M-0.8 339.5h0M-1.6 339h0M-2.4 338.5h0M-3.2 337.9h0M-4 337.3h0M-4.7 336.7h0M-5.4 336h0M-6.1 335.3h0M-6.7 334.6h0M-7.4 333.8h0M-7.9 333h0M-8.5 332.2h0M-9 331.4h0M-9.5 330.6h0M-9.9 329.7h0M-10.3 328.8h0M-10.7 327.9h0M-11 327h0M-11.3 326.1h0M-11.5 325.1h0M-11.7 324.2h0M-11.9 323.2h0M-12 322.2h0M-12.1 321.3h0M-12.1 320.3h0M-12.1 319.3h0M-12 318.4h0"/><path stroke="#ff0000" stroke-width="3.1" stroke-linecap="round" d="M76.4 266.5h0M83.3 264h0M77 269h0M84.4 267.7h0M77.3 271.6h0M77 274.2h0M84.4 275.5h0M76.4 276.7h0M83.3 279.2h0M75.3 279h0M81.7 282.7h0M73.8 281.2h0M79.5 285.9h0M72 283h0M76.7 288.7h0M69.8 284.5h0M73.5 290.9h0M67.5 285.6h0M70 292.5h0M65 286.2h0M66.3 293.6h0M62.4 286.5h0M62.4 293.9h0M59.8 286.2h0M58.5 293.6h0M57.3 285.6h0M54.8 292.5h0M55 284.5h0M51.3 290.9h0"/><path stroke="#ff0000" stroke-width="3.1" stroke-linecap="round" d="M250.9 119.7h0M250.9 133h0M250.9 170h0M250.9 183.3h0M261.5 85.3h0M261.5 151.5h0M261.5 170h0M274.7 77.4h0M274.7 125h0M274.7 143.6h0M274.7 204.4h0M282.6 93.3h0M282.6 175.3h0M282.6 207.1h0M290.6 125h0M290.6 143.6h0M290.6 162.1h0M290.6 180.6h0M290.6 223h0M298.5 140.9h0M298.5 175.3h0M306.5 140.9h0M264.1 217.7h0M272 238.9h0M261.5 252.1h0M290.6 0.6h0M309.1 61.5h0M239 317h0M224 328h0M208 338h0M192 347h0M228 118h0M233 128h0M238 140h0M244 152h0"/></g><use href="#land"/><use href="#iso"/><use href="#sites"/></g><text x="285.3" y="37.5" font-size="20" >10 km</text><path d="M305.5 43.7h14" stroke="#000" stroke-width="4" stroke-linecap="round"/></g><text x="68.2" y="749.8" font-size="21" text-anchor="end">37°N</text><text x="68.2" y="819.9" font-size="14.5" text-anchor="end">30'</text><text x="68.2" y="894.1" font-size="21" text-anchor="end">36°N</text><text x="68.2" y="963.2" font-size="14.5" text-anchor="end">30'</text><text x="68.2" y="1036.6" font-size="21" text-anchor="end">35°N</text><text x="68.2" y="1104.8" font-size="14.5" text-anchor="end">30'</text><text x="68.2" y="1177.3" font-size="21" text-anchor="end">34°N</text><text x="74.7" y="1186.8" font-size="14.5" text-anchor="middle">30'</text><text x="135.7" y="1190.8" font-size="21" text-anchor="middle">76°W</text><text x="190.7" y="1186.8" font-size="14.5" text-anchor="middle">30'</text><text x="251.7" y="1190.8" font-size="21" text-anchor="middle">75°W</text><text x="306.7" y="1186.8" font-size="14.5" text-anchor="middle">30'</text><text x="367.7" y="1190.8" font-size="21" text-anchor="middle">74°W</text><text x="422.7" y="1186.8" font-size="14.5" text-anchor="middle">30'</text><g transform="translate(458.6,742.3)"><g stroke="#c4c4c4" stroke-width="1" stroke-dasharray="1.8 6.5"><line x1="58" y1="0" x2="58" y2="427.5"/><line x1="116" y1="0" x2="116" y2="427.5"/><line x1="174" y1="0" x2="174" y2="427.5"/><line x1="232" y1="0" x2="232" y2="427.5"/><line x1="290" y1="0" x2="290" y2="427.5"/><line x1="0" y1="72.4" x2="348" y2="72.4"/><line x1="0" y1="144.3" x2="348" y2="144.3"/><line x1="0" y1="215.7" x2="348" y2="215.7"/><line x1="0" y1="286.8" x2="348" y2="286.8"/><line x1="0" y1="357.3" x2="348" y2="357.3"/></g><rect x="0" y="0" width="348" height="427.5" fill="none" stroke="#222" stroke-width="1.3"/><path d="M58 427.5v-3.6M58 0v3.6M0 72.4h3.6M348 72.4h-3.6M116 427.5v-3.6M116 0v3.6M0 144.3h3.6M348 144.3h-3.6M174 427.5v-3.6M174 0v3.6M0 215.7h3.6M348 215.7h-3.6M232 427.5v-3.6M232 0v3.6M0 286.8h3.6M348 286.8h-3.6M290 427.5v-3.6M290 0v3.6M0 357.3h3.6M348 357.3h-3.6" stroke="#333" stroke-width="1.3" fill="none"/><g clip-path="url(#clip)"><path fill="#0000ff" d="M67.7 -1.1H75.6V7.1H67.7ZM98.2 -1.1H106.2V7.1H98.2ZM136.5 -1.1H152.1V7.1H136.5ZM67.7 6.8H75.6V15H67.7ZM82.9 6.8H106.2V15H82.9ZM75.3 14.6H90.9V22.8H75.3ZM98.2 14.6H106.2V22.8H98.2ZM121.2 14.6H129.2V22.8H121.2ZM136.5 14.6H144.5V22.8H136.5ZM190 14.6H198V22.8H190ZM82.9 22.4H98.6V30.6H82.9ZM105.9 22.4H113.9V30.6H105.9ZM121.2 22.4H129.2V30.6H121.2ZM75.3 30.3H83.3V38.5H75.3ZM98.2 30.3H106.2V38.5H98.2ZM113.5 30.3H167.4V38.5H113.5ZM113.5 38.1H175V46.3H113.5ZM75.3 45.9H175V54.1H75.3ZM128.8 53.7H136.8V61.9H128.8ZM159.4 53.7H175V61.9H159.4ZM82.9 61.6H90.9V69.7H82.9ZM98.2 61.6H106.2V69.7H98.2ZM113.5 61.6H136.8V69.7H113.5ZM128.8 69.4H136.8V77.5H128.8ZM144.1 69.4H159.7V77.5H144.1ZM205.3 69.4H213.3V77.5H205.3ZM82.9 77.2H98.6V85.3H82.9ZM105.9 77.2H129.2V85.3H105.9ZM159.4 77.2H167.4V85.3H159.4ZM205.3 77.2H213.3V85.3H205.3ZM82.9 84.9H90.9V93.1H82.9ZM144.1 84.9H152.1V93.1H144.1ZM159.4 84.9H167.4V93.1H159.4ZM182.3 84.9H190.3V93.1H182.3ZM205.3 84.9H213.3V93.1H205.3ZM121.2 92.7H129.2V100.9H121.2ZM151.7 92.7H182.7V100.9H151.7ZM190 92.7H205.6V100.9H190ZM105.9 100.5H113.9V108.6H105.9ZM121.2 100.5H129.2V108.6H121.2ZM136.5 100.5H159.7V108.6H136.5ZM182.3 100.5H190.3V108.6H182.3ZM212.9 100.5H220.9V108.6H212.9ZM121.2 108.3H129.2V116.4H121.2ZM136.5 108.3H144.5V116.4H136.5ZM151.7 108.3H159.7V116.4H151.7ZM167 108.3H175V116.4H167ZM182.3 108.3H198V116.4H182.3ZM105.9 116.1H175V124.2H105.9ZM182.3 116.1H190.3V124.2H182.3ZM197.6 116.1H213.3V124.2H197.6ZM105.9 123.8H190.3V132H105.9ZM197.6 123.8H205.6V132H197.6ZM113.5 131.6H175V139.7H113.5ZM151.7 139.4H159.7V147.5H151.7ZM190 139.4H198V147.5H190ZM128.8 147.1H136.8V155.2H128.8ZM151.7 147.1H159.7V155.2H151.7ZM190 147.1H198V155.2H190ZM220.6 147.1H228.5V155.2H220.6ZM144.1 154.9H152.1V162.9H144.1ZM174.7 154.9H182.7V162.9H174.7ZM190 154.9H228.5V162.9H190ZM144.1 162.6H159.7V170.7H144.1ZM190 162.6H205.6V170.7H190ZM212.9 162.6H220.9V170.7H212.9ZM151.7 170.3H190.3V178.4H151.7ZM128.8 178.1H144.5V186.1H128.8ZM167 178.1H190.3V186.1H167ZM121.2 185.8H136.8V193.9H121.2ZM167 185.8H190.3V193.9H167ZM243.5 185.8H251.5V193.9H243.5ZM258.8 185.8H266.8V193.9H258.8ZM121.2 193.5H129.2V201.6H121.2ZM159.4 193.5H167.4V201.6H159.4ZM136.5 201.2H152.1V209.3H136.5ZM266.4 201.2H274.4V209.3H266.4ZM128.8 208.9H136.8V217H128.8ZM136.5 216.6H144.5V224.7H136.5ZM274.1 216.6H282.1V224.7H274.1ZM266.4 224.3H282.1V232.4H266.4ZM258.8 232H274.4V240.1H258.8ZM266.4 239.7H282.1V247.7H266.4ZM266.4 247.4H274.4V255.4H266.4ZM67.7 278.1H75.6V286.1H67.7ZM52.4 285.7H60.4V293.7H52.4ZM82.9 285.7H90.9V293.7H82.9ZM105.9 285.7H113.9V293.7H105.9ZM60 293.4H90.9V301.4H60ZM67.7 301H83.3V309H67.7ZM105.9 301H113.9V309H105.9ZM235.8 301H243.8V309H235.8ZM98.2 308.7H106.2V316.7H98.2ZM235.8 308.7H243.8V316.7H235.8ZM212.9 316.3H228.5V324.3H212.9ZM243.5 316.3H251.5V324.3H243.5ZM205.3 323.9H220.9V331.9H205.3ZM228.2 323.9H236.2V331.9H228.2ZM182.3 331.6H198V339.5H182.3ZM205.3 331.6H213.3V339.5H205.3ZM220.6 331.6H228.5V339.5H220.6ZM197.6 339.2H205.6V347.2H197.6ZM212.9 339.2H220.9V347.2H212.9ZM98.2 346.8H106.2V354.8H98.2ZM197.6 346.8H205.6V354.8H197.6ZM98.2 354.4H106.2V362.4H98.2Z"/><path fill="#0000cc" d="M75.3 -1.1H98.6V7.1H75.3ZM105.9 -1.1H136.8V7.1H105.9ZM174.7 -1.1H190.3V7.1H174.7ZM75.3 6.8H83.3V15H75.3ZM105.9 6.8H121.5V15H105.9ZM174.7 6.8H182.7V15H174.7ZM67.7 14.6H75.6V22.8H67.7ZM90.6 14.6H98.6V22.8H90.6ZM105.9 14.6H121.5V22.8H105.9ZM128.8 14.6H136.8V22.8H128.8ZM144.1 14.6H152.1V22.8H144.1ZM174.7 14.6H190.3V22.8H174.7ZM75.3 22.4H83.3V30.6H75.3ZM98.2 22.4H106.2V30.6H98.2ZM113.5 22.4H121.5V30.6H113.5ZM128.8 22.4H159.7V30.6H128.8ZM174.7 22.4H190.3V30.6H174.7ZM82.9 30.3H98.6V38.5H82.9ZM105.9 30.3H113.9V38.5H105.9ZM167 30.3H182.7V38.5H167ZM75.3 38.1H113.9V46.3H75.3ZM82.9 53.7H129.2V61.9H82.9ZM136.5 53.7H159.7V61.9H136.5ZM90.6 61.6H98.6V69.7H90.6ZM105.9 61.6H113.9V69.7H105.9ZM136.5 61.6H175V69.7H136.5ZM197.6 61.6H220.9V69.7H197.6ZM82.9 69.4H129.2V77.5H82.9ZM136.5 69.4H144.5V77.5H136.5ZM159.4 69.4H182.7V77.5H159.4ZM197.6 69.4H205.6V77.5H197.6ZM98.2 77.2H106.2V85.3H98.2ZM128.8 77.2H159.7V85.3H128.8ZM167 77.2H175V85.3H167ZM190 77.2H205.6V85.3H190ZM90.6 84.9H144.5V93.1H90.6ZM151.7 84.9H159.7V93.1H151.7ZM167 84.9H175V93.1H167ZM190 84.9H205.6V93.1H190ZM90.6 92.7H121.5V100.9H90.6ZM128.8 92.7H152.1V100.9H128.8ZM182.3 92.7H190.3V100.9H182.3ZM212.9 92.7H220.9V100.9H212.9ZM98.2 100.5H106.2V108.6H98.2ZM113.5 100.5H121.5V108.6H113.5ZM128.8 100.5H136.8V108.6H128.8ZM159.4 100.5H182.7V108.6H159.4ZM190 100.5H198V108.6H190ZM98.2 108.3H121.5V116.4H98.2ZM128.8 108.3H136.8V116.4H128.8ZM144.1 108.3H152.1V116.4H144.1ZM159.4 108.3H167.4V116.4H159.4ZM174.7 108.3H182.7V116.4H174.7ZM174.7 116.1H182.7V124.2H174.7ZM190 116.1H198V124.2H190ZM128.8 139.4H152.1V147.5H128.8ZM159.4 139.4H175V147.5H159.4ZM136.5 147.1H152.1V155.2H136.5ZM159.4 147.1H175V155.2H159.4ZM212.9 147.1H220.9V155.2H212.9ZM151.7 154.9H175V162.9H151.7ZM182.3 154.9H190.3V162.9H182.3ZM159.4 162.6H190.3V170.7H159.4ZM220.6 162.6H228.5V170.7H220.6ZM243.5 170.3H259.1V178.4H243.5ZM243.5 178.1H251.5V186.1H243.5ZM258.8 178.1H266.8V186.1H258.8ZM251.1 185.8H259.1V193.9H251.1ZM266.4 193.5H274.4V201.6H266.4ZM128.8 201.2H136.8V209.3H128.8ZM251.1 201.2H266.8V209.3H251.1ZM274.1 201.2H282.1V209.3H274.1ZM136.5 208.9H144.5V217H136.5ZM274.1 208.9H282.1V217H274.1ZM281.7 216.6H289.7V224.7H281.7ZM281.7 224.3H289.7V232.4H281.7ZM274.1 232H289.7V240.1H274.1ZM281.7 239.7H289.7V247.7H281.7ZM82.9 262.7H90.9V270.8H82.9ZM258.8 262.7H266.8V270.8H258.8ZM67.7 270.4H98.6V278.4H67.7ZM60 278.1H68V286.1H60ZM75.3 278.1H90.9V286.1H75.3ZM98.2 278.1H106.2V286.1H98.2ZM60 285.7H83.3V293.7H60ZM105.9 293.4H113.9V301.4H105.9ZM82.9 301H90.9V309H82.9ZM243.5 301H251.5V309H243.5ZM105.9 308.7H113.9V316.7H105.9ZM228.2 308.7H236.2V316.7H228.2ZM243.5 308.7H251.5V316.7H243.5ZM105.9 316.3H113.9V324.3H105.9ZM228.2 316.3H243.8V324.3H228.2ZM197.6 323.9H205.6V331.9H197.6ZM220.6 323.9H228.5V331.9H220.6ZM197.6 331.6H205.6V339.5H197.6ZM212.9 331.6H220.9V339.5H212.9Z"/><path fill="#0042ff" d="M205.3 92.7H213.3V100.9H205.3ZM197.6 100.5H205.6V108.6H197.6ZM197.6 108.3H213.3V116.4H197.6ZM190 123.8H198V132H190ZM174.7 131.6H182.7V139.7H174.7ZM190 131.6H198V139.7H190ZM174.7 139.4H182.7V147.5H174.7ZM174.7 147.1H190.3V155.2H174.7ZM136.5 162.6H144.5V170.7H136.5ZM144.1 170.3H152.1V178.4H144.1ZM190 170.3H198V178.4H190ZM212.9 170.3H220.9V178.4H212.9ZM190 178.1H198V186.1H190ZM136.5 185.8H144.5V193.9H136.5ZM159.4 185.8H167.4V193.9H159.4ZM128.8 193.5H136.8V201.6H128.8ZM167 193.5H182.7V201.6H167ZM151.7 201.2H159.7V209.3H151.7ZM167 201.2H182.7V209.3H167ZM258.8 216.6H266.8V224.7H258.8ZM258.8 224.3H266.8V232.4H258.8ZM167 232H175V240.1H167ZM258.8 255.1H266.8V263.1H258.8ZM251.1 262.7H259.1V270.8H251.1ZM52.4 293.4H60.4V301.4H52.4ZM52.4 301H68V309H52.4ZM98.2 301H106.2V309H98.2ZM98.2 316.3H106.2V324.3H98.2ZM105.9 323.9H113.9V331.9H105.9ZM190 339.2H198V347.2H190ZM190 346.8H198V354.8H190Z"/><path fill="#0080ff" d="M205.3 100.5H213.3V108.6H205.3ZM182.3 131.6H190.3V139.7H182.3ZM182.3 139.4H190.3V147.5H182.3ZM121.2 154.9H129.2V162.9H121.2ZM136.5 154.9H144.5V162.9H136.5ZM121.2 162.6H129.2V170.7H121.2ZM121.2 170.3H136.8V178.4H121.2ZM136.5 193.5H144.5V201.6H136.5ZM151.7 193.5H159.7V201.6H151.7ZM182.3 193.5H190.3V201.6H182.3ZM159.4 201.2H167.4V209.3H159.4ZM182.3 201.2H190.3V209.3H182.3ZM258.8 208.9H274.4V217H258.8ZM144.1 216.6H152.1V224.7H144.1ZM266.4 216.6H274.4V224.7H266.4ZM174.7 224.3H182.7V232.4H174.7ZM159.4 232H167.4V240.1H159.4ZM174.7 232H182.7V240.1H174.7ZM274.1 247.4H289.7V255.4H274.1ZM266.4 255.1H282.1V263.1H266.4ZM266.4 270.4H274.4V278.4H266.4ZM113.5 293.4H129.2V301.4H113.5ZM113.5 301H121.5V309H113.5ZM113.5 308.7H136.8V316.7H113.5ZM121.2 316.3H129.2V324.3H121.2ZM98.2 323.9H106.2V331.9H98.2ZM113.5 323.9H121.5V331.9H113.5ZM98.2 331.6H106.2V339.5H98.2ZM98.2 339.2H106.2V347.2H98.2ZM205.3 339.2H213.3V347.2H205.3Z"/><path fill="#00bdff" d="M128.8 154.9H136.8V162.9H128.8ZM128.8 162.6H136.8V170.7H128.8ZM136.5 170.3H144.5V178.4H136.5ZM197.6 170.3H205.6V178.4H197.6ZM144.1 178.1H167.4V186.1H144.1ZM205.3 178.1H213.3V186.1H205.3ZM144.1 185.8H159.7V193.9H144.1ZM144.1 193.5H152.1V201.6H144.1ZM144.1 208.9H159.7V217H144.1ZM167 208.9H182.7V217H167ZM167 216.6H190.3V224.7H167ZM151.7 224.3H175V232.4H151.7ZM182.3 224.3H190.3V232.4H182.3ZM266.4 262.7H282.1V270.8H266.4ZM258.8 270.4H266.8V278.4H258.8ZM121.2 301H136.8V309H121.2ZM182.3 339.2H190.3V347.2H182.3ZM182.3 346.8H190.3V354.8H182.3Z"/><path fill="#00faff" d="M205.3 162.6H213.3V170.7H205.3ZM205.3 170.3H213.3V178.4H205.3ZM197.6 178.1H205.6V186.1H197.6ZM190 185.8H213.3V193.9H190ZM159.4 208.9H167.4V217H159.4ZM182.3 208.9H190.3V217H182.3ZM251.1 208.9H259.1V217H251.1ZM151.7 216.6H167.4V224.7H151.7ZM251.1 216.6H259.1V224.7H251.1ZM105.9 331.6H121.5V339.5H105.9ZM105.9 339.2H121.5V347.2H105.9Z"/><path fill="#42ffbd" d="M212.9 178.1H228.5V186.1H212.9ZM212.9 185.8H228.5V193.9H212.9ZM205.3 208.9H213.3V217H205.3Z"/><path fill="#ffff00" d="M190 193.5H198V201.6H190ZM220.6 193.5H228.5V201.6H220.6ZM190 201.2H198V209.3H190ZM190 208.9H198V217H190ZM190 216.6H198V224.7H190Z"/><path fill="#bdff42" d="M197.6 193.5H220.9V201.6H197.6Z"/><path fill="#ffbd00" d="M197.6 201.2H213.3V209.3H197.6ZM197.6 208.9H205.6V217H197.6Z"/><path fill="#ff6100" d="M212.9 201.2H220.9V209.3H212.9Z"/><use href="#land"/><path d="M188.2 201.2L190 198.6M190 198.6L197.6 200.4M197.6 200.4L205.3 200.4M205.3 200.4L212.9 199.9M212.9 199.9L220.6 197.7M188.2 201.2L188.2 208.9M188.2 208.9L187.4 216.6M202.2 216.6L205.3 213.5M187.4 216.6L187.9 224.3" stroke="#000" stroke-width="1" fill="none"/><text x="0" y="4.5" font-size="13" text-anchor="middle" transform="translate(185.4,211.7) rotate(-70)">30</text><use href="#sites"/></g><rect x="3.4" y="20" width="112.5" height="25" fill="url(#jetg)" stroke="#222" stroke-width="1.2"/><text x="285.5" y="37.5" font-size="20" >10 km</text><path d="M307 43.7h14" stroke="#000" stroke-width="4" stroke-linecap="round"/><text x="2.8" y="7.2" font-size="17" text-anchor="middle" fill="#262626">0</text><text x="96.6" y="7.2" font-size="17" text-anchor="middle" fill="#262626">50</text><text x="36.7" y="-20.3" font-size="20" text-anchor="start" fill="#262626">cm/s</text></g><text x="452.1" y="749.8" font-size="21" text-anchor="end">37°N</text><text x="452.1" y="819.9" font-size="14.5" text-anchor="end">30'</text><text x="452.1" y="894.1" font-size="21" text-anchor="end">36°N</text><text x="452.1" y="963.2" font-size="14.5" text-anchor="end">30'</text><text x="452.1" y="1036.6" font-size="21" text-anchor="end">35°N</text><text x="452.1" y="1104.8" font-size="14.5" text-anchor="end">30'</text><text x="452.1" y="1177.3" font-size="21" text-anchor="end">34°N</text><text x="458.6" y="1186.8" font-size="14.5" text-anchor="middle">30'</text><text x="519.6" y="1190.8" font-size="21" text-anchor="middle">76°W</text><text x="574.6" y="1186.8" font-size="14.5" text-anchor="middle">30'</text><text x="635.6" y="1190.8" font-size="21" text-anchor="middle">75°W</text><text x="690.6" y="1186.8" font-size="14.5" text-anchor="middle">30'</text><text x="751.6" y="1190.8" font-size="21" text-anchor="middle">74°W</text><text x="806.6" y="1186.8" font-size="14.5" text-anchor="middle">30'</text><g transform="translate(843.2,742.3)"><g stroke="#c4c4c4" stroke-width="1" stroke-dasharray="1.8 6.5"><line x1="58" y1="0" x2="58" y2="427.5"/><line x1="116" y1="0" x2="116" y2="427.5"/><line x1="174" y1="0" x2="174" y2="427.5"/><line x1="232" y1="0" x2="232" y2="427.5"/><line x1="290" y1="0" x2="290" y2="427.5"/><line x1="0" y1="72.4" x2="348" y2="72.4"/><line x1="0" y1="144.3" x2="348" y2="144.3"/><line x1="0" y1="215.7" x2="348" y2="215.7"/><line x1="0" y1="286.8" x2="348" y2="286.8"/><line x1="0" y1="357.3" x2="348" y2="357.3"/></g><rect x="0" y="0" width="348" height="427.5" fill="none" stroke="#222" stroke-width="1.3"/><path d="M58 427.5v-3.6M58 0v3.6M0 72.4h3.6M348 72.4h-3.6M116 427.5v-3.6M116 0v3.6M0 144.3h3.6M348 144.3h-3.6M174 427.5v-3.6M174 0v3.6M0 215.7h3.6M348 215.7h-3.6M232 427.5v-3.6M232 0v3.6M0 286.8h3.6M348 286.8h-3.6M290 427.5v-3.6M290 0v3.6M0 357.3h3.6M348 357.3h-3.6" stroke="#333" stroke-width="1.3" fill="none"/><g clip-path="url(#clip)"><path fill="#0050ff" d="M67.7 -1.1H228.5V7.1H67.7ZM75.3 6.8H236.2V15H75.3ZM75.3 14.6H236.2V22.8H75.3ZM75.3 22.4H228.5V30.6H75.3ZM75.3 30.3H228.5V38.5H75.3ZM75.3 38.1H228.5V46.3H75.3ZM75.3 45.9H228.5V54.1H75.3ZM82.9 53.7H228.5V61.9H82.9ZM82.9 61.6H228.5V69.7H82.9ZM82.9 69.4H220.9V77.5H82.9ZM82.9 77.2H213.3V85.3H82.9ZM82.9 84.9H220.9V93.1H82.9ZM90.6 92.7H228.5V100.9H90.6ZM98.2 100.5H220.9V108.6H98.2ZM98.2 108.3H167.4V116.4H98.2ZM174.7 108.3H213.3V116.4H174.7ZM98.2 116.1H159.7V124.2H98.2ZM182.3 116.1H213.3V124.2H182.3ZM105.9 123.8H159.7V132H105.9ZM190 123.8H198V132H190ZM113.5 131.6H152.1V139.7H113.5ZM128.8 139.4H144.5V147.5H128.8Z"/><path fill="#00008f" d="M228.2 -1.1H282.1V7.1H228.2ZM304.6 -1.1H350.9V7.1H304.6ZM235.8 6.8H282.1V15H235.8ZM304.6 6.8H350.9V15H304.6ZM235.8 14.6H350.9V22.8H235.8ZM228.2 22.4H350.9V30.6H228.2ZM228.2 30.3H350.9V38.5H228.2ZM228.2 38.1H350.9V46.3H228.2ZM228.2 45.9H305V54.1H228.2ZM327.6 45.9H350.9V54.1H327.6ZM228.2 53.7H305V61.9H228.2ZM327.6 53.7H350.9V61.9H327.6ZM228.2 61.6H274.4V69.7H228.2ZM297 61.6H305V69.7H297ZM327.6 61.6H350.9V69.7H327.6ZM220.6 69.4H259.1V77.5H220.6ZM297 69.4H350.9V77.5H297ZM212.9 77.2H251.5V85.3H212.9ZM297 77.2H350.9V85.3H297ZM220.6 84.9H259.1V93.1H220.6ZM297 84.9H350.9V93.1H297ZM228.2 92.7H243.8V100.9H228.2ZM297 92.7H350.9V100.9H297ZM90.6 100.5H98.6V108.6H90.6ZM220.6 100.5H243.8V108.6H220.6ZM304.6 100.5H350.9V108.6H304.6ZM212.9 108.3H243.8V116.4H212.9ZM312.3 108.3H350.9V116.4H312.3ZM212.9 116.1H236.2V124.2H212.9ZM319.9 116.1H350.9V124.2H319.9ZM98.2 123.8H106.2V132H98.2ZM197.6 123.8H220.9V132H197.6ZM327.6 123.8H350.9V132H327.6ZM105.9 131.6H113.9V139.7H105.9ZM205.3 131.6H228.5V139.7H205.3ZM335.2 131.6H350.9V139.7H335.2ZM105.9 139.4H129.2V147.5H105.9ZM205.3 139.4H220.9V147.5H205.3ZM335.2 139.4H350.9V147.5H335.2ZM113.5 147.1H136.8V155.2H113.5ZM335.2 147.1H350.9V155.2H335.2ZM113.5 154.9H121.5V162.9H113.5ZM335.2 154.9H350.9V162.9H335.2ZM113.5 162.6H121.5V170.7H113.5ZM335.2 162.6H350.9V170.7H335.2ZM335.2 170.3H350.9V178.4H335.2ZM335.2 178.1H350.9V186.1H335.2ZM327.6 185.8H350.9V193.9H327.6ZM327.6 193.5H350.9V201.6H327.6ZM327.6 201.2H350.9V209.3H327.6ZM304.6 208.9H350.9V217H304.6ZM304.6 216.6H350.9V224.7H304.6ZM304.6 224.3H350.9V232.4H304.6ZM304.6 232H350.9V240.1H304.6ZM304.6 239.7H350.9V247.7H304.6ZM304.6 247.4H350.9V255.4H304.6ZM98.2 255.1H106.2V263.1H98.2ZM304.6 255.1H350.9V263.1H304.6ZM98.2 262.7H106.2V270.8H98.2ZM304.6 262.7H350.9V270.8H304.6ZM98.2 270.4H106.2V278.4H98.2ZM312.3 270.4H350.9V278.4H312.3ZM312.3 278.1H350.9V286.1H312.3ZM304.6 285.7H350.9V293.7H304.6ZM297 293.4H350.9V301.4H297ZM289.4 301H350.9V309H289.4ZM281.7 308.7H350.9V316.7H281.7ZM113.5 316.3H121.5V324.3H113.5ZM281.7 316.3H350.9V324.3H281.7ZM274.1 323.9H350.9V331.9H274.1ZM266.4 331.6H350.9V339.5H266.4ZM258.8 339.2H350.9V347.2H258.8ZM251.1 346.8H350.9V354.8H251.1ZM243.5 354.4H350.9V362.4H243.5ZM235.8 362H350.9V370H235.8ZM228.2 369.6H350.9V377.6H228.2ZM174.7 377.2H182.7V385.2H174.7ZM205.3 377.2H350.9V385.2H205.3ZM82.9 384.8H98.6V392.8H82.9ZM144.1 384.8H350.9V392.8H144.1ZM60 392.4H98.6V400.3H60ZM105.9 392.4H350.9V400.3H105.9ZM52.4 400H90.9V407.9H52.4ZM113.5 400H350.9V407.9H113.5ZM6.5 407.6H14.5V415.5H6.5ZM29.4 407.6H90.9V415.5H29.4ZM113.5 407.6H350.9V415.5H113.5ZM6.5 415.2H98.6V423.1H6.5ZM113.5 415.2H350.9V423.1H113.5ZM6.5 422.7H350.9V430.6H6.5Z"/><path fill="#0000b8" d="M281.7 -1.1H305V7.1H281.7ZM281.7 6.8H305V15H281.7ZM304.6 45.9H327.9V54.1H304.6ZM304.6 53.7H327.9V61.9H304.6ZM274.1 61.6H297.4V69.7H274.1ZM304.6 61.6H327.9V69.7H304.6ZM258.8 69.4H297.4V77.5H258.8ZM251.1 77.2H297.4V85.3H251.1ZM258.8 84.9H297.4V93.1H258.8ZM243.5 92.7H297.4V100.9H243.5ZM243.5 100.5H305V108.6H243.5ZM243.5 108.3H312.6V116.4H243.5ZM235.8 116.1H320.3V124.2H235.8ZM220.6 123.8H327.9V132H220.6ZM228.2 131.6H335.6V139.7H228.2ZM220.6 139.4H335.6V147.5H220.6ZM220.6 147.1H335.6V155.2H220.6ZM235.8 154.9H335.6V162.9H235.8ZM243.5 162.6H335.6V170.7H243.5ZM235.8 170.3H243.8V178.4H235.8ZM274.1 170.3H335.6V178.4H274.1ZM235.8 178.1H243.8V186.1H235.8ZM274.1 178.1H335.6V186.1H274.1ZM235.8 185.8H243.8V193.9H235.8ZM274.1 185.8H327.9V193.9H274.1ZM228.2 193.5H251.5V201.6H228.2ZM274.1 193.5H327.9V201.6H274.1ZM220.6 201.2H251.5V209.3H220.6ZM274.1 201.2H327.9V209.3H274.1ZM121.2 208.9H129.2V217H121.2ZM212.9 208.9H251.5V217H212.9ZM289.4 208.9H305V217H289.4ZM121.2 216.6H136.8V224.7H121.2ZM205.3 216.6H251.5V224.7H205.3ZM297 216.6H305V224.7H297ZM121.2 224.3H152.1V232.4H121.2ZM190 224.3H259.1V232.4H190ZM121.2 232H159.7V240.1H121.2ZM182.3 232H259.1V240.1H182.3ZM297 232H305V240.1H297ZM121.2 239.7H259.1V247.7H121.2ZM289.4 239.7H305V247.7H289.4ZM121.2 247.4H251.5V255.4H121.2ZM281.7 247.4H305V255.4H281.7ZM105.9 255.1H251.5V263.1H105.9ZM274.1 255.1H305V263.1H274.1ZM105.9 262.7H251.5V270.8H105.9ZM274.1 262.7H305V270.8H274.1ZM105.9 270.4H259.1V278.4H105.9ZM274.1 270.4H312.6V278.4H274.1ZM105.9 278.1H312.6V286.1H105.9ZM113.5 285.7H305V293.7H113.5ZM128.8 293.4H297.4V301.4H128.8ZM136.5 301H236.2V309H136.5ZM251.1 301H289.7V309H251.1ZM136.5 308.7H228.5V316.7H136.5ZM251.1 308.7H282.1V316.7H251.1ZM128.8 316.3H213.3V324.3H128.8ZM251.1 316.3H282.1V324.3H251.1ZM121.2 323.9H198V331.9H121.2ZM243.5 323.9H274.4V331.9H243.5ZM121.2 331.6H182.7V339.5H121.2ZM235.8 331.6H266.8V339.5H235.8ZM121.2 339.2H182.7V347.2H121.2ZM220.6 339.2H259.1V347.2H220.6ZM105.9 346.8H182.7V354.8H105.9ZM205.3 346.8H251.5V354.8H205.3ZM105.9 354.4H243.8V362.4H105.9ZM98.2 362H236.2V370H98.2ZM98.2 369.6H228.5V377.6H98.2ZM90.6 377.2H175V385.2H90.6ZM182.3 377.2H205.6V385.2H182.3ZM98.2 384.8H144.5V392.8H98.2ZM98.2 392.4H106.2V400.3H98.2ZM90.6 400H113.9V407.9H90.6ZM90.6 407.6H113.9V415.5H90.6ZM98.2 415.2H113.9V423.1H98.2Z"/><path fill="#00a8ff" d="M167 108.3H175V116.4H167ZM159.4 116.1H182.7V124.2H159.4ZM159.4 123.8H190.3V132H159.4ZM151.7 131.6H190.3V139.7H151.7ZM144.1 139.4H167.4V147.5H144.1ZM174.7 139.4H190.3V147.5H174.7ZM136.5 147.1H144.5V155.2H136.5Z"/><path fill="#0000ff" d="M190 131.6H205.6V139.7H190ZM167 139.4H175V147.5H167ZM190 139.4H205.6V147.5H190ZM144.1 147.1H220.9V155.2H144.1ZM121.2 154.9H236.2V162.9H121.2ZM121.2 162.6H243.8V170.7H121.2ZM121.2 170.3H236.2V178.4H121.2ZM243.5 170.3H274.4V178.4H243.5ZM121.2 178.1H236.2V186.1H121.2ZM243.5 178.1H274.4V186.1H243.5ZM121.2 185.8H236.2V193.9H121.2ZM243.5 185.8H274.4V193.9H243.5ZM121.2 193.5H228.5V201.6H121.2ZM251.1 193.5H274.4V201.6H251.1ZM121.2 201.2H220.9V209.3H121.2ZM251.1 201.2H274.4V209.3H251.1ZM128.8 208.9H213.3V217H128.8ZM251.1 208.9H289.7V217H251.1ZM136.5 216.6H205.6V224.7H136.5ZM251.1 216.6H297.4V224.7H251.1ZM151.7 224.3H190.3V232.4H151.7ZM258.8 224.3H305V232.4H258.8ZM159.4 232H182.7V240.1H159.4ZM258.8 232H297.4V240.1H258.8ZM258.8 239.7H289.7V247.7H258.8ZM251.1 247.4H282.1V255.4H251.1ZM251.1 255.1H274.4V263.1H251.1ZM251.1 262.7H274.4V270.8H251.1ZM258.8 270.4H274.4V278.4H258.8ZM235.8 301H251.5V309H235.8ZM228.2 308.7H251.5V316.7H228.2ZM212.9 316.3H251.5V324.3H212.9ZM197.6 323.9H243.8V331.9H197.6ZM182.3 331.6H236.2V339.5H182.3ZM182.3 339.2H220.9V347.2H182.3ZM182.3 346.8H205.6V354.8H182.3Z"/><path fill="#ffc000" d="M90.6 255.1H98.6V263.1H90.6ZM90.6 262.7H98.6V270.8H90.6Z"/><path fill="#800000" d="M82.9 262.7H90.9V270.8H82.9ZM60 270.4H98.6V278.4H60ZM60 278.1H90.9V286.1H60ZM52.4 285.7H90.9V293.7H52.4ZM52.4 293.4H90.9V301.4H52.4ZM52.4 301H90.9V309H52.4Z"/><path fill="#00dcff" d="M90.6 278.1H98.6V286.1H90.6ZM90.6 285.7H106.2V293.7H90.6ZM44.7 293.4H52.7V301.4H44.7ZM90.6 293.4H98.6V301.4H90.6ZM37.1 301H52.7V309H37.1ZM90.6 301H98.6V309H90.6ZM29.4 308.7H98.6V316.7H29.4ZM21.8 316.3H98.6V324.3H21.8ZM14.1 323.9H98.6V331.9H14.1ZM14.1 331.6H98.6V339.5H14.1ZM6.5 339.2H98.6V347.2H6.5ZM6.5 346.8H98.6V354.8H6.5ZM6.5 354.4H98.6V362.4H6.5ZM6.5 362H98.6V370H6.5ZM6.5 369.6H98.6V377.6H6.5ZM6.5 377.2H90.9V385.2H6.5ZM6.5 384.8H83.3V392.8H6.5ZM6.5 392.4H60.4V400.3H6.5ZM6.5 400H52.7V407.9H6.5ZM14.1 407.6H29.8V415.5H14.1Z"/><path fill="#40ffc0" d="M98.2 278.1H106.2V286.1H98.2ZM105.9 285.7H113.9V293.7H105.9ZM98.2 293.4H129.2V301.4H98.2ZM98.2 301H136.8V309H98.2ZM98.2 308.7H136.8V316.7H98.2ZM98.2 316.3H113.9V324.3H98.2ZM121.2 316.3H129.2V324.3H121.2ZM98.2 323.9H121.5V331.9H98.2ZM98.2 331.6H121.5V339.5H98.2ZM98.2 339.2H121.5V347.2H98.2ZM98.2 346.8H106.2V354.8H98.2ZM98.2 354.4H106.2V362.4H98.2Z"/><use href="#land"/><use href="#sites"/></g><rect x="3.4" y="20" width="112.5" height="25" fill="url(#jetg)" stroke="#222" stroke-width="1.2"/><text x="285.5" y="37.5" font-size="20" >10 km</text><path d="M307 43.7h14" stroke="#000" stroke-width="4" stroke-linecap="round"/><text x="4.3" y="7.2" font-size="17" text-anchor="middle" fill="#262626">0</text><text x="49.1" y="7.2" font-size="17" text-anchor="middle" fill="#262626">20</text><text x="95.3" y="7.2" font-size="17" text-anchor="middle" fill="#262626">40</text></g><text x="836.7" y="749.8" font-size="21" text-anchor="end">37°N</text><text x="836.7" y="819.9" font-size="14.5" text-anchor="end">30'</text><text x="836.7" y="894.1" font-size="21" text-anchor="end">36°N</text><text x="836.7" y="963.2" font-size="14.5" text-anchor="end">30'</text><text x="836.7" y="1036.6" font-size="21" text-anchor="end">35°N</text><text x="836.7" y="1104.8" font-size="14.5" text-anchor="end">30'</text><text x="836.7" y="1177.3" font-size="21" text-anchor="end">34°N</text><text x="843.2" y="1186.8" font-size="14.5" text-anchor="middle">30'</text><text x="904.2" y="1190.8" font-size="21" text-anchor="middle">76°W</text><text x="959.2" y="1186.8" font-size="14.5" text-anchor="middle">30'</text><text x="1020.2" y="1190.8" font-size="21" text-anchor="middle">75°W</text><text x="1075.2" y="1186.8" font-size="14.5" text-anchor="middle">30'</text><text x="1136.2" y="1190.8" font-size="21" text-anchor="middle">74°W</text><text x="1191.2" y="1186.8" font-size="14.5" text-anchor="middle">30'</text><text x="248.6" y="129.5" font-size="23.5" font-weight="bold" text-anchor="middle" textLength="201" lengthAdjust="spacingAndGlyphs">2023-07-26 10:00</text><text x="631.8" y="130.4" font-size="20.5" font-weight="bold" text-anchor="middle" textLength="237.1" lengthAdjust="spacingAndGlyphs">GDOP TotalErrors (1.25)</text><text x="1017.1" y="130.4" font-size="20.5" font-weight="bold" text-anchor="middle" textLength="191" lengthAdjust="spacingAndGlyphs">Number of Rads (3)</text><text x="1400" y="130.4" font-size="20.5" font-weight="bold" text-anchor="middle" textLength="189.8" lengthAdjust="spacingAndGlyphs">Number of Sites (2)</text><text x="248.1" y="729.6" font-size="24.5" font-weight="bold" text-anchor="middle" textLength="130.9" lengthAdjust="spacingAndGlyphs">Radial Grid</text><text x="632" y="730.4" font-size="20.5" font-weight="bold" text-anchor="middle" textLength="211.1" lengthAdjust="spacingAndGlyphs">FitDif TotalErrors (30)</text><text x="1016.5" y="729.6" font-size="24.5" font-weight="bold" text-anchor="middle" textLength="130" lengthAdjust="spacingAndGlyphs">Site Codes</text></svg></body></html>
